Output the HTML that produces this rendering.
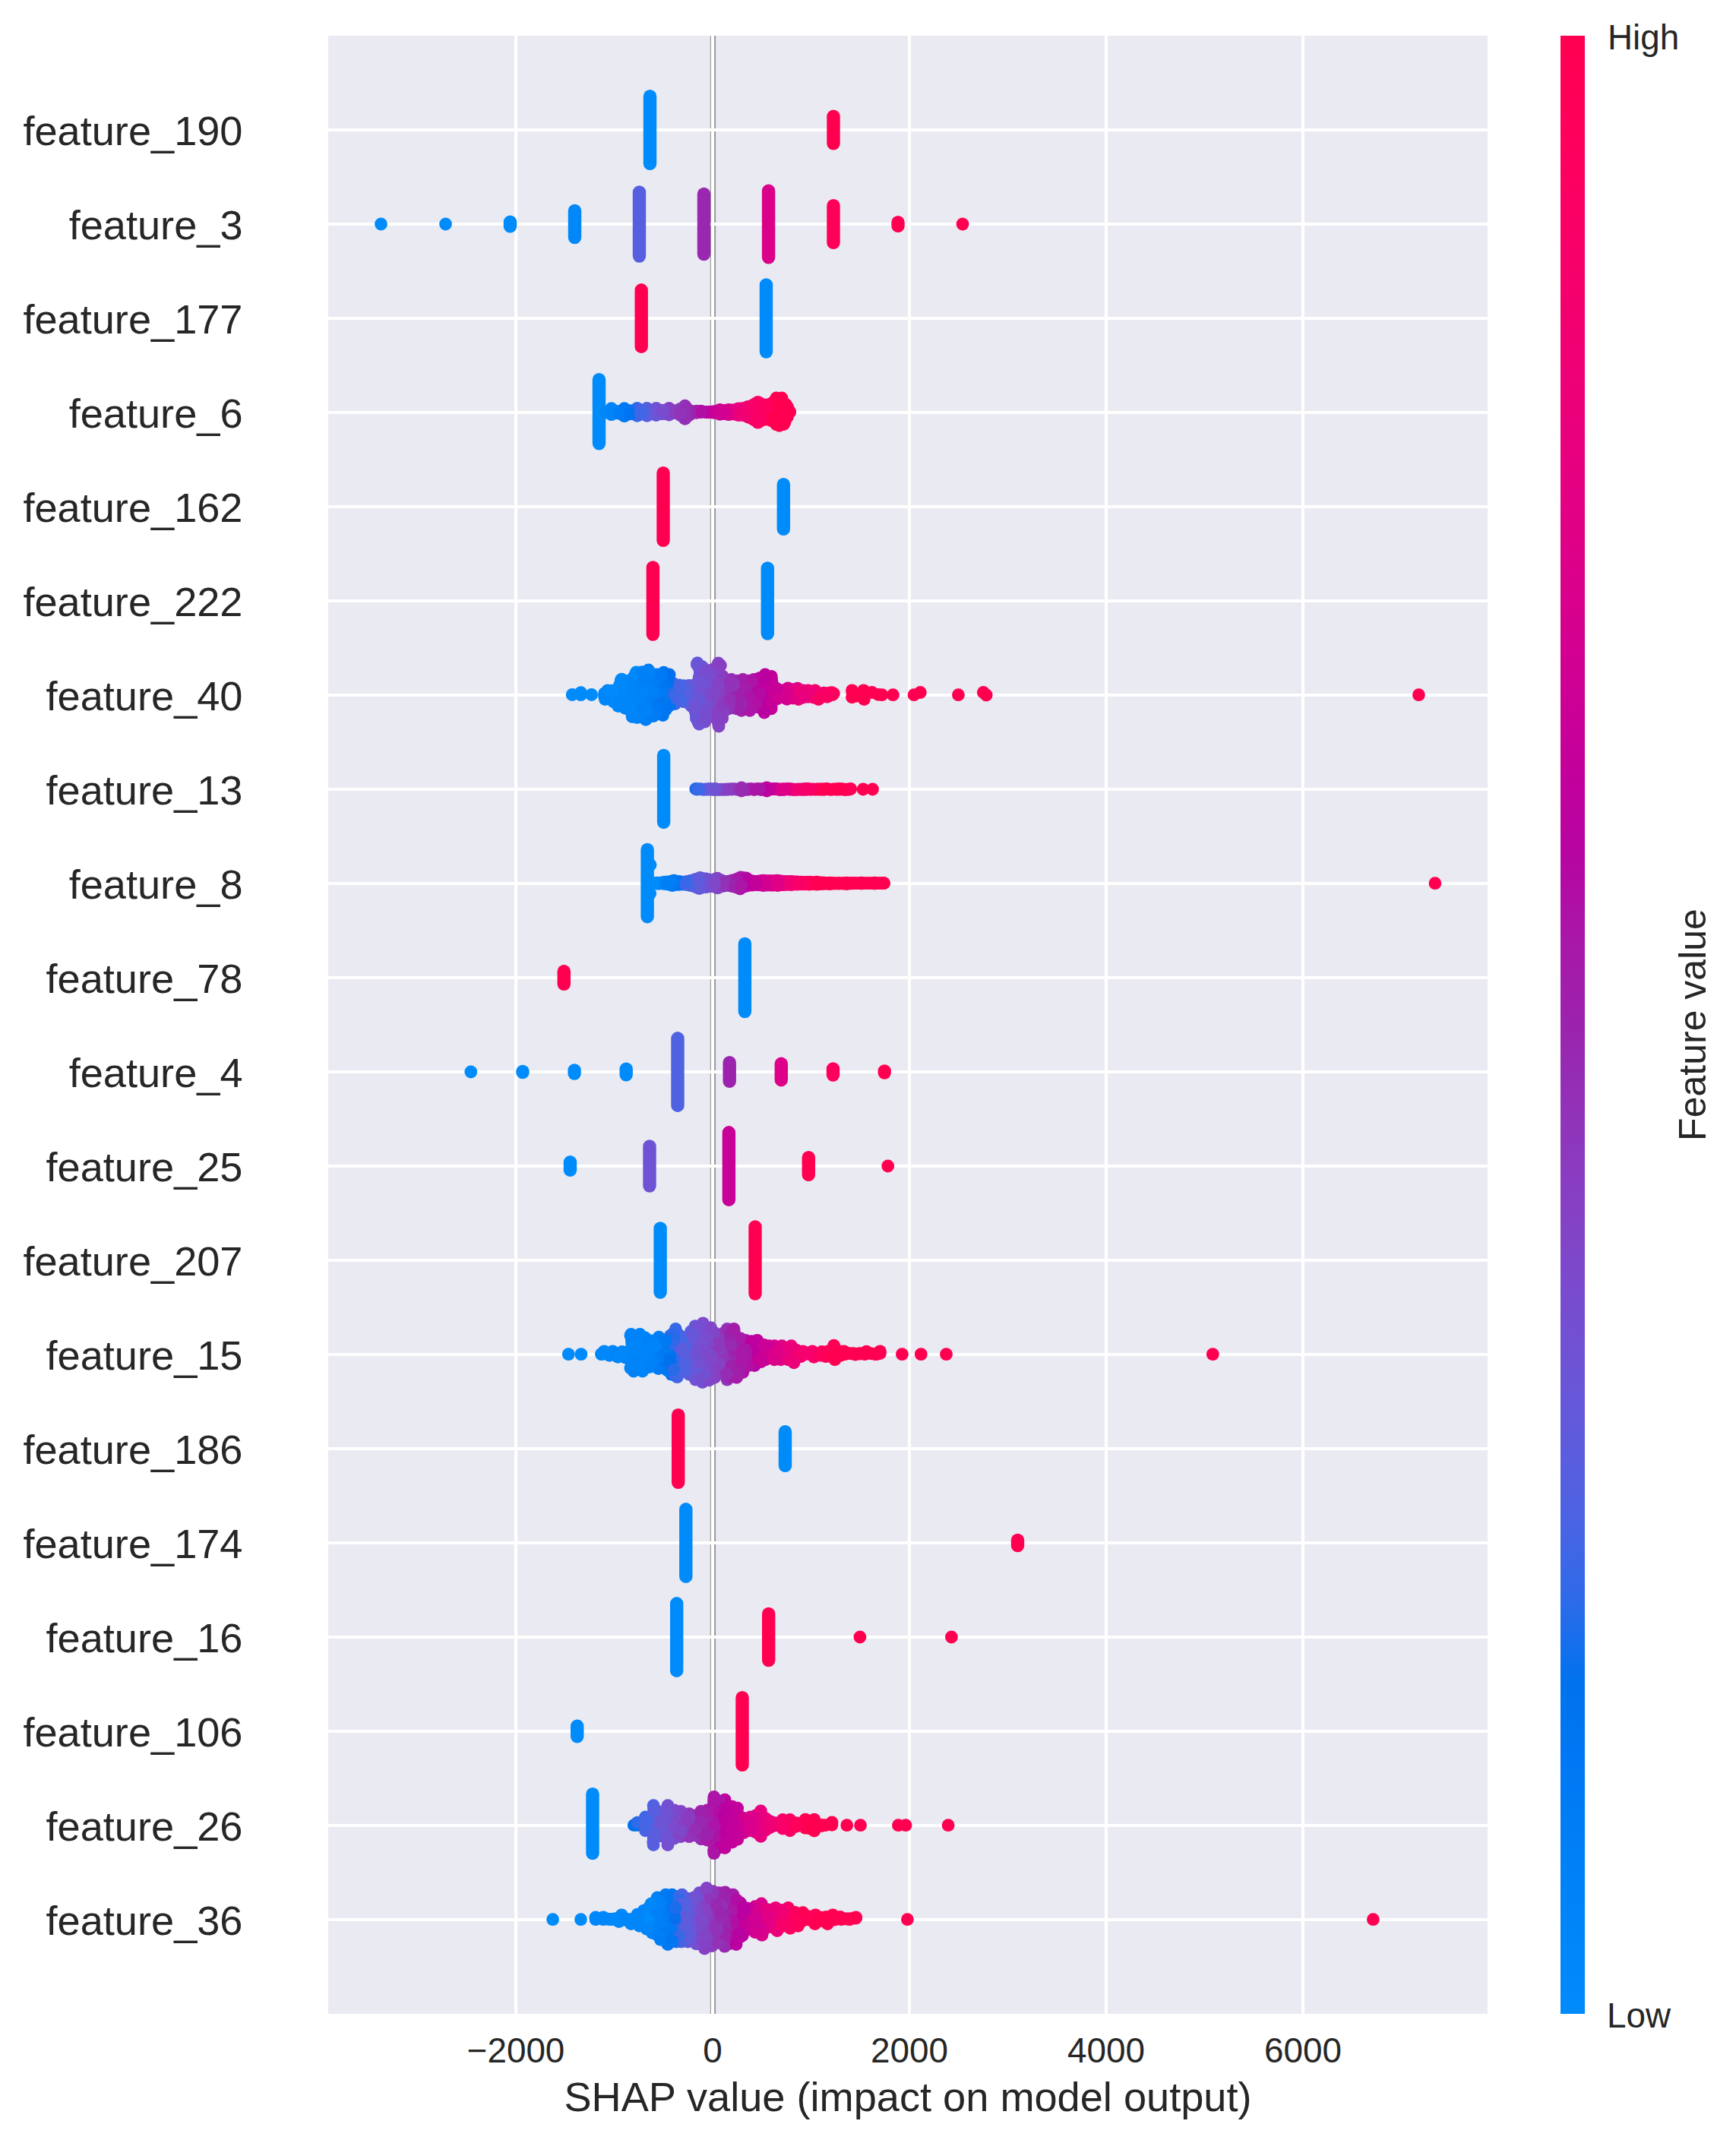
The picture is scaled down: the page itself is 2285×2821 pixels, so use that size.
<!DOCTYPE html><html><head><meta charset="utf-8"><title>SHAP summary</title><style>html,body{margin:0;padding:0;background:#fff}svg{display:block}</style></head><body><svg width="2285" height="2821" viewBox="0 0 2285 2821">
<rect x="0" y="0" width="2285" height="2821" fill="#fff"/>
<rect x="432" y="47" width="1526" height="2604" fill="#eaeaf2"/>
<rect x="934.8" y="47" width="7.3" height="2604" fill="#999"/>
<g stroke="#fff" stroke-width="4.17"><line x1="679" y1="47" x2="679" y2="2651"/><line x1="938" y1="47" x2="938" y2="2651"/><line x1="1197" y1="47" x2="1197" y2="2651"/><line x1="1456" y1="47" x2="1456" y2="2651"/><line x1="1715" y1="47" x2="1715" y2="2651"/><line x1="432" y1="171" x2="1958" y2="171"/><line x1="432" y1="295" x2="1958" y2="295"/><line x1="432" y1="419" x2="1958" y2="419"/><line x1="432" y1="543" x2="1958" y2="543"/><line x1="432" y1="667" x2="1958" y2="667"/><line x1="432" y1="791" x2="1958" y2="791"/><line x1="432" y1="915" x2="1958" y2="915"/><line x1="432" y1="1039" x2="1958" y2="1039"/><line x1="432" y1="1163" x2="1958" y2="1163"/><line x1="432" y1="1287" x2="1958" y2="1287"/><line x1="432" y1="1411" x2="1958" y2="1411"/><line x1="432" y1="1535" x2="1958" y2="1535"/><line x1="432" y1="1659" x2="1958" y2="1659"/><line x1="432" y1="1783" x2="1958" y2="1783"/><line x1="432" y1="1907" x2="1958" y2="1907"/><line x1="432" y1="2031" x2="1958" y2="2031"/><line x1="432" y1="2155" x2="1958" y2="2155"/><line x1="432" y1="2279" x2="1958" y2="2279"/><line x1="432" y1="2403" x2="1958" y2="2403"/><line x1="432" y1="2527" x2="1958" y2="2527"/></g>
<defs><linearGradient id="cb" x1="0" y1="0" x2="0" y2="1"><stop offset="0.0000" stop-color="#ff0051"/><stop offset="0.0417" stop-color="#ff005a"/><stop offset="0.0833" stop-color="#fb0064"/><stop offset="0.1250" stop-color="#f5006c"/><stop offset="0.1667" stop-color="#ef0075"/><stop offset="0.2083" stop-color="#e8007e"/><stop offset="0.2500" stop-color="#e00086"/><stop offset="0.2917" stop-color="#d7008d"/><stop offset="0.3333" stop-color="#cd0095"/><stop offset="0.3750" stop-color="#c2009c"/><stop offset="0.4167" stop-color="#b606a2"/><stop offset="0.4583" stop-color="#a918a8"/><stop offset="0.5000" stop-color="#9b23ad"/><stop offset="0.5417" stop-color="#9232b8"/><stop offset="0.5833" stop-color="#883ec2"/><stop offset="0.6250" stop-color="#7d49cb"/><stop offset="0.6667" stop-color="#6f52d4"/><stop offset="0.7083" stop-color="#5f5bdc"/><stop offset="0.7500" stop-color="#4b63e3"/><stop offset="0.7917" stop-color="#2d6be9"/><stop offset="0.8333" stop-color="#0072ee"/><stop offset="0.8750" stop-color="#0078f3"/><stop offset="0.9167" stop-color="#007ff6"/><stop offset="0.9583" stop-color="#0085f9"/><stop offset="1.0000" stop-color="#008bfb"/></linearGradient></defs>
<rect x="2054" y="47" width="32" height="2604" fill="url(#cb)"/>
<g stroke-width="17.4" stroke-linecap="round"><line x1="855.5" y1="126.7" x2="855.5" y2="215.3" stroke="#008bfb"/><line x1="1097.0" y1="153.1" x2="1097.0" y2="188.9" stroke="#ff0051"/><line x1="671.5" y1="292.1" x2="671.5" y2="297.9" stroke="#008bfb"/><line x1="756.5" y1="277.4" x2="756.5" y2="312.6" stroke="#0088fa"/><line x1="841.5" y1="253.0" x2="841.5" y2="337.0" stroke="#555fe0"/><line x1="926.5" y1="255.4" x2="926.5" y2="334.6" stroke="#9927af"/><line x1="1011.6" y1="251.2" x2="1011.6" y2="338.8" stroke="#db008a"/><line x1="1097.0" y1="270.6" x2="1097.0" y2="319.4" stroke="#ff0058"/><line x1="1182.0" y1="292.7" x2="1182.0" y2="297.3" stroke="#ff0051"/><line x1="844.2" y1="381.8" x2="844.2" y2="456.2" stroke="#ff0051"/><line x1="1008.5" y1="374.9" x2="1008.5" y2="463.1" stroke="#008bfb"/><line x1="788.5" y1="499.6" x2="788.5" y2="583.8" stroke="#008bfb"/><line x1="873.0" y1="622.7" x2="873.0" y2="711.3" stroke="#ff0051"/><line x1="1031.3" y1="637.6" x2="1031.3" y2="696.4" stroke="#008bfb"/><line x1="859.4" y1="746.9" x2="859.4" y2="835.1" stroke="#ff0051"/><line x1="1010.3" y1="748.0" x2="1010.3" y2="834.0" stroke="#008bfb"/><line x1="873.6" y1="994.4" x2="873.6" y2="1082.3" stroke="#008bfb"/><line x1="852.1" y1="1118.5" x2="852.1" y2="1206.7" stroke="#008bfb"/><line x1="742.3" y1="1278.7" x2="742.3" y2="1295.3" stroke="#ff0051"/><line x1="980.4" y1="1242.5" x2="980.4" y2="1331.5" stroke="#008bfb"/><line x1="688.0" y1="1410.5" x2="688.0" y2="1411.5" stroke="#008bfb"/><line x1="756.1" y1="1409.0" x2="756.1" y2="1413.0" stroke="#008bfb"/><line x1="824.2" y1="1407.2" x2="824.2" y2="1414.8" stroke="#008bfb"/><line x1="892.0" y1="1366.8" x2="892.0" y2="1455.2" stroke="#4e62e2"/><line x1="960.2" y1="1398.6" x2="960.2" y2="1423.4" stroke="#9b23ad"/><line x1="1028.3" y1="1400.3" x2="1028.3" y2="1421.7" stroke="#de0088"/><line x1="1096.5" y1="1406.9" x2="1096.5" y2="1415.1" stroke="#fe005c"/><line x1="1164.2" y1="1410.0" x2="1164.2" y2="1412.0" stroke="#ff0051"/><line x1="750.5" y1="1529.8" x2="750.5" y2="1540.2" stroke="#008bfb"/><line x1="855.0" y1="1509.0" x2="855.0" y2="1561.0" stroke="#6e53d5"/><line x1="959.4" y1="1490.8" x2="959.4" y2="1579.2" stroke="#c80098"/><line x1="1064.3" y1="1523.6" x2="1064.3" y2="1546.4" stroke="#ff0051"/><line x1="869.1" y1="1617.0" x2="869.1" y2="1701.0" stroke="#008bfb"/><line x1="994.0" y1="1615.0" x2="994.0" y2="1703.0" stroke="#ff0051"/><line x1="892.7" y1="1862.6" x2="892.7" y2="1951.4" stroke="#ff0051"/><line x1="1033.5" y1="1884.6" x2="1033.5" y2="1929.4" stroke="#008bfb"/><line x1="902.8" y1="1986.8" x2="902.8" y2="2075.2" stroke="#008bfb"/><line x1="1339.5" y1="2027.5" x2="1339.5" y2="2034.5" stroke="#ff0051"/><line x1="890.7" y1="2110.8" x2="890.7" y2="2199.2" stroke="#008bfb"/><line x1="1011.7" y1="2124.5" x2="1011.7" y2="2185.5" stroke="#ff0051"/><line x1="759.7" y1="2272.1" x2="759.7" y2="2285.9" stroke="#008bfb"/><line x1="977.0" y1="2234.6" x2="977.0" y2="2323.4" stroke="#ff0051"/><line x1="780.0" y1="2361.6" x2="780.0" y2="2439.6" stroke="#008bfb"/></g>
<g class="d"><circle cx="922.3" cy="1759.7" r="8.4" fill="#6e53d5"/><circle cx="830.6" cy="1756.4" r="8.4" fill="#0084f9"/><circle cx="1011.7" cy="1778.5" r="8.4" fill="#ce0093"/><circle cx="886.2" cy="904.3" r="8.4" fill="#2d6be9"/><circle cx="862.2" cy="1788.9" r="8.4" fill="#0082f8"/><circle cx="1000.6" cy="908.5" r="8.4" fill="#b802a1"/><circle cx="922.6" cy="2402.6" r="8.4" fill="#9f20ab"/><circle cx="872.5" cy="941.6" r="8.4" fill="#0078f2"/><circle cx="875.2" cy="923.3" r="8.4" fill="#0075f1"/><circle cx="1075.0" cy="1164.2" r="8.4" fill="#ff0051"/><circle cx="920.3" cy="926.0" r="8.4" fill="#7350d2"/><circle cx="838.3" cy="2532.1" r="8.4" fill="#0085f9"/><circle cx="974.2" cy="1170.1" r="8.4" fill="#a71aa9"/><circle cx="990.3" cy="533.6" r="8.4" fill="#f7006a"/><circle cx="873.6" cy="2511.5" r="8.4" fill="#007cf5"/><circle cx="916.2" cy="1167.7" r="8.4" fill="#5b5ddd"/><circle cx="1025.5" cy="528.4" r="8.4" fill="#ff0051"/><circle cx="997.2" cy="1779.9" r="8.4" fill="#bc009f"/><circle cx="1066.4" cy="1161.6" r="8.4" fill="#ff0058"/><circle cx="1080.4" cy="917.1" r="8.4" fill="#f6006b"/><circle cx="868.2" cy="544.7" r="8.4" fill="#6c54d6"/><circle cx="860.2" cy="2404.6" r="8.4" fill="#5c5cdd"/><circle cx="871.5" cy="1790.1" r="8.4" fill="#007ef6"/><circle cx="853.9" cy="2511.4" r="8.4" fill="#0084f9"/><circle cx="840.7" cy="891.9" r="8.4" fill="#0084f9"/><circle cx="936.6" cy="1803.4" r="8.4" fill="#7f47c9"/><circle cx="934.4" cy="2504.0" r="8.4" fill="#8c3abe"/><circle cx="821.1" cy="910.8" r="8.4" fill="#0089fa"/><circle cx="929.7" cy="2552.2" r="8.4" fill="#8442c5"/><circle cx="1131.9" cy="2155.0" r="8.4" fill="#ff0051"/><circle cx="963.7" cy="1039.0" r="8.4" fill="#883fc2"/><circle cx="888.6" cy="2515.7" r="8.4" fill="#0073ef"/><circle cx="1021.4" cy="1159.6" r="8.4" fill="#e00086"/><circle cx="925.3" cy="882.5" r="8.4" fill="#7251d2"/><circle cx="937.7" cy="1038.7" r="8.4" fill="#6657d9"/><circle cx="915.0" cy="2390.0" r="8.4" fill="#9331b7"/><circle cx="922.4" cy="1755.0" r="8.4" fill="#6d53d5"/><circle cx="978.8" cy="2543.5" r="8.4" fill="#c2009b"/><circle cx="966.2" cy="925.5" r="8.4" fill="#9134b9"/><circle cx="901.9" cy="1798.7" r="8.4" fill="#5d5cdd"/><circle cx="890.3" cy="911.6" r="8.4" fill="#3e67e6"/><circle cx="807.8" cy="544.1" r="8.4" fill="#0083f8"/><circle cx="889.8" cy="2501.3" r="8.4" fill="#0070ed"/><circle cx="873.7" cy="2506.8" r="8.4" fill="#007cf5"/><circle cx="979.0" cy="2412.5" r="8.4" fill="#d10092"/><circle cx="1010.9" cy="896.1" r="8.4" fill="#c1009c"/><circle cx="921.2" cy="1797.3" r="8.4" fill="#7152d3"/><circle cx="913.3" cy="1164.0" r="8.4" fill="#5360e0"/><circle cx="979.7" cy="1038.9" r="8.4" fill="#952eb5"/><circle cx="995.6" cy="930.6" r="8.4" fill="#b20da4"/><circle cx="940.2" cy="919.3" r="8.4" fill="#8145c8"/><circle cx="910.3" cy="913.5" r="8.4" fill="#6459da"/><circle cx="940.5" cy="1813.4" r="8.4" fill="#883ec2"/><circle cx="939.1" cy="2521.8" r="8.4" fill="#8f36bb"/><circle cx="1094.7" cy="911.6" r="8.4" fill="#fd005e"/><circle cx="866.2" cy="924.8" r="8.4" fill="#0079f3"/><circle cx="869.2" cy="2550.5" r="8.4" fill="#0081f8"/><circle cx="1093.7" cy="1039.3" r="8.4" fill="#ff0051"/><circle cx="727.6" cy="2526.7" r="8.4" fill="#008bfb"/><circle cx="947.5" cy="2412.9" r="8.4" fill="#b900a0"/><circle cx="849.1" cy="2526.0" r="8.4" fill="#0083f8"/><circle cx="957.1" cy="1749.5" r="8.4" fill="#9134b9"/><circle cx="920.8" cy="950.3" r="8.4" fill="#6d54d5"/><circle cx="1008.0" cy="2394.0" r="8.4" fill="#eb007a"/><circle cx="826.0" cy="921.1" r="8.4" fill="#0086f9"/><circle cx="1021.6" cy="531.5" r="8.4" fill="#ff0052"/><circle cx="870.7" cy="911.6" r="8.4" fill="#0079f3"/><circle cx="909.8" cy="1161.6" r="8.4" fill="#585edf"/><circle cx="910.7" cy="1163.7" r="8.4" fill="#575edf"/><circle cx="947.1" cy="1800.0" r="8.4" fill="#893dc1"/><circle cx="831.8" cy="1800.4" r="8.4" fill="#0084f9"/><circle cx="1003.2" cy="1165.0" r="8.4" fill="#ca0097"/><circle cx="910.2" cy="927.4" r="8.4" fill="#5e5cdc"/><circle cx="966.6" cy="545.2" r="8.4" fill="#e6007f"/><circle cx="985.1" cy="908.3" r="8.4" fill="#a61ba9"/><circle cx="855.1" cy="937.5" r="8.4" fill="#007ff6"/><circle cx="975.6" cy="538.0" r="8.4" fill="#ed0078"/><circle cx="1046.0" cy="917.0" r="8.4" fill="#e20083"/><circle cx="1001.0" cy="931.8" r="8.4" fill="#b408a3"/><circle cx="810.7" cy="924.2" r="8.4" fill="#0088fa"/><circle cx="873.6" cy="2502.1" r="8.4" fill="#0079f3"/><circle cx="1064.3" cy="1163.7" r="8.4" fill="#ff0058"/><circle cx="984.7" cy="2514.1" r="8.4" fill="#c70098"/><circle cx="862.3" cy="1784.2" r="8.4" fill="#0081f7"/><circle cx="1044.1" cy="2522.3" r="8.4" fill="#fa0064"/><circle cx="839.8" cy="942.5" r="8.4" fill="#0081f7"/><circle cx="921.3" cy="1773.8" r="8.4" fill="#7251d2"/><circle cx="939.5" cy="543.3" r="8.4" fill="#c70098"/><circle cx="1008.0" cy="2409.0" r="8.4" fill="#ec0079"/><circle cx="1059.9" cy="911.3" r="8.4" fill="#e8007e"/><circle cx="864.6" cy="2506.6" r="8.4" fill="#0080f7"/><circle cx="1001.0" cy="531.5" r="8.4" fill="#fc0062"/><circle cx="1095.0" cy="2402.3" r="8.4" fill="#ff0051"/><circle cx="929.0" cy="2532.6" r="8.4" fill="#8740c3"/><circle cx="997.6" cy="530.4" r="8.4" fill="#fc0062"/><circle cx="1021.4" cy="1162.3" r="8.4" fill="#de0087"/><circle cx="971.1" cy="2391.4" r="8.4" fill="#cc0095"/><circle cx="975.8" cy="543.6" r="8.4" fill="#eb007a"/><circle cx="927.3" cy="542.3" r="8.4" fill="#b606a2"/><circle cx="972.6" cy="1780.5" r="8.4" fill="#a01fab"/><circle cx="1021.8" cy="534.8" r="8.4" fill="#ff0051"/><circle cx="1119.7" cy="1038.5" r="8.4" fill="#ff0051"/><circle cx="915.2" cy="906.7" r="8.4" fill="#6a56d7"/><circle cx="922.9" cy="1168.5" r="8.4" fill="#6c54d6"/><circle cx="835.2" cy="889.4" r="8.4" fill="#0083f8"/><circle cx="935.7" cy="923.7" r="8.4" fill="#7b4acc"/><circle cx="851.3" cy="2539.4" r="8.4" fill="#0085f9"/><circle cx="946.7" cy="2401.5" r="8.4" fill="#b10ea4"/><circle cx="930.7" cy="886.4" r="8.4" fill="#7a4bce"/><circle cx="960.5" cy="916.1" r="8.4" fill="#962cb3"/><circle cx="1103.7" cy="1038.5" r="8.4" fill="#ff0051"/><circle cx="1096.7" cy="1163.1" r="8.4" fill="#ff0051"/><circle cx="984.7" cy="549.0" r="8.4" fill="#f4006e"/><circle cx="1026.3" cy="1778.6" r="8.4" fill="#df0087"/><circle cx="918.7" cy="950.2" r="8.4" fill="#6e53d5"/><circle cx="1007.9" cy="551.3" r="8.4" fill="#fe005c"/><circle cx="847.0" cy="1793.0" r="8.4" fill="#0085f9"/><circle cx="810.3" cy="919.7" r="8.4" fill="#0086f9"/><circle cx="887.5" cy="2383.0" r="8.4" fill="#7b4acc"/><circle cx="1054.2" cy="2525.0" r="8.4" fill="#ff0055"/><circle cx="1106.9" cy="1781.3" r="8.4" fill="#ff0052"/><circle cx="850.0" cy="947.4" r="8.4" fill="#007ff6"/><circle cx="977.2" cy="1163.2" r="8.4" fill="#af11a5"/><circle cx="886.0" cy="926.0" r="8.4" fill="#3868e7"/><circle cx="1153.6" cy="1782.7" r="8.4" fill="#ff0055"/><circle cx="920.2" cy="906.6" r="8.4" fill="#6956d7"/><circle cx="1030.1" cy="917.8" r="8.4" fill="#c90097"/><circle cx="962.3" cy="1775.3" r="8.4" fill="#9a25ae"/><circle cx="1001.7" cy="1039.5" r="8.4" fill="#b507a2"/><circle cx="951.9" cy="542.4" r="8.4" fill="#d10092"/><circle cx="1033.8" cy="2529.1" r="8.4" fill="#f90067"/><circle cx="830.6" cy="2532.5" r="8.4" fill="#0084f9"/><circle cx="1187.4" cy="1782.7" r="8.4" fill="#ff0051"/><circle cx="913.4" cy="1158.5" r="8.4" fill="#565fdf"/><circle cx="977.3" cy="2547.7" r="8.4" fill="#c1009c"/><circle cx="965.2" cy="930.2" r="8.4" fill="#952eb4"/><circle cx="1024.6" cy="2524.3" r="8.4" fill="#ee0076"/><circle cx="992.1" cy="1795.0" r="8.4" fill="#b20da4"/><circle cx="877.1" cy="1791.2" r="8.4" fill="#0075f1"/><circle cx="887.8" cy="2401.5" r="8.4" fill="#7d49cb"/><circle cx="1098.9" cy="1789.9" r="8.4" fill="#ff0051"/><circle cx="1001.5" cy="2410.0" r="8.4" fill="#e50081"/><circle cx="1054.0" cy="1163.9" r="8.4" fill="#f90066"/><circle cx="844.2" cy="2524.3" r="8.4" fill="#0083f8"/><circle cx="886.9" cy="900.1" r="8.4" fill="#4465e5"/><circle cx="979.0" cy="2408.7" r="8.4" fill="#d30090"/><circle cx="964.7" cy="2543.7" r="8.4" fill="#a819a8"/><circle cx="951.8" cy="1803.8" r="8.4" fill="#942fb5"/><circle cx="996.7" cy="536.6" r="8.4" fill="#fc0062"/><circle cx="985.2" cy="932.8" r="8.4" fill="#ac15a7"/><circle cx="1021.3" cy="1774.1" r="8.4" fill="#d8008d"/><circle cx="878.5" cy="2510.5" r="8.4" fill="#007af4"/><circle cx="953.0" cy="1163.2" r="8.4" fill="#9331b6"/><circle cx="1012.1" cy="545.7" r="8.4" fill="#ff005b"/><circle cx="1009.6" cy="1162.3" r="8.4" fill="#d40090"/><circle cx="950.3" cy="914.2" r="8.4" fill="#8343c6"/><circle cx="932.3" cy="1748.1" r="8.4" fill="#8442c5"/><circle cx="841.2" cy="924.1" r="8.4" fill="#0082f8"/><circle cx="871.5" cy="1162.0" r="8.4" fill="#0084f9"/><circle cx="964.2" cy="1166.4" r="8.4" fill="#9c23ad"/><circle cx="1106.5" cy="1781.8" r="8.4" fill="#ff0051"/><circle cx="914.7" cy="2412.3" r="8.4" fill="#962cb3"/><circle cx="917.1" cy="1162.6" r="8.4" fill="#575fdf"/><circle cx="920.5" cy="2491.7" r="8.4" fill="#7251d2"/><circle cx="907.3" cy="1773.5" r="8.4" fill="#585edf"/><circle cx="1070.5" cy="918.0" r="8.4" fill="#f4006e"/><circle cx="939.5" cy="2373.2" r="8.4" fill="#ab15a7"/><circle cx="1084.7" cy="1162.2" r="8.4" fill="#ff0051"/><circle cx="941.6" cy="1804.9" r="8.4" fill="#8542c5"/><circle cx="933.3" cy="2546.1" r="8.4" fill="#8c3abe"/><circle cx="906.9" cy="902.4" r="8.4" fill="#5c5cdd"/><circle cx="983.7" cy="2533.6" r="8.4" fill="#ce0094"/><circle cx="1133.8" cy="1163.0" r="8.4" fill="#ff0051"/><circle cx="1212.3" cy="1782.7" r="8.4" fill="#ff0051"/><circle cx="1013.5" cy="2520.6" r="8.4" fill="#e40081"/><circle cx="873.3" cy="2553.8" r="8.4" fill="#007cf5"/><circle cx="1059.7" cy="1038.5" r="8.4" fill="#f6006c"/><circle cx="958.9" cy="1165.4" r="8.4" fill="#9430b6"/><circle cx="927.0" cy="1759.4" r="8.4" fill="#784dcf"/><circle cx="858.5" cy="2542.4" r="8.4" fill="#0086fa"/><circle cx="815.8" cy="901.2" r="8.4" fill="#0086f9"/><circle cx="1017.7" cy="1038.6" r="8.4" fill="#cb0096"/><circle cx="941.3" cy="1768.4" r="8.4" fill="#8b3cc0"/><circle cx="826.2" cy="898.2" r="8.4" fill="#0087fa"/><circle cx="1009.7" cy="1039.4" r="8.4" fill="#bf009d"/><circle cx="1049.2" cy="2519.9" r="8.4" fill="#ff0058"/><circle cx="891.3" cy="903.6" r="8.4" fill="#4166e5"/><circle cx="880.8" cy="895.2" r="8.4" fill="#026fed"/><circle cx="954.5" cy="2493.6" r="8.4" fill="#9b23ad"/><circle cx="924.7" cy="2521.4" r="8.4" fill="#7e48cb"/><circle cx="962.1" cy="1794.0" r="8.4" fill="#a11fab"/><circle cx="829.9" cy="922.5" r="8.4" fill="#0087fa"/><circle cx="803.0" cy="2526.4" r="8.4" fill="#0085f9"/><circle cx="900.5" cy="905.5" r="8.4" fill="#4964e3"/><circle cx="833.9" cy="2526.5" r="8.4" fill="#0087fa"/><circle cx="974.0" cy="1155.9" r="8.4" fill="#a819a8"/><circle cx="836.2" cy="1773.5" r="8.4" fill="#0080f7"/><circle cx="830.0" cy="936.2" r="8.4" fill="#0085f9"/><circle cx="859.3" cy="2533.4" r="8.4" fill="#0088fa"/><circle cx="869.5" cy="2416.9" r="8.4" fill="#6b55d6"/><circle cx="1020.5" cy="2399.7" r="8.4" fill="#f10073"/><circle cx="1081.7" cy="1779.5" r="8.4" fill="#fd005e"/><circle cx="1026.1" cy="548.8" r="8.4" fill="#ff0052"/><circle cx="1022.3" cy="1783.0" r="8.4" fill="#da008a"/><circle cx="874.7" cy="542.2" r="8.4" fill="#794cce"/><circle cx="949.7" cy="1039.2" r="8.4" fill="#744fd1"/><circle cx="840.7" cy="937.9" r="8.4" fill="#0081f8"/><circle cx="982.6" cy="1161.2" r="8.4" fill="#b604a2"/><circle cx="1074.7" cy="2523.5" r="8.4" fill="#ff0051"/><circle cx="860.5" cy="2380.6" r="8.4" fill="#5a5dde"/><circle cx="941.1" cy="1164.9" r="8.4" fill="#7f47ca"/><circle cx="831.3" cy="1763.5" r="8.4" fill="#0086f9"/><circle cx="945.6" cy="880.5" r="8.4" fill="#8343c6"/><circle cx="916.3" cy="2558.8" r="8.4" fill="#754fd1"/><circle cx="920.0" cy="1166.3" r="8.4" fill="#605bdc"/><circle cx="1111.8" cy="1780.9" r="8.4" fill="#ff0051"/><circle cx="946.5" cy="2397.7" r="8.4" fill="#b20ca4"/><circle cx="845.0" cy="924.8" r="8.4" fill="#0081f8"/><circle cx="1012.2" cy="1162.3" r="8.4" fill="#d40090"/><circle cx="1032.3" cy="549.4" r="8.4" fill="#ff0051"/><circle cx="916.2" cy="1160.0" r="8.4" fill="#5d5cdd"/><circle cx="1004.7" cy="2514.7" r="8.4" fill="#dd0088"/><circle cx="994.5" cy="541.1" r="8.4" fill="#f80067"/><circle cx="1087.2" cy="1785.7" r="8.4" fill="#fc0060"/><circle cx="989.3" cy="1159.6" r="8.4" fill="#bb009f"/><circle cx="836.3" cy="922.6" r="8.4" fill="#0083f8"/><circle cx="1010.8" cy="533.0" r="8.4" fill="#ff0059"/><circle cx="980.5" cy="932.8" r="8.4" fill="#a01fab"/><circle cx="1114.2" cy="1162.2" r="8.4" fill="#ff0051"/><circle cx="898.9" cy="539.6" r="8.4" fill="#9331b7"/><circle cx="970.9" cy="2387.6" r="8.4" fill="#c80098"/><circle cx="963.8" cy="2425.0" r="8.4" fill="#c3009b"/><circle cx="976.0" cy="906.2" r="8.4" fill="#9926af"/><circle cx="876.2" cy="2494.1" r="8.4" fill="#007bf4"/><circle cx="947.3" cy="1162.8" r="8.4" fill="#8740c3"/><circle cx="983.3" cy="1165.8" r="8.4" fill="#b409a3"/><circle cx="966.3" cy="1753.3" r="8.4" fill="#a01fab"/><circle cx="888.5" cy="2530.0" r="8.4" fill="#0072ee"/><circle cx="819.3" cy="542.8" r="8.4" fill="#007cf5"/><circle cx="1037.4" cy="1789.9" r="8.4" fill="#e10084"/><circle cx="883.3" cy="2545.6" r="8.4" fill="#0079f3"/><circle cx="1005.5" cy="911.0" r="8.4" fill="#bb009f"/><circle cx="966.2" cy="1792.1" r="8.4" fill="#9f20ab"/><circle cx="970.2" cy="1159.8" r="8.4" fill="#a11fab"/><circle cx="886.6" cy="1774.4" r="8.4" fill="#3e67e6"/><circle cx="880.1" cy="909.7" r="8.4" fill="#1d6deb"/><circle cx="1158.4" cy="1778.8" r="8.4" fill="#ff0051"/><circle cx="972.0" cy="1766.2" r="8.4" fill="#a918a8"/><circle cx="1029.1" cy="1771.6" r="8.4" fill="#de0087"/><circle cx="971.6" cy="1799.5" r="8.4" fill="#a818a8"/><circle cx="1026.8" cy="1787.4" r="8.4" fill="#e00085"/><circle cx="997.1" cy="1767.0" r="8.4" fill="#bf009d"/><circle cx="1147.7" cy="911.5" r="8.4" fill="#ff0051"/><circle cx="1015.0" cy="929.6" r="8.4" fill="#c80098"/><circle cx="875.3" cy="908.3" r="8.4" fill="#0076f1"/><circle cx="860.0" cy="935.5" r="8.4" fill="#007bf4"/><circle cx="841.8" cy="1778.3" r="8.4" fill="#0082f8"/><circle cx="849.5" cy="2391.9" r="8.4" fill="#3968e7"/><circle cx="847.4" cy="544.3" r="8.4" fill="#4a63e3"/><circle cx="967.2" cy="1782.4" r="8.4" fill="#a41caa"/><circle cx="1036.9" cy="1164.4" r="8.4" fill="#ed0078"/><circle cx="943.9" cy="2527.0" r="8.4" fill="#9233b9"/><circle cx="947.2" cy="1165.3" r="8.4" fill="#8640c4"/><circle cx="968.2" cy="1160.4" r="8.4" fill="#a31daa"/><circle cx="943.2" cy="1159.6" r="8.4" fill="#8641c4"/><circle cx="955.1" cy="922.6" r="8.4" fill="#8d39bd"/><circle cx="963.3" cy="2557.9" r="8.4" fill="#a61aa9"/><circle cx="971.8" cy="546.5" r="8.4" fill="#e9007d"/><circle cx="970.2" cy="926.3" r="8.4" fill="#9d22ac"/><circle cx="1111.6" cy="1162.7" r="8.4" fill="#ff0051"/><circle cx="916.3" cy="1790.3" r="8.4" fill="#6259da"/><circle cx="952.6" cy="1785.3" r="8.4" fill="#8f37bc"/><circle cx="1011.4" cy="923.8" r="8.4" fill="#c70098"/><circle cx="821.0" cy="929.2" r="8.4" fill="#0086fa"/><circle cx="970.2" cy="1168.4" r="8.4" fill="#a01fab"/><circle cx="1034.4" cy="2520.0" r="8.4" fill="#f6006c"/><circle cx="1120.6" cy="1162.9" r="8.4" fill="#ff0053"/><circle cx="1072.8" cy="908.8" r="8.4" fill="#f7006a"/><circle cx="1003.7" cy="2543.6" r="8.4" fill="#de0087"/><circle cx="999.9" cy="894.5" r="8.4" fill="#b604a2"/><circle cx="1153.6" cy="1162.6" r="8.4" fill="#ff0051"/><circle cx="861.3" cy="1765.3" r="8.4" fill="#0084f9"/><circle cx="853.5" cy="882.0" r="8.4" fill="#007df5"/><circle cx="1093.2" cy="1163.1" r="8.4" fill="#ff0051"/><circle cx="957.5" cy="1799.3" r="8.4" fill="#972bb2"/><circle cx="1182.4" cy="2402.7" r="8.4" fill="#ff0051"/><circle cx="906.6" cy="2395.2" r="8.4" fill="#8e38bd"/><circle cx="957.5" cy="1789.9" r="8.4" fill="#962cb3"/><circle cx="889.9" cy="923.6" r="8.4" fill="#4066e6"/><circle cx="833.5" cy="2530.9" r="8.4" fill="#0086f9"/><circle cx="1031.7" cy="1783.0" r="8.4" fill="#de0087"/><circle cx="1008.4" cy="2401.5" r="8.4" fill="#e8007d"/><circle cx="1001.2" cy="917.8" r="8.4" fill="#b901a0"/><circle cx="934.5" cy="1161.3" r="8.4" fill="#744fd1"/><circle cx="800.4" cy="917.3" r="8.4" fill="#008afb"/><circle cx="815.0" cy="914.4" r="8.4" fill="#0089fa"/><circle cx="836.7" cy="542.5" r="8.4" fill="#326ae8"/><circle cx="1040.8" cy="917.1" r="8.4" fill="#db008a"/><circle cx="983.8" cy="2519.0" r="8.4" fill="#c1009c"/><circle cx="948.7" cy="542.4" r="8.4" fill="#d10092"/><circle cx="850.2" cy="919.9" r="8.4" fill="#0082f8"/><circle cx="1024.0" cy="1159.7" r="8.4" fill="#e00085"/><circle cx="1022.2" cy="557.7" r="8.4" fill="#ff0051"/><circle cx="918.0" cy="873.0" r="8.4" fill="#6558d9"/><circle cx="922.7" cy="1163.6" r="8.4" fill="#6a55d7"/><circle cx="930.8" cy="2398.7" r="8.4" fill="#a918a8"/><circle cx="1046.5" cy="2517.3" r="8.4" fill="#fe005c"/><circle cx="969.6" cy="2538.4" r="8.4" fill="#ae12a5"/><circle cx="861.2" cy="902.7" r="8.4" fill="#007ef6"/><circle cx="903.4" cy="2543.8" r="8.4" fill="#595ede"/><circle cx="904.6" cy="2529.3" r="8.4" fill="#6657d9"/><circle cx="1032.1" cy="1778.6" r="8.4" fill="#e20084"/><circle cx="881.1" cy="888.0" r="8.4" fill="#196deb"/><circle cx="926.3" cy="1783.2" r="8.4" fill="#7251d2"/><circle cx="1040.5" cy="909.3" r="8.4" fill="#df0086"/><circle cx="934.1" cy="2532.1" r="8.4" fill="#8b3bbf"/><circle cx="963.5" cy="2401.6" r="8.4" fill="#c4009a"/><circle cx="887.8" cy="2416.3" r="8.4" fill="#7c4acc"/><circle cx="1099.7" cy="2524.1" r="8.4" fill="#ff0051"/><circle cx="915.1" cy="916.6" r="8.4" fill="#7251d3"/><circle cx="979.9" cy="1155.9" r="8.4" fill="#ad14a6"/><circle cx="943.7" cy="2498.3" r="8.4" fill="#9331b7"/><circle cx="939.5" cy="2408.4" r="8.4" fill="#a819a8"/><circle cx="914.9" cy="1745.7" r="8.4" fill="#6757d8"/><circle cx="1008.3" cy="2537.6" r="8.4" fill="#e20083"/><circle cx="981.8" cy="1766.9" r="8.4" fill="#ae13a6"/><circle cx="969.3" cy="2515.1" r="8.4" fill="#b10da4"/><circle cx="958.4" cy="2499.8" r="8.4" fill="#a31daa"/><circle cx="1119.0" cy="2526.0" r="8.4" fill="#ff0052"/><circle cx="995.4" cy="923.6" r="8.4" fill="#b508a3"/><circle cx="1132.6" cy="1162.6" r="8.4" fill="#ff0053"/><circle cx="870.3" cy="916.2" r="8.4" fill="#0074f0"/><circle cx="983.9" cy="544.9" r="8.4" fill="#f10072"/><circle cx="1039.4" cy="2515.0" r="8.4" fill="#fb0062"/><circle cx="935.6" cy="883.8" r="8.4" fill="#784ccf"/><circle cx="1003.9" cy="552.4" r="8.4" fill="#fd0060"/><circle cx="990.9" cy="1162.6" r="8.4" fill="#bc009f"/><circle cx="865.2" cy="2497.9" r="8.4" fill="#0082f8"/><circle cx="909.4" cy="1752.6" r="8.4" fill="#615adb"/><circle cx="849.1" cy="2531.0" r="8.4" fill="#0086f9"/><circle cx="1025.8" cy="560.3" r="8.4" fill="#ff0051"/><circle cx="1050.1" cy="909.0" r="8.4" fill="#e50080"/><circle cx="956.3" cy="903.5" r="8.4" fill="#8c3abe"/><circle cx="878.8" cy="2538.4" r="8.4" fill="#007bf4"/><circle cx="916.3" cy="941.2" r="8.4" fill="#6558da"/><circle cx="875.6" cy="928.2" r="8.4" fill="#0073ef"/><circle cx="1045.6" cy="1162.5" r="8.4" fill="#f4006e"/><circle cx="1071.1" cy="911.3" r="8.4" fill="#f4006e"/><circle cx="1076.3" cy="914.7" r="8.4" fill="#f5006d"/><circle cx="1059.8" cy="2525.6" r="8.4" fill="#ff0051"/><circle cx="1037.3" cy="1162.4" r="8.4" fill="#ed0078"/><circle cx="1003.6" cy="549.1" r="8.4" fill="#fe005d"/><circle cx="891.9" cy="1780.2" r="8.4" fill="#4964e3"/><circle cx="1060.0" cy="2395.1" r="8.4" fill="#ff0051"/><circle cx="874.9" cy="893.4" r="8.4" fill="#0075f1"/><circle cx="938.4" cy="2502.1" r="8.4" fill="#8c3bbf"/><circle cx="923.3" cy="2501.8" r="8.4" fill="#8046c9"/><circle cx="916.3" cy="901.8" r="8.4" fill="#7251d2"/><circle cx="969.1" cy="2505.8" r="8.4" fill="#b30ba4"/><circle cx="1053.7" cy="1039.4" r="8.4" fill="#f10073"/><circle cx="895.4" cy="541.2" r="8.4" fill="#9134b9"/><circle cx="1003.3" cy="2509.9" r="8.4" fill="#d8008c"/><circle cx="836.6" cy="1802.6" r="8.4" fill="#0086f9"/><circle cx="831.1" cy="1795.8" r="8.4" fill="#0083f8"/><circle cx="942.1" cy="1800.4" r="8.4" fill="#8145c8"/><circle cx="912.1" cy="1766.6" r="8.4" fill="#6359da"/><circle cx="976.0" cy="1041.0" r="8.4" fill="#942fb5"/><circle cx="971.7" cy="1790.0" r="8.4" fill="#a11fab"/><circle cx="953.5" cy="2377.0" r="8.4" fill="#bb009f"/><circle cx="883.5" cy="2530.9" r="8.4" fill="#0077f2"/><circle cx="1151.4" cy="1162.2" r="8.4" fill="#ff0052"/><circle cx="942.2" cy="1777.5" r="8.4" fill="#893ec2"/><circle cx="1039.2" cy="2523.2" r="8.4" fill="#fb0063"/><circle cx="949.7" cy="1166.9" r="8.4" fill="#893dc1"/><circle cx="874.6" cy="2525.6" r="8.4" fill="#007cf5"/><circle cx="956.0" cy="542.5" r="8.4" fill="#d6008e"/><circle cx="939.8" cy="2396.7" r="8.4" fill="#ab16a7"/><circle cx="920.3" cy="542.0" r="8.4" fill="#af11a5"/><circle cx="990.3" cy="926.0" r="8.4" fill="#b30ba3"/><circle cx="957.2" cy="1804.0" r="8.4" fill="#9927b0"/><circle cx="933.7" cy="2550.8" r="8.4" fill="#8d39bd"/><circle cx="1057.7" cy="1039.5" r="8.4" fill="#f5006d"/><circle cx="846.9" cy="542.5" r="8.4" fill="#4d62e2"/><circle cx="886.3" cy="1755.1" r="8.4" fill="#3369e8"/><circle cx="805.2" cy="911.6" r="8.4" fill="#0087fa"/><circle cx="1028.6" cy="545.0" r="8.4" fill="#ff0051"/><circle cx="821.7" cy="541.4" r="8.4" fill="#007bf4"/><circle cx="946.3" cy="885.3" r="8.4" fill="#8344c7"/><circle cx="748.3" cy="1782.7" r="8.4" fill="#008bfb"/><circle cx="986.6" cy="1785.9" r="8.4" fill="#ba00a0"/><circle cx="989.7" cy="2525.9" r="8.4" fill="#cb0096"/><circle cx="930.4" cy="2386.8" r="8.4" fill="#a31daa"/><circle cx="955.7" cy="908.3" r="8.4" fill="#9232b8"/><circle cx="994.0" cy="547.1" r="8.4" fill="#fa0066"/><circle cx="888.6" cy="926.6" r="8.4" fill="#3868e7"/><circle cx="942.6" cy="1763.8" r="8.4" fill="#893dc1"/><circle cx="947.2" cy="2409.1" r="8.4" fill="#b20da4"/><circle cx="971.7" cy="1039.1" r="8.4" fill="#9134b9"/><circle cx="1043.4" cy="907.6" r="8.4" fill="#dd0088"/><circle cx="1029.0" cy="2530.0" r="8.4" fill="#f30070"/><circle cx="919.1" cy="2524.3" r="8.4" fill="#7a4bcd"/><circle cx="975.8" cy="1168.3" r="8.4" fill="#a31daa"/><circle cx="926.7" cy="1754.7" r="8.4" fill="#764ed0"/><circle cx="881.1" cy="1800.0" r="8.4" fill="#0073ef"/><circle cx="895.7" cy="2399.1" r="8.4" fill="#8542c5"/><circle cx="1044.4" cy="2534.7" r="8.4" fill="#fd005e"/><circle cx="997.3" cy="1784.2" r="8.4" fill="#ba00a0"/><circle cx="937.7" cy="1163.9" r="8.4" fill="#7a4bcd"/><circle cx="842.1" cy="1797.7" r="8.4" fill="#0084f9"/><circle cx="946.4" cy="890.1" r="8.4" fill="#8740c3"/><circle cx="1005.8" cy="906.1" r="8.4" fill="#b703a1"/><circle cx="1014.2" cy="2535.1" r="8.4" fill="#e50080"/><circle cx="906.2" cy="1768.8" r="8.4" fill="#5a5dde"/><circle cx="931.1" cy="2394.7" r="8.4" fill="#9e21ac"/><circle cx="987.5" cy="538.7" r="8.4" fill="#f6006c"/><circle cx="1085.4" cy="914.6" r="8.4" fill="#f80068"/><circle cx="900.7" cy="903.0" r="8.4" fill="#5061e1"/><circle cx="862.6" cy="1774.8" r="8.4" fill="#0086f9"/><circle cx="821.4" cy="915.4" r="8.4" fill="#0087fa"/><circle cx="950.1" cy="1161.7" r="8.4" fill="#8d39bd"/><circle cx="995.7" cy="919.0" r="8.4" fill="#b20ca4"/><circle cx="920.3" cy="896.9" r="8.4" fill="#6c54d6"/><circle cx="1163.5" cy="1162.6" r="8.4" fill="#ff0052"/><circle cx="896.0" cy="2417.7" r="8.4" fill="#8641c4"/><circle cx="943.2" cy="1162.4" r="8.4" fill="#8344c7"/><circle cx="924.6" cy="1819.6" r="8.4" fill="#744fd1"/><circle cx="860.5" cy="2396.6" r="8.4" fill="#575edf"/><circle cx="929.4" cy="2527.8" r="8.4" fill="#893ec1"/><circle cx="1124.0" cy="2525.0" r="8.4" fill="#ff0051"/><circle cx="931.7" cy="1039.1" r="8.4" fill="#5a5dde"/><circle cx="829.3" cy="544.1" r="8.4" fill="#0071ee"/><circle cx="847.2" cy="2515.2" r="8.4" fill="#0082f8"/><circle cx="917.3" cy="874.8" r="8.4" fill="#6459da"/><circle cx="878.6" cy="2557.0" r="8.4" fill="#0079f3"/><circle cx="996.4" cy="896.1" r="8.4" fill="#ae13a6"/><circle cx="883.5" cy="2501.5" r="8.4" fill="#0076f2"/><circle cx="860.4" cy="940.2" r="8.4" fill="#0080f7"/><circle cx="961.1" cy="932.4" r="8.4" fill="#9233b8"/><circle cx="1114.7" cy="2402.7" r="8.4" fill="#ff0051"/><circle cx="945.3" cy="875.7" r="8.4" fill="#8145c8"/><circle cx="1028.1" cy="525.0" r="8.4" fill="#ff0053"/><circle cx="926.0" cy="1159.5" r="8.4" fill="#6558d9"/><circle cx="940.1" cy="909.4" r="8.4" fill="#7a4bcd"/><circle cx="954.7" cy="2507.7" r="8.4" fill="#9b24ad"/><circle cx="1079.7" cy="1039.3" r="8.4" fill="#ff0054"/><circle cx="1083.7" cy="1039.3" r="8.4" fill="#ff0051"/><circle cx="931.0" cy="1166.8" r="8.4" fill="#7350d2"/><circle cx="973.5" cy="2530.7" r="8.4" fill="#bb009f"/><circle cx="846.0" cy="544.9" r="8.4" fill="#4665e4"/><circle cx="906.6" cy="2413.9" r="8.4" fill="#9135ba"/><circle cx="856.2" cy="928.1" r="8.4" fill="#007df6"/><circle cx="914.4" cy="2404.9" r="8.4" fill="#952fb5"/><circle cx="865.5" cy="1163.4" r="8.4" fill="#0086f9"/><circle cx="929.1" cy="1159.7" r="8.4" fill="#6f53d4"/><circle cx="983.7" cy="2523.8" r="8.4" fill="#c60099"/><circle cx="998.1" cy="1160.2" r="8.4" fill="#c60099"/><circle cx="954.0" cy="2412.7" r="8.4" fill="#b704a1"/><circle cx="946.5" cy="1160.3" r="8.4" fill="#8641c4"/><circle cx="836.5" cy="1792.9" r="8.4" fill="#0082f8"/><circle cx="964.4" cy="2520.0" r="8.4" fill="#a818a8"/><circle cx="1031.7" cy="1039.5" r="8.4" fill="#dc0089"/><circle cx="1021.9" cy="551.1" r="8.4" fill="#ff0053"/><circle cx="1020.1" cy="920.5" r="8.4" fill="#c80098"/><circle cx="806.4" cy="1778.8" r="8.4" fill="#0085f9"/><circle cx="804.8" cy="545.7" r="8.4" fill="#0083f8"/><circle cx="1023.3" cy="2515.1" r="8.4" fill="#ef0076"/><circle cx="953.9" cy="2424.6" r="8.4" fill="#bb009f"/><circle cx="980.4" cy="540.5" r="8.4" fill="#f00074"/><circle cx="1014.1" cy="535.7" r="8.4" fill="#ff0058"/><circle cx="812.2" cy="543.5" r="8.4" fill="#007ef6"/><circle cx="1005.9" cy="925.6" r="8.4" fill="#bf009d"/><circle cx="845.7" cy="929.6" r="8.4" fill="#0083f8"/><circle cx="922.2" cy="1764.4" r="8.4" fill="#794cce"/><circle cx="1025.0" cy="1162.3" r="8.4" fill="#e20084"/><circle cx="875.3" cy="1161.1" r="8.4" fill="#0083f8"/><circle cx="1001.8" cy="2387.7" r="8.4" fill="#e7007e"/><circle cx="970.6" cy="921.7" r="8.4" fill="#9b24ad"/><circle cx="875.1" cy="888.4" r="8.4" fill="#0076f1"/><circle cx="918.3" cy="2500.3" r="8.4" fill="#7251d3"/><circle cx="1126.6" cy="1162.7" r="8.4" fill="#ff0051"/><circle cx="886.8" cy="1162.3" r="8.4" fill="#0079f3"/><circle cx="948.5" cy="2557.0" r="8.4" fill="#9829b1"/><circle cx="1008.9" cy="2518.7" r="8.4" fill="#e20084"/><circle cx="1027.5" cy="1164.8" r="8.4" fill="#e40081"/><circle cx="972.4" cy="1808.9" r="8.4" fill="#a11fab"/><circle cx="931.0" cy="2382.9" r="8.4" fill="#a71aa9"/><circle cx="920.4" cy="911.4" r="8.4" fill="#6657d9"/><circle cx="852.2" cy="1794.0" r="8.4" fill="#0085f9"/><circle cx="855.2" cy="895.2" r="8.4" fill="#007ff7"/><circle cx="976.3" cy="1785.1" r="8.4" fill="#a917a7"/><circle cx="1029.9" cy="908.6" r="8.4" fill="#d5008f"/><circle cx="1016.1" cy="911.7" r="8.4" fill="#c90097"/><circle cx="961.4" cy="1789.3" r="8.4" fill="#a01fab"/><circle cx="898.6" cy="2544.2" r="8.4" fill="#4365e5"/><circle cx="1049.3" cy="1164.0" r="8.4" fill="#f70069"/><circle cx="970.0" cy="545.4" r="8.4" fill="#e8007d"/><circle cx="958.5" cy="2544.0" r="8.4" fill="#9e21ac"/><circle cx="875.5" cy="913.3" r="8.4" fill="#0077f2"/><circle cx="988.1" cy="2406.2" r="8.4" fill="#d6008e"/><circle cx="815.0" cy="918.8" r="8.4" fill="#0088fa"/><circle cx="1026.0" cy="545.4" r="8.4" fill="#ff0053"/><circle cx="866.2" cy="1790.1" r="8.4" fill="#0080f7"/><circle cx="936.7" cy="1798.7" r="8.4" fill="#7b4acc"/><circle cx="892.0" cy="1755.7" r="8.4" fill="#3d67e6"/><circle cx="1030.0" cy="1164.7" r="8.4" fill="#e8007e"/><circle cx="875.3" cy="1163.6" r="8.4" fill="#0081f7"/><circle cx="860.0" cy="2416.6" r="8.4" fill="#5d5cdd"/><circle cx="911.3" cy="1752.0" r="8.4" fill="#585edf"/><circle cx="831.7" cy="1768.2" r="8.4" fill="#0087fa"/><circle cx="883.6" cy="1162.5" r="8.4" fill="#007df5"/><circle cx="853.1" cy="539.3" r="8.4" fill="#5a5dde"/><circle cx="911.3" cy="1810.5" r="8.4" fill="#6558d9"/><circle cx="1160.9" cy="914.7" r="8.4" fill="#ff0051"/><circle cx="911.5" cy="1761.7" r="8.4" fill="#6657d9"/><circle cx="851.0" cy="539.0" r="8.4" fill="#5261e1"/><circle cx="970.7" cy="2421.4" r="8.4" fill="#c60099"/><circle cx="1008.1" cy="2397.8" r="8.4" fill="#e9007d"/><circle cx="891.0" cy="907.6" r="8.4" fill="#3769e8"/><circle cx="1031.4" cy="1774.1" r="8.4" fill="#e40082"/><circle cx="891.4" cy="1812.7" r="8.4" fill="#4565e4"/><circle cx="896.5" cy="2406.6" r="8.4" fill="#8740c3"/><circle cx="970.5" cy="917.0" r="8.4" fill="#9a24ae"/><circle cx="1000.8" cy="2402.6" r="8.4" fill="#e6007f"/><circle cx="954.1" cy="2416.7" r="8.4" fill="#ba00a0"/><circle cx="981.0" cy="1166.5" r="8.4" fill="#b20da4"/><circle cx="823.0" cy="1787.1" r="8.4" fill="#0087fa"/><circle cx="919.4" cy="2505.1" r="8.4" fill="#764ed0"/><circle cx="910.7" cy="1165.7" r="8.4" fill="#5360e1"/><circle cx="949.8" cy="2498.9" r="8.4" fill="#9b24ae"/><circle cx="1039.7" cy="2527.2" r="8.4" fill="#fb0063"/><circle cx="909.4" cy="2530.3" r="8.4" fill="#6956d7"/><circle cx="1022.1" cy="538.0" r="8.4" fill="#ff0051"/><circle cx="941.0" cy="879.6" r="8.4" fill="#8343c6"/><circle cx="932.2" cy="1752.8" r="8.4" fill="#8343c6"/><circle cx="924.1" cy="2506.7" r="8.4" fill="#7f47ca"/><circle cx="985.9" cy="927.9" r="8.4" fill="#aa17a7"/><circle cx="1016.0" cy="916.2" r="8.4" fill="#c60099"/><circle cx="804.8" cy="537.7" r="8.4" fill="#0085f9"/><circle cx="913.3" cy="2527.9" r="8.4" fill="#6b55d7"/><circle cx="880.9" cy="904.9" r="8.4" fill="#016fed"/><circle cx="879.5" cy="2384.6" r="8.4" fill="#764ed0"/><circle cx="863.2" cy="2526.5" r="8.4" fill="#007ef6"/><circle cx="935.1" cy="938.6" r="8.4" fill="#7e48cb"/><circle cx="952.3" cy="1160.4" r="8.4" fill="#9233b8"/><circle cx="987.4" cy="535.3" r="8.4" fill="#f6006b"/><circle cx="914.3" cy="2532.5" r="8.4" fill="#794cce"/><circle cx="896.6" cy="2395.4" r="8.4" fill="#8344c7"/><circle cx="978.6" cy="2397.2" r="8.4" fill="#d10091"/><circle cx="888.4" cy="2553.8" r="8.4" fill="#0070ed"/><circle cx="1088.7" cy="2525.7" r="8.4" fill="#ff0053"/><circle cx="946.9" cy="1157.8" r="8.4" fill="#8640c4"/><circle cx="907.3" cy="2410.2" r="8.4" fill="#8c3bbf"/><circle cx="1022.1" cy="920.3" r="8.4" fill="#cf0093"/><circle cx="932.4" cy="1776.7" r="8.4" fill="#784dcf"/><circle cx="1091.1" cy="1162.6" r="8.4" fill="#ff0051"/><circle cx="1046.1" cy="1789.6" r="8.4" fill="#ee0076"/><circle cx="901.1" cy="909.4" r="8.4" fill="#575fdf"/><circle cx="902.0" cy="1785.2" r="8.4" fill="#5a5dde"/><circle cx="906.5" cy="541.6" r="8.4" fill="#9927af"/><circle cx="953.7" cy="2428.5" r="8.4" fill="#b802a1"/><circle cx="993.1" cy="553.1" r="8.4" fill="#f90067"/><circle cx="818.9" cy="2523.9" r="8.4" fill="#0086f9"/><circle cx="927.4" cy="1816.4" r="8.4" fill="#7b4acc"/><circle cx="885.9" cy="543.6" r="8.4" fill="#8b3cbf"/><circle cx="886.2" cy="900.0" r="8.4" fill="#3968e7"/><circle cx="1001.4" cy="2417.4" r="8.4" fill="#e6007f"/><circle cx="1020.5" cy="2403.0" r="8.4" fill="#f00074"/><circle cx="872.0" cy="1800.1" r="8.4" fill="#007af4"/><circle cx="961.9" cy="545.0" r="8.4" fill="#dd0088"/><circle cx="819.6" cy="540.1" r="8.4" fill="#007af4"/><circle cx="930.1" cy="1167.5" r="8.4" fill="#6e53d5"/><circle cx="1061.8" cy="1781.0" r="8.4" fill="#f6006b"/><circle cx="814.1" cy="2525.7" r="8.4" fill="#0088fa"/><circle cx="907.6" cy="1164.9" r="8.4" fill="#5460e0"/><circle cx="970.2" cy="2383.9" r="8.4" fill="#c4009a"/><circle cx="1091.8" cy="912.2" r="8.4" fill="#ff005a"/><circle cx="935.0" cy="928.7" r="8.4" fill="#8046c9"/><circle cx="907.3" cy="1160.3" r="8.4" fill="#4e62e2"/><circle cx="868.4" cy="1163.0" r="8.4" fill="#0085f9"/><circle cx="928.8" cy="2488.7" r="8.4" fill="#8542c5"/><circle cx="1123.1" cy="1781.6" r="8.4" fill="#ff0051"/><circle cx="906.2" cy="1782.9" r="8.4" fill="#5b5dde"/><circle cx="1065.7" cy="1039.2" r="8.4" fill="#f90066"/><circle cx="845.3" cy="939.0" r="8.4" fill="#007ff6"/><circle cx="958.7" cy="2553.9" r="8.4" fill="#a31daa"/><circle cx="947.7" cy="1039.3" r="8.4" fill="#754fd1"/><circle cx="999.2" cy="2524.2" r="8.4" fill="#d5008f"/><circle cx="876.4" cy="1766.8" r="8.4" fill="#0076f2"/><circle cx="888.9" cy="1160.0" r="8.4" fill="#0077f2"/><circle cx="987.7" cy="1038.7" r="8.4" fill="#a61ba9"/><circle cx="868.6" cy="2536.5" r="8.4" fill="#007ef6"/><circle cx="924.8" cy="878.8" r="8.4" fill="#7350d2"/><circle cx="1060.3" cy="2527.0" r="8.4" fill="#ff0051"/><circle cx="961.9" cy="1159.8" r="8.4" fill="#9d21ac"/><circle cx="981.4" cy="1764.3" r="8.4" fill="#b00fa4"/><circle cx="993.3" cy="544.1" r="8.4" fill="#f90067"/><circle cx="1036.1" cy="917.8" r="8.4" fill="#d9008c"/><circle cx="939.4" cy="2546.3" r="8.4" fill="#9134b9"/><circle cx="930.5" cy="900.6" r="8.4" fill="#754ed0"/><circle cx="959.4" cy="2549.0" r="8.4" fill="#a71aa8"/><circle cx="997.6" cy="556.2" r="8.4" fill="#fb0063"/><circle cx="799.0" cy="2526.0" r="8.4" fill="#008afb"/><circle cx="1109.7" cy="1038.9" r="8.4" fill="#ff0053"/><circle cx="964.4" cy="2524.7" r="8.4" fill="#a71aa9"/><circle cx="900.0" cy="903.0" r="8.4" fill="#4f62e2"/><circle cx="876.5" cy="934.1" r="8.4" fill="#0076f2"/><circle cx="872.4" cy="1770.2" r="8.4" fill="#007af4"/><circle cx="1084.3" cy="912.2" r="8.4" fill="#fa0065"/><circle cx="829.8" cy="540.9" r="8.4" fill="#0072ef"/><circle cx="927.0" cy="1773.7" r="8.4" fill="#744fd1"/><circle cx="855.9" cy="918.7" r="8.4" fill="#007ef6"/><circle cx="923.2" cy="2417.2" r="8.4" fill="#a11fab"/><circle cx="958.8" cy="2514.5" r="8.4" fill="#a21eaa"/><circle cx="908.7" cy="2515.8" r="8.4" fill="#6359da"/><circle cx="869.8" cy="2405.0" r="8.4" fill="#6856d8"/><circle cx="939.7" cy="1039.5" r="8.4" fill="#6f53d4"/><circle cx="858.3" cy="2544.3" r="8.4" fill="#0083f8"/><circle cx="938.0" cy="942.2" r="8.4" fill="#7d49cb"/><circle cx="869.1" cy="2499.1" r="8.4" fill="#007ff6"/><circle cx="942.3" cy="1759.2" r="8.4" fill="#8641c4"/><circle cx="990.8" cy="1160.3" r="8.4" fill="#bc009f"/><circle cx="955.5" cy="932.1" r="8.4" fill="#8c3abe"/><circle cx="990.8" cy="911.6" r="8.4" fill="#a61aa9"/><circle cx="900.8" cy="913.4" r="8.4" fill="#5d5cdd"/><circle cx="885.2" cy="540.4" r="8.4" fill="#8542c5"/><circle cx="836.4" cy="932.1" r="8.4" fill="#0085f9"/><circle cx="863.9" cy="2546.4" r="8.4" fill="#0081f7"/><circle cx="820.9" cy="920.0" r="8.4" fill="#008afb"/><circle cx="833.5" cy="544.8" r="8.4" fill="#1a6deb"/><circle cx="1069.1" cy="1163.7" r="8.4" fill="#ff0055"/><circle cx="1041.9" cy="1164.1" r="8.4" fill="#f10072"/><circle cx="931.6" cy="2406.5" r="8.4" fill="#9e21ac"/><circle cx="1019.1" cy="2537.3" r="8.4" fill="#ea007b"/><circle cx="887.2" cy="2397.8" r="8.4" fill="#7c4acc"/><circle cx="860.1" cy="542.2" r="8.4" fill="#6b55d6"/><circle cx="978.8" cy="2529.6" r="8.4" fill="#bf009d"/><circle cx="934.4" cy="2541.4" r="8.4" fill="#8c3abe"/><circle cx="961.2" cy="1163.8" r="8.4" fill="#972bb2"/><circle cx="1203.0" cy="914.7" r="8.4" fill="#ff0051"/><circle cx="940.2" cy="944.2" r="8.4" fill="#7a4bcd"/><circle cx="925.3" cy="1167.9" r="8.4" fill="#6956d7"/><circle cx="946.7" cy="2491.7" r="8.4" fill="#9927b0"/><circle cx="861.5" cy="1798.3" r="8.4" fill="#0084f9"/><circle cx="1098.9" cy="1163.1" r="8.4" fill="#ff0052"/><circle cx="1294.3" cy="911.5" r="8.4" fill="#ff0051"/><circle cx="867.2" cy="539.8" r="8.4" fill="#7a4bce"/><circle cx="930.9" cy="2418.4" r="8.4" fill="#a51ca9"/><circle cx="918.6" cy="2553.0" r="8.4" fill="#7350d2"/><circle cx="840.9" cy="896.5" r="8.4" fill="#007ef6"/><circle cx="1012.1" cy="1774.0" r="8.4" fill="#cd0094"/><circle cx="961.7" cy="1038.8" r="8.4" fill="#8442c5"/><circle cx="933.7" cy="2527.4" r="8.4" fill="#8b3bbf"/><circle cx="1048.1" cy="2399.7" r="8.4" fill="#ff0059"/><circle cx="802.2" cy="1784.4" r="8.4" fill="#0085f9"/><circle cx="855.3" cy="890.5" r="8.4" fill="#007ef6"/><circle cx="826.2" cy="1785.7" r="8.4" fill="#0085f9"/><circle cx="937.0" cy="1161.3" r="8.4" fill="#7a4bcd"/><circle cx="619.8" cy="1411.0" r="8.4" fill="#008bfb"/><circle cx="932.6" cy="1814.9" r="8.4" fill="#7d49cb"/><circle cx="1104.0" cy="2524.9" r="8.4" fill="#ff0051"/><circle cx="879.5" cy="2412.6" r="8.4" fill="#7350d2"/><circle cx="928.0" cy="1164.8" r="8.4" fill="#6c54d6"/><circle cx="913.4" cy="2546.4" r="8.4" fill="#6a55d7"/><circle cx="886.6" cy="1779.2" r="8.4" fill="#3269e8"/><circle cx="917.7" cy="1039.2" r="8.4" fill="#326ae8"/><circle cx="899.9" cy="545.8" r="8.4" fill="#8e38bd"/><circle cx="840.2" cy="901.1" r="8.4" fill="#0081f7"/><circle cx="1144.6" cy="1162.6" r="8.4" fill="#ff0051"/><circle cx="1003.7" cy="545.9" r="8.4" fill="#fc0061"/><circle cx="991.2" cy="1772.2" r="8.4" fill="#b900a0"/><circle cx="859.3" cy="2524.5" r="8.4" fill="#0085f9"/><circle cx="1019.4" cy="1771.6" r="8.4" fill="#db008a"/><circle cx="879.0" cy="2519.8" r="8.4" fill="#0079f3"/><circle cx="896.4" cy="1785.2" r="8.4" fill="#565fe0"/><circle cx="1807.4" cy="2526.7" r="8.4" fill="#ff0051"/><circle cx="929.7" cy="2508.2" r="8.4" fill="#8344c7"/><circle cx="1021.7" cy="554.4" r="8.4" fill="#ff0051"/><circle cx="1090.0" cy="1778.8" r="8.4" fill="#ff0057"/><circle cx="845.3" cy="915.4" r="8.4" fill="#0081f8"/><circle cx="884.0" cy="1160.2" r="8.4" fill="#007cf5"/><circle cx="856.3" cy="1767.2" r="8.4" fill="#0082f8"/><circle cx="983.0" cy="539.3" r="8.4" fill="#f3006f"/><circle cx="907.3" cy="1809.2" r="8.4" fill="#5e5cdc"/><circle cx="908.5" cy="1159.7" r="8.4" fill="#4e62e2"/><circle cx="1009.7" cy="2532.9" r="8.4" fill="#e10084"/><circle cx="854.8" cy="1799.6" r="8.4" fill="#0084f9"/><circle cx="1048.6" cy="1161.0" r="8.4" fill="#f5006d"/><circle cx="1015.3" cy="553.8" r="8.4" fill="#ff0057"/><circle cx="865.7" cy="904.9" r="8.4" fill="#007cf5"/><circle cx="1101.1" cy="1781.6" r="8.4" fill="#ff0051"/><circle cx="889.0" cy="542.5" r="8.4" fill="#893ec1"/><circle cx="857.5" cy="1788.8" r="8.4" fill="#0081f7"/><circle cx="861.2" cy="544.7" r="8.4" fill="#6757d8"/><circle cx="953.1" cy="1166.0" r="8.4" fill="#9232b7"/><circle cx="983.7" cy="542.1" r="8.4" fill="#f10072"/><circle cx="972.4" cy="1775.7" r="8.4" fill="#a020ab"/><circle cx="1022.3" cy="525.0" r="8.4" fill="#ff0054"/><circle cx="919.6" cy="2519.5" r="8.4" fill="#7a4bcd"/><circle cx="1006.9" cy="1162.3" r="8.4" fill="#ce0093"/><circle cx="811.3" cy="541.9" r="8.4" fill="#0080f7"/><circle cx="1077.7" cy="1038.8" r="8.4" fill="#ff0056"/><circle cx="899.0" cy="2548.8" r="8.4" fill="#5360e1"/><circle cx="907.6" cy="1162.6" r="8.4" fill="#4e62e2"/><circle cx="838.9" cy="2402.6" r="8.4" fill="#156eec"/><circle cx="789.0" cy="2525.3" r="8.4" fill="#0087fa"/><circle cx="1009.3" cy="1041.0" r="8.4" fill="#c0009d"/><circle cx="863.5" cy="2511.6" r="8.4" fill="#007ff7"/><circle cx="974.6" cy="2504.9" r="8.4" fill="#bf009d"/><circle cx="922.8" cy="2420.9" r="8.4" fill="#9a25ae"/><circle cx="1022.1" cy="544.6" r="8.4" fill="#ff0051"/><circle cx="896.2" cy="2388.0" r="8.4" fill="#8740c3"/><circle cx="1087.4" cy="1783.2" r="8.4" fill="#ff005a"/><circle cx="1054.0" cy="1785.7" r="8.4" fill="#f20072"/><circle cx="880.6" cy="537.4" r="8.4" fill="#8641c4"/><circle cx="974.0" cy="2535.5" r="8.4" fill="#b604a2"/><circle cx="951.9" cy="1794.6" r="8.4" fill="#9331b6"/><circle cx="987.5" cy="1790.5" r="8.4" fill="#b605a2"/><circle cx="1261.4" cy="914.7" r="8.4" fill="#ff0051"/><circle cx="917.4" cy="1747.4" r="8.4" fill="#7052d4"/><circle cx="911.9" cy="1776.4" r="8.4" fill="#6558d9"/><circle cx="994.1" cy="2517.0" r="8.4" fill="#d5008f"/><circle cx="1041.6" cy="1771.6" r="8.4" fill="#ed0078"/><circle cx="970.5" cy="903.1" r="8.4" fill="#9c23ad"/><circle cx="1046.4" cy="913.3" r="8.4" fill="#dc0089"/><circle cx="806.3" cy="1781.4" r="8.4" fill="#0086f9"/><circle cx="879.0" cy="2505.9" r="8.4" fill="#0079f3"/><circle cx="1015.0" cy="532.3" r="8.4" fill="#ff0056"/><circle cx="852.4" cy="1769.6" r="8.4" fill="#0082f8"/><circle cx="903.5" cy="2500.3" r="8.4" fill="#5e5cdc"/><circle cx="897.0" cy="2556.0" r="8.4" fill="#4d62e2"/><circle cx="840.4" cy="905.7" r="8.4" fill="#0083f8"/><circle cx="914.7" cy="2509.3" r="8.4" fill="#764ed0"/><circle cx="1031.8" cy="1787.4" r="8.4" fill="#e00085"/><circle cx="1074.9" cy="917.4" r="8.4" fill="#f4006e"/><circle cx="922.5" cy="1166.0" r="8.4" fill="#6558d9"/><circle cx="1011.5" cy="1787.4" r="8.4" fill="#d00093"/><circle cx="830.9" cy="917.9" r="8.4" fill="#0085f9"/><circle cx="895.1" cy="538.5" r="8.4" fill="#8e38bd"/><circle cx="1126.6" cy="2525.0" r="8.4" fill="#ff0053"/><circle cx="854.7" cy="2520.5" r="8.4" fill="#0086fa"/><circle cx="930.8" cy="542.5" r="8.4" fill="#bc009f"/><circle cx="866.5" cy="1794.7" r="8.4" fill="#0083f8"/><circle cx="846.2" cy="887.0" r="8.4" fill="#0080f7"/><circle cx="1066.6" cy="1782.4" r="8.4" fill="#f6006c"/><circle cx="999.9" cy="1159.9" r="8.4" fill="#c90097"/><circle cx="871.3" cy="934.6" r="8.4" fill="#0078f3"/><circle cx="937.2" cy="1794.0" r="8.4" fill="#8740c3"/><circle cx="984.7" cy="535.3" r="8.4" fill="#f3006f"/><circle cx="845.6" cy="905.9" r="8.4" fill="#007ff7"/><circle cx="1156.0" cy="914.3" r="8.4" fill="#ff0051"/><circle cx="916.3" cy="945.6" r="8.4" fill="#6757d8"/><circle cx="1049.2" cy="2524.4" r="8.4" fill="#ff0059"/><circle cx="898.8" cy="1161.1" r="8.4" fill="#2b6be9"/><circle cx="947.0" cy="2390.1" r="8.4" fill="#b20ca4"/><circle cx="849.9" cy="542.4" r="8.4" fill="#555fe0"/><circle cx="947.1" cy="2382.4" r="8.4" fill="#b20ca4"/><circle cx="866.8" cy="1799.2" r="8.4" fill="#0080f7"/><circle cx="849.5" cy="2406.3" r="8.4" fill="#3868e7"/><circle cx="937.8" cy="542.5" r="8.4" fill="#c5009a"/><circle cx="838.6" cy="2522.5" r="8.4" fill="#0087fa"/><circle cx="910.5" cy="544.1" r="8.4" fill="#9b24ad"/><circle cx="951.3" cy="1780.7" r="8.4" fill="#8d39be"/><circle cx="996.1" cy="1792.9" r="8.4" fill="#be009e"/><circle cx="810.9" cy="908.2" r="8.4" fill="#0088fa"/><circle cx="991.7" cy="1039.4" r="8.4" fill="#ac15a7"/><circle cx="925.7" cy="1039.4" r="8.4" fill="#4e62e2"/><circle cx="935.3" cy="1163.8" r="8.4" fill="#7b4bcd"/><circle cx="886.5" cy="1793.7" r="8.4" fill="#3d67e6"/><circle cx="863.8" cy="2541.5" r="8.4" fill="#0081f8"/><circle cx="1061.1" cy="1163.8" r="8.4" fill="#fd005f"/><circle cx="865.8" cy="939.7" r="8.4" fill="#007af4"/><circle cx="796.8" cy="1781.2" r="8.4" fill="#0088fa"/><circle cx="916.3" cy="1795.1" r="8.4" fill="#6658d9"/><circle cx="1113.7" cy="1039.2" r="8.4" fill="#ff0052"/><circle cx="916.7" cy="1761.7" r="8.4" fill="#6b55d7"/><circle cx="834.3" cy="2402.6" r="8.4" fill="#0071ee"/><circle cx="870.3" cy="930.0" r="8.4" fill="#0076f1"/><circle cx="1012.1" cy="539.4" r="8.4" fill="#ff0058"/><circle cx="1041.1" cy="1778.2" r="8.4" fill="#ec0079"/><circle cx="838.7" cy="537.4" r="8.4" fill="#2e6ae9"/><circle cx="1041.7" cy="1164.6" r="8.4" fill="#f00074"/><circle cx="1023.3" cy="2519.7" r="8.4" fill="#ec0078"/><circle cx="969.1" cy="542.3" r="8.4" fill="#e60080"/><circle cx="814.7" cy="2529.5" r="8.4" fill="#0086f9"/><circle cx="980.4" cy="897.5" r="8.4" fill="#a51ba9"/><circle cx="1030.4" cy="1162.4" r="8.4" fill="#ea007c"/><circle cx="933.8" cy="2560.1" r="8.4" fill="#8b3cc0"/><circle cx="1050.6" cy="2535.3" r="8.4" fill="#ff005a"/><circle cx="1066.2" cy="915.1" r="8.4" fill="#f20071"/><circle cx="969.7" cy="1039.1" r="8.4" fill="#9036bb"/><circle cx="871.8" cy="544.9" r="8.4" fill="#7a4bcd"/><circle cx="934.4" cy="2536.7" r="8.4" fill="#8c3abe"/><circle cx="910.8" cy="904.2" r="8.4" fill="#6558d9"/><circle cx="1081.8" cy="1162.0" r="8.4" fill="#ff0051"/><circle cx="957.1" cy="1761.7" r="8.4" fill="#962db3"/><circle cx="846.3" cy="920.1" r="8.4" fill="#0083f8"/><circle cx="1050.0" cy="918.0" r="8.4" fill="#e10084"/><circle cx="885.8" cy="908.7" r="8.4" fill="#3968e7"/><circle cx="1211.3" cy="911.5" r="8.4" fill="#ff0051"/><circle cx="1162.6" cy="1162.6" r="8.4" fill="#ff0054"/><circle cx="860.1" cy="2428.6" r="8.4" fill="#5460e0"/><circle cx="1028.3" cy="2521.2" r="8.4" fill="#f20071"/><circle cx="830.6" cy="2526.7" r="8.4" fill="#0086fa"/><circle cx="964.3" cy="1161.6" r="8.4" fill="#9c23ad"/><circle cx="1063.7" cy="1038.4" r="8.4" fill="#f90067"/><circle cx="818.2" cy="2520.8" r="8.4" fill="#0089fa"/><circle cx="1077.6" cy="1781.8" r="8.4" fill="#fb0062"/><circle cx="1050.0" cy="913.5" r="8.4" fill="#e40082"/><circle cx="962.5" cy="1807.9" r="8.4" fill="#9f20ab"/><circle cx="825.1" cy="2526.3" r="8.4" fill="#0087fa"/><circle cx="929.3" cy="2542.4" r="8.4" fill="#8542c5"/><circle cx="958.9" cy="545.7" r="8.4" fill="#dc0089"/><circle cx="995.6" cy="905.2" r="8.4" fill="#b604a2"/><circle cx="962.0" cy="1780.0" r="8.4" fill="#9a24ae"/><circle cx="891.7" cy="1770.4" r="8.4" fill="#3c67e7"/><circle cx="966.2" cy="542.4" r="8.4" fill="#e30082"/><circle cx="940.2" cy="2431.9" r="8.4" fill="#ab15a7"/><circle cx="966.4" cy="906.9" r="8.4" fill="#952eb5"/><circle cx="940.6" cy="1167.3" r="8.4" fill="#8245c7"/><circle cx="929.6" cy="2498.5" r="8.4" fill="#8542c5"/><circle cx="913.6" cy="2497.9" r="8.4" fill="#7450d1"/><circle cx="925.0" cy="887.3" r="8.4" fill="#794cce"/><circle cx="922.3" cy="2406.3" r="8.4" fill="#9d22ac"/><circle cx="953.9" cy="2540.8" r="8.4" fill="#962db4"/><circle cx="865.5" cy="1162.2" r="8.4" fill="#0088fa"/><circle cx="946.2" cy="923.8" r="8.4" fill="#8046c9"/><circle cx="915.6" cy="900.7" r="8.4" fill="#6e53d5"/><circle cx="970.3" cy="896.1" r="8.4" fill="#962db3"/><circle cx="1082.4" cy="2524.2" r="8.4" fill="#ff0055"/><circle cx="889.5" cy="2520.4" r="8.4" fill="#136eec"/><circle cx="1041.7" cy="1160.3" r="8.4" fill="#ef0075"/><circle cx="1001.3" cy="1770.4" r="8.4" fill="#c60099"/><circle cx="899.7" cy="2516.1" r="8.4" fill="#5360e1"/><circle cx="1097.0" cy="1778.5" r="8.4" fill="#ff0051"/><circle cx="906.9" cy="926.0" r="8.4" fill="#5b5ddd"/><circle cx="869.2" cy="2508.4" r="8.4" fill="#007ff7"/><circle cx="1011.9" cy="2536.7" r="8.4" fill="#e6007f"/><circle cx="910.4" cy="543.7" r="8.4" fill="#9c23ad"/><circle cx="935.7" cy="903.8" r="8.4" fill="#7d49cc"/><circle cx="994.0" cy="1160.5" r="8.4" fill="#c2009b"/><circle cx="933.3" cy="2518.0" r="8.4" fill="#8b3bbf"/><circle cx="990.7" cy="906.8" r="8.4" fill="#ad13a6"/><circle cx="999.5" cy="2543.3" r="8.4" fill="#d9008b"/><circle cx="1048.5" cy="1777.4" r="8.4" fill="#ee0076"/><circle cx="947.1" cy="2378.6" r="8.4" fill="#b10da4"/><circle cx="877.7" cy="544.8" r="8.4" fill="#7f48ca"/><circle cx="1035.7" cy="1038.9" r="8.4" fill="#e10085"/><circle cx="830.3" cy="904.2" r="8.4" fill="#0084f9"/><circle cx="898.6" cy="2539.5" r="8.4" fill="#5161e1"/><circle cx="976.6" cy="1770.3" r="8.4" fill="#ae13a6"/><circle cx="940.5" cy="924.3" r="8.4" fill="#7f47ca"/><circle cx="1006.2" cy="915.9" r="8.4" fill="#b802a1"/><circle cx="1030.6" cy="1160.1" r="8.4" fill="#e6007f"/><circle cx="994.3" cy="550.1" r="8.4" fill="#f90067"/><circle cx="797.0" cy="543.0" r="8.4" fill="#0088fa"/><circle cx="995.7" cy="909.8" r="8.4" fill="#b00fa5"/><circle cx="978.5" cy="2538.9" r="8.4" fill="#c3009b"/><circle cx="918.9" cy="2509.9" r="8.4" fill="#7d49cb"/><circle cx="837.0" cy="545.7" r="8.4" fill="#3469e8"/><circle cx="845.3" cy="943.8" r="8.4" fill="#0080f7"/><circle cx="1016.4" cy="1778.6" r="8.4" fill="#d20091"/><circle cx="997.7" cy="1162.5" r="8.4" fill="#c4009a"/><circle cx="882.8" cy="1164.8" r="8.4" fill="#007cf5"/><circle cx="915.0" cy="2416.0" r="8.4" fill="#9233b8"/><circle cx="1054.2" cy="2529.9" r="8.4" fill="#ff0057"/><circle cx="945.5" cy="919.0" r="8.4" fill="#8245c8"/><circle cx="965.9" cy="920.9" r="8.4" fill="#9331b7"/><circle cx="925.4" cy="1162.3" r="8.4" fill="#6b55d7"/><circle cx="1007.7" cy="1789.9" r="8.4" fill="#cd0095"/><circle cx="864.9" cy="1162.7" r="8.4" fill="#0088fa"/><circle cx="825.2" cy="542.8" r="8.4" fill="#0076f1"/><circle cx="924.3" cy="877.6" r="8.4" fill="#6c54d6"/><circle cx="924.5" cy="2560.6" r="8.4" fill="#8146c8"/><circle cx="1008.4" cy="2528.2" r="8.4" fill="#e30083"/><circle cx="892.4" cy="1809.7" r="8.4" fill="#4266e5"/><circle cx="984.6" cy="2528.7" r="8.4" fill="#c70099"/><circle cx="930.6" cy="542.5" r="8.4" fill="#c0009c"/><circle cx="986.3" cy="1162.9" r="8.4" fill="#b408a3"/><circle cx="889.1" cy="2506.1" r="8.4" fill="#0071ee"/><circle cx="821.0" cy="924.6" r="8.4" fill="#0088fa"/><circle cx="915.9" cy="1157.5" r="8.4" fill="#5e5cdd"/><circle cx="967.1" cy="1801.8" r="8.4" fill="#9c22ad"/><circle cx="882.2" cy="1775.7" r="8.4" fill="#256cea"/><circle cx="1024.7" cy="2528.9" r="8.4" fill="#f20072"/><circle cx="901.6" cy="551.4" r="8.4" fill="#9430b6"/><circle cx="1054.6" cy="1161.2" r="8.4" fill="#f80068"/><circle cx="807.9" cy="540.3" r="8.4" fill="#0081f8"/><circle cx="1081.0" cy="2528.4" r="8.4" fill="#ff0051"/><circle cx="835.1" cy="898.8" r="8.4" fill="#0085f9"/><circle cx="1015.1" cy="1159.6" r="8.4" fill="#d8008c"/><circle cx="907.2" cy="1792.3" r="8.4" fill="#5f5bdc"/><circle cx="985.3" cy="896.1" r="8.4" fill="#ab16a7"/><circle cx="902.5" cy="1789.7" r="8.4" fill="#5d5cdd"/><circle cx="1033.5" cy="2533.7" r="8.4" fill="#f6006c"/><circle cx="949.4" cy="2494.0" r="8.4" fill="#9927af"/><circle cx="1072.2" cy="2398.8" r="8.4" fill="#ff0053"/><circle cx="851.6" cy="537.4" r="8.4" fill="#575fdf"/><circle cx="874.0" cy="1161.6" r="8.4" fill="#0082f8"/><circle cx="926.3" cy="921.1" r="8.4" fill="#7152d3"/><circle cx="881.6" cy="1766.1" r="8.4" fill="#0070ed"/><circle cx="923.7" cy="1038.8" r="8.4" fill="#4764e4"/><circle cx="912.2" cy="1786.1" r="8.4" fill="#6359da"/><circle cx="990.2" cy="902.0" r="8.4" fill="#a71aa9"/><circle cx="953.6" cy="2521.9" r="8.4" fill="#9c23ad"/><circle cx="968.7" cy="2552.3" r="8.4" fill="#b409a3"/><circle cx="894.2" cy="2534.5" r="8.4" fill="#2d6ae9"/><circle cx="951.2" cy="890.1" r="8.4" fill="#8a3dc1"/><circle cx="921.0" cy="882.3" r="8.4" fill="#6b55d6"/><circle cx="1140.4" cy="1779.1" r="8.4" fill="#ff0055"/><circle cx="907.3" cy="1801.7" r="8.4" fill="#615adb"/><circle cx="1108.7" cy="1162.7" r="8.4" fill="#ff0051"/><circle cx="895.8" cy="2391.7" r="8.4" fill="#8344c7"/><circle cx="926.6" cy="1745.2" r="8.4" fill="#7a4bcd"/><circle cx="959.3" cy="1162.8" r="8.4" fill="#952eb5"/><circle cx="932.6" cy="1771.9" r="8.4" fill="#7a4bcd"/><circle cx="1037.1" cy="1778.6" r="8.4" fill="#e6007f"/><circle cx="924.7" cy="2511.6" r="8.4" fill="#7d49cc"/><circle cx="954.1" cy="2369.1" r="8.4" fill="#be009e"/><circle cx="1033.0" cy="555.9" r="8.4" fill="#ff0051"/><circle cx="926.1" cy="935.6" r="8.4" fill="#774dcf"/><circle cx="896.8" cy="1766.7" r="8.4" fill="#4864e4"/><circle cx="1081.4" cy="1782.0" r="8.4" fill="#ff0057"/><circle cx="1105.7" cy="1039.2" r="8.4" fill="#ff0051"/><circle cx="993.7" cy="1039.3" r="8.4" fill="#ab16a7"/><circle cx="930.6" cy="914.9" r="8.4" fill="#784ccf"/><circle cx="1071.8" cy="2410.0" r="8.4" fill="#ff0052"/><circle cx="1016.2" cy="902.8" r="8.4" fill="#c60099"/><circle cx="914.0" cy="2504.7" r="8.4" fill="#6f52d4"/><circle cx="1596.3" cy="1782.7" r="8.4" fill="#ff0051"/><circle cx="910.5" cy="541.7" r="8.4" fill="#9e21ac"/><circle cx="936.1" cy="893.8" r="8.4" fill="#8344c7"/><circle cx="925.5" cy="916.3" r="8.4" fill="#744fd1"/><circle cx="970.2" cy="2406.4" r="8.4" fill="#c60099"/><circle cx="958.9" cy="2524.4" r="8.4" fill="#a41ca9"/><circle cx="979.5" cy="2525.0" r="8.4" fill="#bb009f"/><circle cx="1025.4" cy="552.3" r="8.4" fill="#ff0051"/><circle cx="939.5" cy="541.7" r="8.4" fill="#c60099"/><circle cx="973.9" cy="2506.7" r="8.4" fill="#ba00a0"/><circle cx="966.6" cy="1806.6" r="8.4" fill="#9e21ac"/><circle cx="1138.3" cy="1782.7" r="8.4" fill="#ff0055"/><circle cx="956.1" cy="1757.0" r="8.4" fill="#9430b6"/><circle cx="923.3" cy="1156.1" r="8.4" fill="#6359da"/><circle cx="911.5" cy="930.6" r="8.4" fill="#6458da"/><circle cx="966.1" cy="539.6" r="8.4" fill="#e00086"/><circle cx="939.9" cy="884.6" r="8.4" fill="#7a4bcd"/><circle cx="955.1" cy="1162.8" r="8.4" fill="#9036ba"/><circle cx="910.6" cy="922.8" r="8.4" fill="#5c5cdd"/><circle cx="1156.8" cy="1780.7" r="8.4" fill="#ff0051"/><circle cx="959.4" cy="544.7" r="8.4" fill="#dc0089"/><circle cx="840.7" cy="887.3" r="8.4" fill="#0085f9"/><circle cx="854.2" cy="2529.7" r="8.4" fill="#0085f9"/><circle cx="1035.2" cy="908.4" r="8.4" fill="#d8008c"/><circle cx="857.2" cy="1771.5" r="8.4" fill="#0084f9"/><circle cx="1024.6" cy="535.2" r="8.4" fill="#ff0051"/><circle cx="972.7" cy="542.3" r="8.4" fill="#e8007e"/><circle cx="999.1" cy="2529.0" r="8.4" fill="#d4008f"/><circle cx="821.8" cy="537.7" r="8.4" fill="#0078f3"/><circle cx="1046.5" cy="1778.6" r="8.4" fill="#ef0075"/><circle cx="880.4" cy="900.0" r="8.4" fill="#0070ed"/><circle cx="988.4" cy="2538.6" r="8.4" fill="#cc0095"/><circle cx="957.1" cy="1816.2" r="8.4" fill="#9134b9"/><circle cx="814.7" cy="541.9" r="8.4" fill="#007cf5"/><circle cx="939.8" cy="2516.9" r="8.4" fill="#8e38bd"/><circle cx="870.4" cy="893.1" r="8.4" fill="#0075f1"/><circle cx="1002.9" cy="2547.4" r="8.4" fill="#d9008b"/><circle cx="991.8" cy="1160.7" r="8.4" fill="#bc009f"/><circle cx="931.7" cy="1786.2" r="8.4" fill="#7b4bcd"/><circle cx="988.8" cy="2530.1" r="8.4" fill="#ca0096"/><circle cx="855.7" cy="1176.3" r="8.4" fill="#008bfb"/><circle cx="1078.2" cy="1161.8" r="8.4" fill="#ff0051"/><circle cx="1028.8" cy="535.0" r="8.4" fill="#ff0052"/><circle cx="946.6" cy="1781.8" r="8.4" fill="#883ec2"/><circle cx="995.0" cy="2390.0" r="8.4" fill="#e30083"/><circle cx="1097.7" cy="1038.8" r="8.4" fill="#ff0052"/><circle cx="1018.1" cy="1165.1" r="8.4" fill="#da008b"/><circle cx="985.1" cy="923.0" r="8.4" fill="#a819a8"/><circle cx="1040.1" cy="2399.1" r="8.4" fill="#f90067"/><circle cx="869.8" cy="2401.1" r="8.4" fill="#6657d9"/><circle cx="945.5" cy="873.0" r="8.4" fill="#8344c6"/><circle cx="834.9" cy="936.8" r="8.4" fill="#0084f9"/><circle cx="945.8" cy="894.9" r="8.4" fill="#873fc3"/><circle cx="870.0" cy="2389.2" r="8.4" fill="#6359da"/><circle cx="1036.3" cy="539.2" r="8.4" fill="#ff0052"/><circle cx="820.9" cy="897.1" r="8.4" fill="#0086f9"/><circle cx="1054.3" cy="2520.1" r="8.4" fill="#ff0053"/><circle cx="898.4" cy="1163.7" r="8.4" fill="#256cea"/><circle cx="982.7" cy="1163.5" r="8.4" fill="#b606a2"/><circle cx="968.2" cy="2557.0" r="8.4" fill="#b00fa5"/><circle cx="1098.4" cy="2524.5" r="8.4" fill="#ff0053"/><circle cx="1151.4" cy="1163.0" r="8.4" fill="#ff0053"/><circle cx="911.5" cy="1800.8" r="8.4" fill="#6b55d6"/><circle cx="1009.3" cy="1037.0" r="8.4" fill="#c0009d"/><circle cx="921.9" cy="1816.1" r="8.4" fill="#744fd1"/><circle cx="907.3" cy="1787.6" r="8.4" fill="#5c5cdd"/><circle cx="1039.5" cy="1162.4" r="8.4" fill="#eb007a"/><circle cx="803.0" cy="543.0" r="8.4" fill="#0088fa"/><circle cx="876.4" cy="1801.0" r="8.4" fill="#0073f0"/><circle cx="1039.3" cy="542.1" r="8.4" fill="#ff0051"/><circle cx="810.7" cy="910.7" r="8.4" fill="#0087fa"/><circle cx="1168.7" cy="1535.0" r="8.4" fill="#ff0051"/><circle cx="941.2" cy="1809.5" r="8.4" fill="#8641c4"/><circle cx="875.1" cy="898.4" r="8.4" fill="#0070ed"/><circle cx="831.5" cy="1758.9" r="8.4" fill="#0085f9"/><circle cx="916.9" cy="543.3" r="8.4" fill="#a61ba9"/><circle cx="1072.3" cy="1783.8" r="8.4" fill="#fc0061"/><circle cx="847.6" cy="1761.8" r="8.4" fill="#0085f9"/><circle cx="784.0" cy="2526.7" r="8.4" fill="#0089fa"/><circle cx="1063.6" cy="917.4" r="8.4" fill="#eb007a"/><circle cx="842.2" cy="1802.6" r="8.4" fill="#0085f9"/><circle cx="878.2" cy="2515.2" r="8.4" fill="#0078f3"/><circle cx="1085.7" cy="1039.1" r="8.4" fill="#ff0053"/><circle cx="1037.7" cy="1038.4" r="8.4" fill="#e20083"/><circle cx="1019.3" cy="2514.5" r="8.4" fill="#ea007b"/><circle cx="893.2" cy="1160.5" r="8.4" fill="#0072ef"/><circle cx="986.9" cy="549.2" r="8.4" fill="#f4006e"/><circle cx="1018.8" cy="548.5" r="8.4" fill="#ff0053"/><circle cx="892.0" cy="1799.8" r="8.4" fill="#4565e5"/><circle cx="993.9" cy="2509.7" r="8.4" fill="#d20091"/><circle cx="946.8" cy="2405.3" r="8.4" fill="#b10ea4"/><circle cx="894.1" cy="2506.1" r="8.4" fill="#3569e8"/><circle cx="990.3" cy="545.3" r="8.4" fill="#f7006a"/><circle cx="881.2" cy="1804.8" r="8.4" fill="#166eeb"/><circle cx="964.4" cy="2496.3" r="8.4" fill="#ad13a6"/><circle cx="1085.5" cy="916.4" r="8.4" fill="#fd005e"/><circle cx="969.5" cy="2543.0" r="8.4" fill="#b704a2"/><circle cx="1043.3" cy="1160.8" r="8.4" fill="#f20071"/><circle cx="997.7" cy="539.7" r="8.4" fill="#fc0061"/><circle cx="1011.3" cy="552.0" r="8.4" fill="#ff005b"/><circle cx="901.3" cy="1762.9" r="8.4" fill="#565fdf"/><circle cx="973.2" cy="1164.0" r="8.4" fill="#a719a8"/><circle cx="1006.2" cy="1782.9" r="8.4" fill="#cd0094"/><circle cx="1072.7" cy="2532.5" r="8.4" fill="#ff0051"/><circle cx="874.4" cy="2544.4" r="8.4" fill="#007df5"/><circle cx="830.6" cy="927.0" r="8.4" fill="#0089fa"/><circle cx="939.5" cy="2497.2" r="8.4" fill="#8e39bd"/><circle cx="1000.4" cy="1164.9" r="8.4" fill="#c90097"/><circle cx="1015.2" cy="932.9" r="8.4" fill="#c90097"/><circle cx="912.6" cy="542.5" r="8.4" fill="#9d21ac"/><circle cx="817.2" cy="1784.2" r="8.4" fill="#0088fa"/><circle cx="832.1" cy="1777.4" r="8.4" fill="#0085f9"/><circle cx="962.8" cy="539.9" r="8.4" fill="#e00085"/><circle cx="831.8" cy="1791.2" r="8.4" fill="#0084f9"/><circle cx="926.5" cy="1802.2" r="8.4" fill="#774dcf"/><circle cx="878.8" cy="2380.6" r="8.4" fill="#774dcf"/><circle cx="948.8" cy="2513.4" r="8.4" fill="#9430b6"/><circle cx="1033.7" cy="1038.6" r="8.4" fill="#e00086"/><circle cx="859.1" cy="2520.0" r="8.4" fill="#0086f9"/><circle cx="860.2" cy="2408.6" r="8.4" fill="#5b5dde"/><circle cx="936.2" cy="1784.7" r="8.4" fill="#8146c8"/><circle cx="1245.5" cy="1782.7" r="8.4" fill="#ff0051"/><circle cx="939.5" cy="2420.1" r="8.4" fill="#ad14a6"/><circle cx="931.6" cy="1800.6" r="8.4" fill="#7a4bcd"/><circle cx="1107.7" cy="1038.6" r="8.4" fill="#ff0051"/><circle cx="855.7" cy="904.6" r="8.4" fill="#007ff7"/><circle cx="978.9" cy="2401.0" r="8.4" fill="#ce0094"/><circle cx="827.6" cy="1781.4" r="8.4" fill="#0084f9"/><circle cx="1040.9" cy="913.2" r="8.4" fill="#de0088"/><circle cx="951.0" cy="919.1" r="8.4" fill="#8e38bd"/><circle cx="856.8" cy="1784.5" r="8.4" fill="#0082f8"/><circle cx="946.1" cy="1768.2" r="8.4" fill="#8c3abe"/><circle cx="906.6" cy="2499.3" r="8.4" fill="#6658d9"/><circle cx="879.0" cy="2559.5" r="8.4" fill="#0079f3"/><circle cx="1071.3" cy="1786.4" r="8.4" fill="#f90066"/><circle cx="986.1" cy="1776.9" r="8.4" fill="#b010a5"/><circle cx="998.0" cy="1164.8" r="8.4" fill="#c70099"/><circle cx="878.5" cy="2501.2" r="8.4" fill="#0079f3"/><circle cx="1132.6" cy="2402.7" r="8.4" fill="#ff0051"/><circle cx="869.2" cy="2527.1" r="8.4" fill="#007ff6"/><circle cx="985.7" cy="1039.2" r="8.4" fill="#a020ab"/><circle cx="1037.0" cy="1783.0" r="8.4" fill="#e40081"/><circle cx="865.1" cy="909.9" r="8.4" fill="#0079f3"/><circle cx="901.6" cy="534.1" r="8.4" fill="#952eb4"/><circle cx="1021.7" cy="1038.5" r="8.4" fill="#cd0094"/><circle cx="856.4" cy="899.9" r="8.4" fill="#0080f7"/><circle cx="982.6" cy="1156.6" r="8.4" fill="#b506a2"/><circle cx="914.8" cy="2514.0" r="8.4" fill="#774dcf"/><circle cx="1007.7" cy="1039.1" r="8.4" fill="#b901a0"/><circle cx="1014.4" cy="545.9" r="8.4" fill="#ff0058"/><circle cx="1003.7" cy="1038.6" r="8.4" fill="#b802a1"/><circle cx="957.0" cy="1771.1" r="8.4" fill="#972ab2"/><circle cx="1121.8" cy="1782.1" r="8.4" fill="#ff0051"/><circle cx="951.7" cy="1039.4" r="8.4" fill="#784dcf"/><circle cx="967.2" cy="1787.3" r="8.4" fill="#9e21ac"/><circle cx="943.3" cy="2503.1" r="8.4" fill="#9331b7"/><circle cx="975.8" cy="546.4" r="8.4" fill="#ef0076"/><circle cx="1001.1" cy="2398.8" r="8.4" fill="#e10084"/><circle cx="945.6" cy="952.7" r="8.4" fill="#893ec1"/><circle cx="963.4" cy="1166.5" r="8.4" fill="#9a25ae"/><circle cx="1081.5" cy="2403.5" r="8.4" fill="#ff0051"/><circle cx="898.4" cy="1161.5" r="8.4" fill="#126eec"/><circle cx="943.6" cy="2550.9" r="8.4" fill="#9331b7"/><circle cx="1011.4" cy="910.0" r="8.4" fill="#c70099"/><circle cx="896.2" cy="1759.5" r="8.4" fill="#4c63e3"/><circle cx="909.4" cy="928.9" r="8.4" fill="#625adb"/><circle cx="849.0" cy="2516.0" r="8.4" fill="#0086f9"/><circle cx="1095.9" cy="914.5" r="8.4" fill="#fc0061"/><circle cx="978.0" cy="1801.0" r="8.4" fill="#ac15a6"/><circle cx="895.3" cy="909.1" r="8.4" fill="#4a63e3"/><circle cx="925.7" cy="940.4" r="8.4" fill="#6a55d7"/><circle cx="1021.8" cy="524.0" r="8.4" fill="#ff0051"/><circle cx="794.0" cy="2525.3" r="8.4" fill="#0089fa"/><circle cx="896.9" cy="1789.9" r="8.4" fill="#4d62e2"/><circle cx="884.8" cy="2526.0" r="8.4" fill="#0078f2"/><circle cx="939.0" cy="2526.7" r="8.4" fill="#8c3bbf"/><circle cx="851.0" cy="890.3" r="8.4" fill="#0082f8"/><circle cx="916.8" cy="1771.3" r="8.4" fill="#6857d8"/><circle cx="975.9" cy="1155.5" r="8.4" fill="#ac15a6"/><circle cx="888.1" cy="541.9" r="8.4" fill="#8b3bbf"/><circle cx="1031.2" cy="2535.3" r="8.4" fill="#f3006f"/><circle cx="922.6" cy="542.5" r="8.4" fill="#ae12a5"/><circle cx="1097.3" cy="912.9" r="8.4" fill="#ff0058"/><circle cx="959.6" cy="2539.1" r="8.4" fill="#a819a8"/><circle cx="975.0" cy="1762.2" r="8.4" fill="#ab15a7"/><circle cx="971.6" cy="1785.2" r="8.4" fill="#a819a8"/><circle cx="1027.7" cy="1789.9" r="8.4" fill="#e00085"/><circle cx="892.1" cy="1760.6" r="8.4" fill="#4366e5"/><circle cx="829.1" cy="541.7" r="8.4" fill="#0070ee"/><circle cx="1060.7" cy="1161.4" r="8.4" fill="#fd005e"/><circle cx="858.1" cy="540.1" r="8.4" fill="#6558d9"/><circle cx="889.3" cy="1749.5" r="8.4" fill="#3569e8"/><circle cx="1024.2" cy="2533.6" r="8.4" fill="#f20071"/><circle cx="901.7" cy="1767.4" r="8.4" fill="#555fe0"/><circle cx="919.2" cy="2529.1" r="8.4" fill="#7d49cb"/><circle cx="1071.3" cy="2402.6" r="8.4" fill="#ff0051"/><circle cx="946.2" cy="909.4" r="8.4" fill="#893ec1"/><circle cx="858.1" cy="544.9" r="8.4" fill="#6c55d6"/><circle cx="969.9" cy="1162.7" r="8.4" fill="#a51ca9"/><circle cx="904.1" cy="2514.8" r="8.4" fill="#5e5cdc"/><circle cx="953.7" cy="2555.0" r="8.4" fill="#972bb2"/><circle cx="857.5" cy="1765.0" r="8.4" fill="#0083f8"/><circle cx="854.4" cy="2516.0" r="8.4" fill="#0085f9"/><circle cx="970.4" cy="907.8" r="8.4" fill="#9a25ae"/><circle cx="908.9" cy="2520.7" r="8.4" fill="#5f5bdc"/><circle cx="843.7" cy="2533.8" r="8.4" fill="#0085f9"/><circle cx="979.4" cy="1166.8" r="8.4" fill="#b20da4"/><circle cx="962.5" cy="1752.0" r="8.4" fill="#9a26af"/><circle cx="1005.4" cy="896.3" r="8.4" fill="#b900a0"/><circle cx="907.1" cy="2387.7" r="8.4" fill="#9035ba"/><circle cx="1059.0" cy="2521.6" r="8.4" fill="#ff0053"/><circle cx="920.0" cy="1163.8" r="8.4" fill="#605adb"/><circle cx="764.5" cy="2526.7" r="8.4" fill="#008bfb"/><circle cx="870.1" cy="902.4" r="8.4" fill="#0075f1"/><circle cx="1040.2" cy="2538.3" r="8.4" fill="#fb0063"/><circle cx="886.3" cy="921.6" r="8.4" fill="#3569e8"/><circle cx="859.4" cy="2515.5" r="8.4" fill="#0086fa"/><circle cx="1025.7" cy="531.8" r="8.4" fill="#ff0051"/><circle cx="929.6" cy="2537.5" r="8.4" fill="#8542c5"/><circle cx="1022.2" cy="1165.1" r="8.4" fill="#e00085"/><circle cx="819.6" cy="2525.7" r="8.4" fill="#0085f9"/><circle cx="1033.0" cy="536.6" r="8.4" fill="#ff0051"/><circle cx="1015.7" cy="1038.7" r="8.4" fill="#c70099"/><circle cx="899.3" cy="2530.1" r="8.4" fill="#5a5dde"/><circle cx="841.8" cy="1773.5" r="8.4" fill="#0081f7"/><circle cx="914.5" cy="2551.1" r="8.4" fill="#7350d2"/><circle cx="922.4" cy="1787.9" r="8.4" fill="#7350d2"/><circle cx="943.8" cy="1156.2" r="8.4" fill="#8b3cc0"/><circle cx="1048.4" cy="2533.2" r="8.4" fill="#fe005d"/><circle cx="986.8" cy="1772.3" r="8.4" fill="#b010a5"/><circle cx="927.6" cy="950.2" r="8.4" fill="#7b4bcd"/><circle cx="955.3" cy="927.4" r="8.4" fill="#8d39bd"/><circle cx="874.3" cy="2516.2" r="8.4" fill="#007df6"/><circle cx="974.2" cy="2511.5" r="8.4" fill="#ba00a0"/><circle cx="1004.0" cy="2529.2" r="8.4" fill="#dc0089"/><circle cx="1020.8" cy="915.5" r="8.4" fill="#cb0096"/><circle cx="957.5" cy="1785.2" r="8.4" fill="#962db4"/><circle cx="879.0" cy="2547.7" r="8.4" fill="#0077f2"/><circle cx="845.0" cy="891.7" r="8.4" fill="#0084f9"/><circle cx="1033.3" cy="1164.5" r="8.4" fill="#ea007b"/><circle cx="993.9" cy="2543.6" r="8.4" fill="#d4008f"/><circle cx="1001.6" cy="2413.7" r="8.4" fill="#e60080"/><circle cx="811.9" cy="1781.6" r="8.4" fill="#0086f9"/><circle cx="1050.9" cy="920.5" r="8.4" fill="#e9007c"/><circle cx="934.0" cy="2508.7" r="8.4" fill="#893dc1"/><circle cx="1075.7" cy="1039.0" r="8.4" fill="#ff0056"/><circle cx="963.4" cy="2389.9" r="8.4" fill="#c60099"/><circle cx="937.1" cy="1166.5" r="8.4" fill="#7a4bcd"/><circle cx="939.9" cy="899.5" r="8.4" fill="#794cce"/><circle cx="981.1" cy="923.9" r="8.4" fill="#9e21ac"/><circle cx="935.1" cy="908.7" r="8.4" fill="#794cce"/><circle cx="1084.8" cy="2526.5" r="8.4" fill="#ff0052"/><circle cx="861.1" cy="921.4" r="8.4" fill="#007ef6"/><circle cx="906.3" cy="544.1" r="8.4" fill="#962cb3"/><circle cx="828.9" cy="933.2" r="8.4" fill="#0086f9"/><circle cx="923.2" cy="2391.6" r="8.4" fill="#9b24ae"/><circle cx="820.7" cy="906.3" r="8.4" fill="#0085f9"/><circle cx="1037.5" cy="2511.5" r="8.4" fill="#fa0065"/><circle cx="921.3" cy="887.2" r="8.4" fill="#6c54d6"/><circle cx="902.1" cy="1794.2" r="8.4" fill="#595ede"/><circle cx="1081.3" cy="1163.5" r="8.4" fill="#ff0053"/><circle cx="1136.7" cy="908.8" r="8.4" fill="#ff0051"/><circle cx="962.6" cy="542.5" r="8.4" fill="#dd0088"/><circle cx="944.9" cy="904.6" r="8.4" fill="#8146c8"/><circle cx="920.2" cy="953.1" r="8.4" fill="#6658d9"/><circle cx="827.6" cy="896.1" r="8.4" fill="#0085f9"/><circle cx="901.3" cy="923.7" r="8.4" fill="#5260e1"/><circle cx="869.3" cy="2553.2" r="8.4" fill="#007ef6"/><circle cx="907.3" cy="2406.4" r="8.4" fill="#8f36bb"/><circle cx="1000.7" cy="927.1" r="8.4" fill="#b801a1"/><circle cx="891.1" cy="1790.0" r="8.4" fill="#4365e5"/><circle cx="887.0" cy="1159.1" r="8.4" fill="#007af4"/><circle cx="791.8" cy="1782.5" r="8.4" fill="#0084f9"/><circle cx="850.3" cy="944.6" r="8.4" fill="#007ff6"/><circle cx="898.8" cy="1164.2" r="8.4" fill="#1a6deb"/><circle cx="1006.0" cy="1773.2" r="8.4" fill="#c5009a"/><circle cx="927.5" cy="1768.9" r="8.4" fill="#794cce"/><circle cx="947.5" cy="1790.9" r="8.4" fill="#883ec2"/><circle cx="1089.7" cy="1038.9" r="8.4" fill="#ff0051"/><circle cx="1033.1" cy="1160.3" r="8.4" fill="#ec0079"/><circle cx="976.3" cy="1160.6" r="8.4" fill="#af11a5"/><circle cx="953.6" cy="1160.3" r="8.4" fill="#9036bb"/><circle cx="992.2" cy="894.4" r="8.4" fill="#b10ea4"/><circle cx="1033.1" cy="539.8" r="8.4" fill="#ff0052"/><circle cx="903.6" cy="546.1" r="8.4" fill="#942fb5"/><circle cx="1064.5" cy="2524.6" r="8.4" fill="#ff0053"/><circle cx="953.3" cy="2559.7" r="8.4" fill="#9a25ae"/><circle cx="994.0" cy="2521.8" r="8.4" fill="#d30090"/><circle cx="883.8" cy="1809.2" r="8.4" fill="#0071ee"/><circle cx="804.5" cy="919.1" r="8.4" fill="#008afb"/><circle cx="1028.7" cy="541.7" r="8.4" fill="#ff0053"/><circle cx="1078.4" cy="2526.9" r="8.4" fill="#ff0055"/><circle cx="921.7" cy="1783.2" r="8.4" fill="#7350d2"/><circle cx="934.6" cy="882.3" r="8.4" fill="#8344c7"/><circle cx="990.4" cy="542.4" r="8.4" fill="#f80068"/><circle cx="1011.1" cy="548.8" r="8.4" fill="#ff0058"/><circle cx="1025.8" cy="525.0" r="8.4" fill="#ff0051"/><circle cx="911.4" cy="1795.9" r="8.4" fill="#6558d9"/><circle cx="893.9" cy="2539.3" r="8.4" fill="#3f67e6"/><circle cx="977.3" cy="1799.8" r="8.4" fill="#aa17a7"/><circle cx="861.6" cy="1779.5" r="8.4" fill="#0084f9"/><circle cx="917.2" cy="1752.2" r="8.4" fill="#7250d2"/><circle cx="974.3" cy="2540.3" r="8.4" fill="#bd009e"/><circle cx="908.9" cy="2540.0" r="8.4" fill="#5f5bdc"/><circle cx="917.1" cy="1757.0" r="8.4" fill="#6b55d6"/><circle cx="842.3" cy="1756.4" r="8.4" fill="#0084f9"/><circle cx="879.2" cy="2392.6" r="8.4" fill="#7350d2"/><circle cx="939.5" cy="2400.6" r="8.4" fill="#ae12a6"/><circle cx="901.3" cy="917.3" r="8.4" fill="#5d5cdd"/><circle cx="1046.7" cy="1786.0" r="8.4" fill="#ee0076"/><circle cx="931.1" cy="2402.6" r="8.4" fill="#a31daa"/><circle cx="985.7" cy="913.2" r="8.4" fill="#a61ba9"/><circle cx="838.9" cy="2520.1" r="8.4" fill="#0086fa"/><circle cx="847.1" cy="1770.7" r="8.4" fill="#0083f8"/><circle cx="1094.4" cy="2527.3" r="8.4" fill="#ff0051"/><circle cx="1025.8" cy="555.7" r="8.4" fill="#ff0051"/><circle cx="927.4" cy="2565.0" r="8.4" fill="#8442c5"/><circle cx="778.6" cy="914.5" r="8.4" fill="#008bfb"/><circle cx="1069.2" cy="1778.8" r="8.4" fill="#f90066"/><circle cx="801.9" cy="1781.8" r="8.4" fill="#0088fa"/><circle cx="949.2" cy="2503.7" r="8.4" fill="#972ab2"/><circle cx="947.1" cy="2424.4" r="8.4" fill="#b20ca4"/><circle cx="965.3" cy="911.5" r="8.4" fill="#9331b7"/><circle cx="871.8" cy="540.1" r="8.4" fill="#744fd1"/><circle cx="1060.0" cy="2402.6" r="8.4" fill="#ff0056"/><circle cx="963.6" cy="2413.3" r="8.4" fill="#c5009a"/><circle cx="956.8" cy="1813.4" r="8.4" fill="#942fb5"/><circle cx="951.7" cy="1808.4" r="8.4" fill="#8e38bd"/><circle cx="922.1" cy="1811.4" r="8.4" fill="#7350d2"/><circle cx="887.9" cy="2394.1" r="8.4" fill="#7e48cb"/><circle cx="954.5" cy="2491.0" r="8.4" fill="#9e21ac"/><circle cx="915.2" cy="2401.1" r="8.4" fill="#9430b6"/><circle cx="857.6" cy="544.2" r="8.4" fill="#5f5bdc"/><circle cx="1091.7" cy="1039.1" r="8.4" fill="#ff0051"/><circle cx="941.4" cy="904.5" r="8.4" fill="#8145c8"/><circle cx="916.9" cy="1804.6" r="8.4" fill="#6c54d6"/><circle cx="945.7" cy="1039.4" r="8.4" fill="#774dcf"/><circle cx="1122.0" cy="913.0" r="8.4" fill="#ff0051"/><circle cx="836.0" cy="894.1" r="8.4" fill="#0085f9"/><circle cx="975.1" cy="897.3" r="8.4" fill="#a020ab"/><circle cx="929.0" cy="1157.2" r="8.4" fill="#6f52d4"/><circle cx="833.0" cy="540.7" r="8.4" fill="#056fec"/><circle cx="1015.5" cy="552.7" r="8.4" fill="#ff0056"/><circle cx="954.3" cy="2400.8" r="8.4" fill="#be009e"/><circle cx="967.6" cy="1811.5" r="8.4" fill="#a31daa"/><circle cx="935.8" cy="918.7" r="8.4" fill="#7d49cb"/><circle cx="1126.8" cy="1782.3" r="8.4" fill="#ff0053"/><circle cx="879.0" cy="2376.6" r="8.4" fill="#7250d2"/><circle cx="964.8" cy="2510.5" r="8.4" fill="#b10ea4"/><circle cx="860.4" cy="930.8" r="8.4" fill="#007ef6"/><circle cx="974.9" cy="910.6" r="8.4" fill="#9a25ae"/><circle cx="764.9" cy="1782.7" r="8.4" fill="#008bfb"/><circle cx="955.7" cy="544.6" r="8.4" fill="#d8008c"/><circle cx="1000.0" cy="899.2" r="8.4" fill="#bb009f"/><circle cx="985.6" cy="2539.4" r="8.4" fill="#c2009c"/><circle cx="895.5" cy="913.5" r="8.4" fill="#4b63e3"/><circle cx="926.4" cy="906.6" r="8.4" fill="#7b4acd"/><circle cx="922.9" cy="2395.3" r="8.4" fill="#9b24ad"/><circle cx="947.8" cy="540.3" r="8.4" fill="#d20091"/><circle cx="941.8" cy="542.8" r="8.4" fill="#c70099"/><circle cx="967.2" cy="1772.7" r="8.4" fill="#a31daa"/><circle cx="881.1" cy="1770.9" r="8.4" fill="#166eeb"/><circle cx="1010.5" cy="900.7" r="8.4" fill="#bf009d"/><circle cx="1079.2" cy="2525.4" r="8.4" fill="#ff0051"/><circle cx="877.6" cy="1161.2" r="8.4" fill="#007ef6"/><circle cx="994.7" cy="2512.2" r="8.4" fill="#ca0096"/><circle cx="913.7" cy="2555.7" r="8.4" fill="#6d54d5"/><circle cx="950.1" cy="909.4" r="8.4" fill="#893dc1"/><circle cx="957.3" cy="1775.8" r="8.4" fill="#9330b6"/><circle cx="916.6" cy="1785.6" r="8.4" fill="#6b55d6"/><circle cx="934.6" cy="1166.3" r="8.4" fill="#764ed0"/><circle cx="1026.2" cy="1774.1" r="8.4" fill="#dd0088"/><circle cx="920.7" cy="945.4" r="8.4" fill="#6c54d6"/><circle cx="985.3" cy="1160.5" r="8.4" fill="#b704a2"/><circle cx="1110.7" cy="1778.8" r="8.4" fill="#ff0051"/><circle cx="1039.5" cy="2402.7" r="8.4" fill="#fd0060"/><circle cx="938.5" cy="2531.6" r="8.4" fill="#8d39bd"/><circle cx="1027.7" cy="1039.6" r="8.4" fill="#d5008f"/><circle cx="1102.6" cy="1163.1" r="8.4" fill="#ff0051"/><circle cx="916.1" cy="1766.5" r="8.4" fill="#6658d9"/><circle cx="904.3" cy="2539.0" r="8.4" fill="#595edf"/><circle cx="935.8" cy="898.8" r="8.4" fill="#7f47ca"/><circle cx="993.2" cy="1797.5" r="8.4" fill="#b802a1"/><circle cx="942.4" cy="1795.8" r="8.4" fill="#893ec2"/><circle cx="978.5" cy="2404.9" r="8.4" fill="#ce0094"/><circle cx="919.0" cy="2557.8" r="8.4" fill="#744fd1"/><circle cx="1035.8" cy="545.6" r="8.4" fill="#ff0051"/><circle cx="904.5" cy="1760.9" r="8.4" fill="#5a5dde"/><circle cx="829.9" cy="1801.0" r="8.4" fill="#0085f9"/><circle cx="1039.7" cy="2406.2" r="8.4" fill="#fe005d"/><circle cx="991.6" cy="1164.5" r="8.4" fill="#c0009c"/><circle cx="937.1" cy="2561.5" r="8.4" fill="#8c3abe"/><circle cx="764.5" cy="911.6" r="8.4" fill="#008bfb"/><circle cx="904.2" cy="2510.0" r="8.4" fill="#5460e0"/><circle cx="992.0" cy="1785.9" r="8.4" fill="#bf009d"/><circle cx="846.9" cy="1775.2" r="8.4" fill="#0080f7"/><circle cx="972.0" cy="1761.5" r="8.4" fill="#a918a8"/><circle cx="970.5" cy="2410.1" r="8.4" fill="#c90097"/><circle cx="970.8" cy="1157.0" r="8.4" fill="#a719a8"/><circle cx="904.4" cy="1162.6" r="8.4" fill="#4066e6"/><circle cx="806.2" cy="918.4" r="8.4" fill="#008afb"/><circle cx="863.7" cy="537.4" r="8.4" fill="#6757d8"/><circle cx="862.6" cy="1162.9" r="8.4" fill="#0089fa"/><circle cx="1091.5" cy="1784.9" r="8.4" fill="#ff0056"/><circle cx="1011.9" cy="2513.8" r="8.4" fill="#e30082"/><circle cx="1034.3" cy="1162.4" r="8.4" fill="#e7007e"/><circle cx="970.0" cy="931.0" r="8.4" fill="#972ab2"/><circle cx="801.3" cy="911.3" r="8.4" fill="#0088fa"/><circle cx="840.7" cy="928.7" r="8.4" fill="#0086fa"/><circle cx="817.4" cy="895.2" r="8.4" fill="#0086f9"/><circle cx="909.3" cy="2511.0" r="8.4" fill="#6a56d7"/><circle cx="1248.1" cy="2402.7" r="8.4" fill="#ff0051"/><circle cx="968.7" cy="2519.8" r="8.4" fill="#b409a3"/><circle cx="968.8" cy="2524.4" r="8.4" fill="#b30ba3"/><circle cx="801.4" cy="1781.3" r="8.4" fill="#008bfb"/><circle cx="847.2" cy="540.7" r="8.4" fill="#4f62e2"/><circle cx="860.3" cy="539.7" r="8.4" fill="#615adb"/><circle cx="863.9" cy="2531.5" r="8.4" fill="#0082f8"/><circle cx="921.3" cy="1155.4" r="8.4" fill="#6757d8"/><circle cx="901.9" cy="1771.8" r="8.4" fill="#555fe0"/><circle cx="970.2" cy="2417.6" r="8.4" fill="#c90097"/><circle cx="1004.0" cy="536.0" r="8.4" fill="#ff005b"/><circle cx="956.6" cy="1780.5" r="8.4" fill="#962db4"/><circle cx="1117.2" cy="1162.7" r="8.4" fill="#ff0051"/><circle cx="906.1" cy="1759.4" r="8.4" fill="#5a5dde"/><circle cx="818.4" cy="545.4" r="8.4" fill="#0079f3"/><circle cx="1036.9" cy="1160.5" r="8.4" fill="#ec0079"/><circle cx="909.2" cy="2501.4" r="8.4" fill="#6359da"/><circle cx="837.4" cy="884.9" r="8.4" fill="#0089fa"/><circle cx="919.4" cy="2543.4" r="8.4" fill="#794cce"/><circle cx="1001.3" cy="544.3" r="8.4" fill="#fd005f"/><circle cx="954.3" cy="2404.8" r="8.4" fill="#be009e"/><circle cx="838.7" cy="547.4" r="8.4" fill="#3769e8"/><circle cx="965.2" cy="916.2" r="8.4" fill="#9134b9"/><circle cx="929.9" cy="924.4" r="8.4" fill="#7151d3"/><circle cx="1011.3" cy="905.4" r="8.4" fill="#bf009d"/><circle cx="830.4" cy="895.1" r="8.4" fill="#008bfb"/><circle cx="1112.1" cy="1782.7" r="8.4" fill="#ff0051"/><circle cx="872.2" cy="1775.1" r="8.4" fill="#0078f3"/><circle cx="962.8" cy="894.4" r="8.4" fill="#952eb4"/><circle cx="840.6" cy="546.0" r="8.4" fill="#3d67e6"/><circle cx="807.4" cy="923.7" r="8.4" fill="#008afb"/><circle cx="877.5" cy="1786.3" r="8.4" fill="#0074f0"/><circle cx="881.1" cy="924.2" r="8.4" fill="#0071ee"/><circle cx="943.7" cy="1039.3" r="8.4" fill="#6f53d4"/><circle cx="954.9" cy="913.1" r="8.4" fill="#8c3bbf"/><circle cx="930.6" cy="542.5" r="8.4" fill="#b802a1"/><circle cx="882.2" cy="541.8" r="8.4" fill="#8542c5"/><circle cx="986.2" cy="1795.0" r="8.4" fill="#ae12a6"/><circle cx="970.7" cy="2380.1" r="8.4" fill="#c4009b"/><circle cx="837.0" cy="1768.6" r="8.4" fill="#0086f9"/><circle cx="1019.7" cy="1038.6" r="8.4" fill="#ce0094"/><circle cx="896.5" cy="2402.9" r="8.4" fill="#8b3cc0"/><circle cx="841.7" cy="1758.9" r="8.4" fill="#0085f9"/><circle cx="1039.7" cy="1039.4" r="8.4" fill="#e20083"/><circle cx="933.6" cy="1816.9" r="8.4" fill="#7e48ca"/><circle cx="868.6" cy="2517.8" r="8.4" fill="#007ff7"/><circle cx="879.0" cy="2420.6" r="8.4" fill="#6f53d4"/><circle cx="959.2" cy="2494.9" r="8.4" fill="#9d21ac"/><circle cx="872.0" cy="1795.1" r="8.4" fill="#007af4"/><circle cx="959.4" cy="2519.4" r="8.4" fill="#a51ba9"/><circle cx="1005.8" cy="935.4" r="8.4" fill="#bd009e"/><circle cx="963.9" cy="2393.8" r="8.4" fill="#c4009b"/><circle cx="863.7" cy="546.5" r="8.4" fill="#6a55d7"/><circle cx="953.5" cy="2512.5" r="8.4" fill="#9829b1"/><circle cx="1024.9" cy="542.0" r="8.4" fill="#ff0051"/><circle cx="943.4" cy="2522.2" r="8.4" fill="#9232b8"/><circle cx="800.0" cy="543.0" r="8.4" fill="#0088fa"/><circle cx="921.7" cy="1038.9" r="8.4" fill="#4764e4"/><circle cx="1029.2" cy="555.0" r="8.4" fill="#ff0051"/><circle cx="1001.4" cy="534.7" r="8.4" fill="#fc0062"/><circle cx="1002.0" cy="2391.4" r="8.4" fill="#e40081"/><circle cx="959.6" cy="2529.3" r="8.4" fill="#a31daa"/><circle cx="864.2" cy="2536.5" r="8.4" fill="#0082f8"/><circle cx="880.6" cy="914.5" r="8.4" fill="#0070ed"/><circle cx="897.7" cy="2494.1" r="8.4" fill="#4f62e2"/><circle cx="838.9" cy="2399.2" r="8.4" fill="#2d6be9"/><circle cx="906.1" cy="1797.0" r="8.4" fill="#5c5ddd"/><circle cx="914.0" cy="2541.8" r="8.4" fill="#6d54d5"/><circle cx="960.1" cy="906.7" r="8.4" fill="#8e38bc"/><circle cx="945.3" cy="947.9" r="8.4" fill="#873fc3"/><circle cx="1039.8" cy="2409.8" r="8.4" fill="#fa0065"/><circle cx="981.2" cy="1796.7" r="8.4" fill="#ad13a6"/><circle cx="916.4" cy="1809.4" r="8.4" fill="#6e53d5"/><circle cx="987.6" cy="542.2" r="8.4" fill="#f7006a"/><circle cx="889.3" cy="2496.6" r="8.4" fill="#096fec"/><circle cx="1068.6" cy="2528.4" r="8.4" fill="#ff0051"/><circle cx="1057.3" cy="1781.9" r="8.4" fill="#f6006b"/><circle cx="1015.8" cy="907.3" r="8.4" fill="#c90097"/><circle cx="939.5" cy="2412.3" r="8.4" fill="#ac15a7"/><circle cx="958.9" cy="539.3" r="8.4" fill="#d7008d"/><circle cx="1117.0" cy="2525.9" r="8.4" fill="#ff0052"/><circle cx="931.1" cy="905.4" r="8.4" fill="#794cce"/><circle cx="1082.3" cy="1782.2" r="8.4" fill="#ff005b"/><circle cx="925.7" cy="926.0" r="8.4" fill="#7350d2"/><circle cx="1036.3" cy="1787.4" r="8.4" fill="#e8007d"/><circle cx="1001.8" cy="2406.3" r="8.4" fill="#e6007f"/><circle cx="1077.4" cy="920.5" r="8.4" fill="#f6006b"/><circle cx="977.8" cy="1806.5" r="8.4" fill="#a918a8"/><circle cx="954.5" cy="2503.0" r="8.4" fill="#9b24ad"/><circle cx="1042.6" cy="1782.0" r="8.4" fill="#ec0079"/><circle cx="1001.0" cy="2395.1" r="8.4" fill="#e50081"/><circle cx="1080.5" cy="913.6" r="8.4" fill="#f80069"/><circle cx="831.1" cy="1782.0" r="8.4" fill="#0087fa"/><circle cx="925.3" cy="1741.8" r="8.4" fill="#7d49cb"/><circle cx="840.5" cy="538.8" r="8.4" fill="#4864e4"/><circle cx="1010.0" cy="928.4" r="8.4" fill="#c0009c"/><circle cx="961.2" cy="1761.3" r="8.4" fill="#9d21ac"/><circle cx="915.6" cy="911.6" r="8.4" fill="#6459da"/><circle cx="1018.6" cy="1159.6" r="8.4" fill="#d9008c"/><circle cx="970.1" cy="539.2" r="8.4" fill="#e50081"/><circle cx="1148.5" cy="1039.0" r="8.4" fill="#ff0051"/><circle cx="946.7" cy="2420.6" r="8.4" fill="#b409a3"/><circle cx="981.4" cy="919.5" r="8.4" fill="#a61aa9"/><circle cx="891.4" cy="1785.1" r="8.4" fill="#326ae8"/><circle cx="826.3" cy="911.9" r="8.4" fill="#0084f9"/><circle cx="1025.6" cy="913.3" r="8.4" fill="#cd0094"/><circle cx="966.3" cy="1796.9" r="8.4" fill="#a11fab"/><circle cx="975.1" cy="1154.8" r="8.4" fill="#ab16a7"/><circle cx="895.4" cy="1161.0" r="8.4" fill="#0071ee"/><circle cx="875.9" cy="903.3" r="8.4" fill="#0074f0"/><circle cx="955.7" cy="1038.8" r="8.4" fill="#7f48ca"/><circle cx="916.2" cy="1814.1" r="8.4" fill="#7151d3"/><circle cx="992.3" cy="1767.7" r="8.4" fill="#bc009f"/><circle cx="969.1" cy="932.9" r="8.4" fill="#962cb3"/><circle cx="844.2" cy="2529.0" r="8.4" fill="#0088fa"/><circle cx="883.3" cy="2535.8" r="8.4" fill="#0078f3"/><circle cx="919.7" cy="2538.6" r="8.4" fill="#764ed0"/><circle cx="1004.5" cy="1165.6" r="8.4" fill="#ca0097"/><circle cx="939.9" cy="934.2" r="8.4" fill="#8046c9"/><circle cx="846.7" cy="1766.3" r="8.4" fill="#0086f9"/><circle cx="981.7" cy="1039.4" r="8.4" fill="#9829b1"/><circle cx="850.9" cy="910.1" r="8.4" fill="#007ff6"/><circle cx="942.0" cy="1782.1" r="8.4" fill="#8343c6"/><circle cx="951.5" cy="1755.3" r="8.4" fill="#8f37bc"/><circle cx="885.0" cy="1165.6" r="8.4" fill="#007af4"/><circle cx="964.6" cy="2505.8" r="8.4" fill="#ae12a5"/><circle cx="996.3" cy="1771.3" r="8.4" fill="#b900a0"/><circle cx="809.9" cy="2525.6" r="8.4" fill="#008afa"/><circle cx="813.7" cy="544.1" r="8.4" fill="#0080f7"/><circle cx="950.3" cy="923.9" r="8.4" fill="#883fc2"/><circle cx="960.4" cy="930.0" r="8.4" fill="#9232b8"/><circle cx="1013.2" cy="1165.1" r="8.4" fill="#d6008e"/><circle cx="1107.3" cy="2526.7" r="8.4" fill="#ff0051"/><circle cx="881.4" cy="1761.2" r="8.4" fill="#0073ef"/><circle cx="940.5" cy="889.6" r="8.4" fill="#7e48ca"/><circle cx="955.0" cy="898.8" r="8.4" fill="#9036ba"/><circle cx="988.3" cy="2517.4" r="8.4" fill="#cd0095"/><circle cx="971.3" cy="2398.9" r="8.4" fill="#c90097"/><circle cx="868.6" cy="2545.8" r="8.4" fill="#007df6"/><circle cx="1039.8" cy="2395.5" r="8.4" fill="#fc0060"/><circle cx="939.4" cy="2435.8" r="8.4" fill="#aa16a7"/><circle cx="939.0" cy="2551.2" r="8.4" fill="#8e37bc"/><circle cx="1030.2" cy="2395.5" r="8.4" fill="#f80068"/><circle cx="980.8" cy="910.7" r="8.4" fill="#a61ba9"/><circle cx="1001.8" cy="1780.2" r="8.4" fill="#c2009c"/><circle cx="821.8" cy="547.7" r="8.4" fill="#0079f3"/><circle cx="1015.7" cy="920.7" r="8.4" fill="#c70099"/><circle cx="891.7" cy="1765.5" r="8.4" fill="#3c67e6"/><circle cx="1016.1" cy="1783.0" r="8.4" fill="#d5008f"/><circle cx="970.5" cy="2413.9" r="8.4" fill="#c70098"/><circle cx="914.9" cy="2397.4" r="8.4" fill="#952eb4"/><circle cx="861.4" cy="916.8" r="8.4" fill="#007bf4"/><circle cx="860.5" cy="2400.6" r="8.4" fill="#615adb"/><circle cx="989.0" cy="2521.6" r="8.4" fill="#cb0096"/><circle cx="921.5" cy="1802.0" r="8.4" fill="#7251d2"/><circle cx="941.2" cy="2545.0" r="8.4" fill="#9233b9"/><circle cx="1065.2" cy="1164.2" r="8.4" fill="#ff005b"/><circle cx="1141.6" cy="1162.6" r="8.4" fill="#ff0051"/><circle cx="906.1" cy="923.0" r="8.4" fill="#585edf"/><circle cx="911.2" cy="1805.7" r="8.4" fill="#615adb"/><circle cx="925.5" cy="1165.1" r="8.4" fill="#6857d8"/><circle cx="1006.1" cy="920.7" r="8.4" fill="#bf009d"/><circle cx="961.2" cy="1165.8" r="8.4" fill="#9b24ad"/><circle cx="1151.8" cy="1782.3" r="8.4" fill="#ff0051"/><circle cx="906.9" cy="1778.2" r="8.4" fill="#6956d7"/><circle cx="1018.2" cy="535.4" r="8.4" fill="#ff0055"/><circle cx="963.6" cy="2548.4" r="8.4" fill="#b10da4"/><circle cx="824.0" cy="2526.9" r="8.4" fill="#0087fa"/><circle cx="815.0" cy="923.2" r="8.4" fill="#008bfb"/><circle cx="997.7" cy="1038.6" r="8.4" fill="#ac15a6"/><circle cx="1043.7" cy="1039.4" r="8.4" fill="#e8007d"/><circle cx="1133.8" cy="1162.2" r="8.4" fill="#ff0051"/><circle cx="976.4" cy="1765.3" r="8.4" fill="#ac15a6"/><circle cx="1030.2" cy="2407.0" r="8.4" fill="#f80069"/><circle cx="818.8" cy="1779.5" r="8.4" fill="#0083f8"/><circle cx="920.1" cy="901.7" r="8.4" fill="#6a55d7"/><circle cx="1097.4" cy="1782.6" r="8.4" fill="#ff0051"/><circle cx="1150.8" cy="1782.3" r="8.4" fill="#ff0053"/><circle cx="977.5" cy="1775.2" r="8.4" fill="#ad13a6"/><circle cx="850.5" cy="900.2" r="8.4" fill="#0085f9"/><circle cx="878.2" cy="541.9" r="8.4" fill="#7e48ca"/><circle cx="919.1" cy="2514.7" r="8.4" fill="#754ed0"/><circle cx="1015.3" cy="1162.3" r="8.4" fill="#da008b"/><circle cx="931.1" cy="1160.9" r="8.4" fill="#6f53d4"/><circle cx="936.0" cy="1770.7" r="8.4" fill="#8145c8"/><circle cx="996.9" cy="555.1" r="8.4" fill="#fb0064"/><circle cx="818.3" cy="894.1" r="8.4" fill="#008afb"/><circle cx="1039.4" cy="2531.3" r="8.4" fill="#f90067"/><circle cx="1039.4" cy="1164.2" r="8.4" fill="#ef0075"/><circle cx="929.7" cy="1039.0" r="8.4" fill="#575fdf"/><circle cx="1006.5" cy="1787.8" r="8.4" fill="#cb0096"/><circle cx="1109.0" cy="2525.4" r="8.4" fill="#ff0051"/><circle cx="935.7" cy="1039.4" r="8.4" fill="#6657d9"/><circle cx="954.1" cy="896.7" r="8.4" fill="#8f37bc"/><circle cx="988.3" cy="2534.4" r="8.4" fill="#c90097"/><circle cx="920.9" cy="935.7" r="8.4" fill="#774dcf"/><circle cx="927.2" cy="1792.7" r="8.4" fill="#794cce"/><circle cx="917.3" cy="932.9" r="8.4" fill="#6f53d4"/><circle cx="979.1" cy="2520.3" r="8.4" fill="#c80098"/><circle cx="945.2" cy="928.7" r="8.4" fill="#883fc3"/><circle cx="1041.9" cy="1162.4" r="8.4" fill="#f10073"/><circle cx="1118.1" cy="1163.0" r="8.4" fill="#ff0051"/><circle cx="1018.6" cy="2523.6" r="8.4" fill="#e50081"/><circle cx="1028.4" cy="558.4" r="8.4" fill="#ff0051"/><circle cx="1016.1" cy="898.3" r="8.4" fill="#c80098"/><circle cx="932.0" cy="1805.3" r="8.4" fill="#7e48ca"/><circle cx="975.5" cy="919.4" r="8.4" fill="#a11fab"/><circle cx="1008.1" cy="542.5" r="8.4" fill="#ff005b"/><circle cx="879.0" cy="2543.0" r="8.4" fill="#0076f1"/><circle cx="1073.4" cy="2520.8" r="8.4" fill="#ff0056"/><circle cx="879.0" cy="2400.6" r="8.4" fill="#754fd1"/><circle cx="832.2" cy="1786.6" r="8.4" fill="#0084f9"/><circle cx="1001.0" cy="537.9" r="8.4" fill="#fd0060"/><circle cx="954.5" cy="2384.9" r="8.4" fill="#b703a1"/><circle cx="896.0" cy="2384.3" r="8.4" fill="#8443c6"/><circle cx="1000.5" cy="547.5" r="8.4" fill="#fc0062"/><circle cx="1121.2" cy="1162.7" r="8.4" fill="#ff0052"/><circle cx="920.3" cy="953.1" r="8.4" fill="#6e53d5"/><circle cx="860.5" cy="893.3" r="8.4" fill="#0080f7"/><circle cx="1118.3" cy="2526.7" r="8.4" fill="#ff0051"/><circle cx="1003.3" cy="1159.7" r="8.4" fill="#cc0095"/><circle cx="813.7" cy="541.7" r="8.4" fill="#007ef6"/><circle cx="979.3" cy="537.3" r="8.4" fill="#ed0077"/><circle cx="836.2" cy="1758.9" r="8.4" fill="#0081f7"/><circle cx="881.7" cy="544.7" r="8.4" fill="#8542c5"/><circle cx="946.2" cy="1167.8" r="8.4" fill="#883fc2"/><circle cx="862.2" cy="1793.6" r="8.4" fill="#0082f8"/><circle cx="987.4" cy="2402.6" r="8.4" fill="#dc0089"/><circle cx="1000.0" cy="903.8" r="8.4" fill="#ba00a0"/><circle cx="894.4" cy="2510.8" r="8.4" fill="#4365e5"/><circle cx="1095.7" cy="1039.1" r="8.4" fill="#ff0051"/><circle cx="901.5" cy="1161.2" r="8.4" fill="#326ae8"/><circle cx="878.5" cy="2396.6" r="8.4" fill="#7052d4"/><circle cx="813.7" cy="929.5" r="8.4" fill="#0088fa"/><circle cx="936.9" cy="1761.4" r="8.4" fill="#8046c9"/><circle cx="987.7" cy="2399.0" r="8.4" fill="#d6008e"/><circle cx="1192.1" cy="2402.7" r="8.4" fill="#ff0051"/><circle cx="937.2" cy="1752.0" r="8.4" fill="#8541c4"/><circle cx="964.4" cy="2501.1" r="8.4" fill="#ac14a6"/><circle cx="871.6" cy="1780.1" r="8.4" fill="#007af4"/><circle cx="846.4" cy="1797.5" r="8.4" fill="#0088fa"/><circle cx="842.0" cy="1763.8" r="8.4" fill="#0083f8"/><circle cx="1088.9" cy="917.4" r="8.4" fill="#fd005f"/><circle cx="976.6" cy="1804.8" r="8.4" fill="#b010a5"/><circle cx="1024.7" cy="559.1" r="8.4" fill="#ff0054"/><circle cx="1005.2" cy="930.5" r="8.4" fill="#bc009f"/><circle cx="994.3" cy="538.0" r="8.4" fill="#fa0065"/><circle cx="971.0" cy="2395.1" r="8.4" fill="#c80098"/><circle cx="924.9" cy="911.5" r="8.4" fill="#6b55d7"/><circle cx="881.9" cy="1780.6" r="8.4" fill="#0d6eec"/><circle cx="993.8" cy="535.0" r="8.4" fill="#fa0065"/><circle cx="836.8" cy="1763.8" r="8.4" fill="#0085f9"/><circle cx="964.9" cy="2494.1" r="8.4" fill="#a61ba9"/><circle cx="892.4" cy="1804.8" r="8.4" fill="#4b63e3"/><circle cx="1150.6" cy="1162.6" r="8.4" fill="#ff0056"/><circle cx="852.6" cy="1798.9" r="8.4" fill="#0084f9"/><circle cx="869.1" cy="2522.5" r="8.4" fill="#007ef6"/><circle cx="964.1" cy="2382.1" r="8.4" fill="#c60099"/><circle cx="916.9" cy="541.2" r="8.4" fill="#a51ca9"/><circle cx="846.4" cy="1801.9" r="8.4" fill="#0080f7"/><circle cx="974.9" cy="932.6" r="8.4" fill="#9f20ab"/><circle cx="880.6" cy="546.1" r="8.4" fill="#8145c8"/><circle cx="979.0" cy="2393.4" r="8.4" fill="#d20091"/><circle cx="1065.1" cy="2522.8" r="8.4" fill="#ff0052"/><circle cx="996.9" cy="1775.6" r="8.4" fill="#bd009e"/><circle cx="886.2" cy="1798.5" r="8.4" fill="#3669e8"/><circle cx="982.1" cy="1781.8" r="8.4" fill="#ac15a6"/><circle cx="1061.1" cy="915.2" r="8.4" fill="#ec0079"/><circle cx="957.6" cy="1752.2" r="8.4" fill="#962cb3"/><circle cx="1060.0" cy="2406.3" r="8.4" fill="#ff0051"/><circle cx="1015.9" cy="1165.1" r="8.4" fill="#d8008d"/><circle cx="886.5" cy="1164.9" r="8.4" fill="#007af4"/><circle cx="964.6" cy="1164.0" r="8.4" fill="#9e21ac"/><circle cx="931.0" cy="2422.3" r="8.4" fill="#a61ba9"/><circle cx="1114.5" cy="1163.1" r="8.4" fill="#ff0051"/><circle cx="1010.0" cy="914.6" r="8.4" fill="#c2009b"/><circle cx="982.7" cy="536.5" r="8.4" fill="#f20071"/><circle cx="1015.6" cy="893.8" r="8.4" fill="#c4009a"/><circle cx="968.3" cy="2533.7" r="8.4" fill="#b409a3"/><circle cx="1006.3" cy="1159.6" r="8.4" fill="#ce0094"/><circle cx="1071.7" cy="1039.1" r="8.4" fill="#fe005c"/><circle cx="902.3" cy="536.2" r="8.4" fill="#9332b7"/><circle cx="994.6" cy="2397.3" r="8.4" fill="#de0087"/><circle cx="942.9" cy="1168.1" r="8.4" fill="#8443c6"/><circle cx="951.7" cy="544.5" r="8.4" fill="#d10092"/><circle cx="950.0" cy="1159.1" r="8.4" fill="#8e39bd"/><circle cx="951.5" cy="1766.8" r="8.4" fill="#9135ba"/><circle cx="850.3" cy="939.6" r="8.4" fill="#0082f8"/><circle cx="936.8" cy="1812.7" r="8.4" fill="#8145c8"/><circle cx="1003.2" cy="2524.4" r="8.4" fill="#dd0088"/><circle cx="1114.2" cy="1162.7" r="8.4" fill="#ff0055"/><circle cx="930.2" cy="910.1" r="8.4" fill="#7052d4"/><circle cx="909.8" cy="1159.5" r="8.4" fill="#4964e4"/><circle cx="938.3" cy="2511.9" r="8.4" fill="#952eb5"/><circle cx="956.8" cy="1794.6" r="8.4" fill="#962cb3"/><circle cx="1029.9" cy="2403.2" r="8.4" fill="#f6006c"/><circle cx="1163.5" cy="1162.6" r="8.4" fill="#ff0051"/><circle cx="944.8" cy="1168.9" r="8.4" fill="#8244c7"/><circle cx="999.7" cy="2509.9" r="8.4" fill="#db008a"/><circle cx="896.5" cy="1794.5" r="8.4" fill="#5360e0"/><circle cx="1126.6" cy="2523.9" r="8.4" fill="#ff0051"/><circle cx="946.9" cy="2393.9" r="8.4" fill="#bb009f"/><circle cx="927.5" cy="1811.7" r="8.4" fill="#7a4bce"/><circle cx="915.4" cy="2393.7" r="8.4" fill="#9430b6"/><circle cx="845.8" cy="1805.1" r="8.4" fill="#0085f9"/><circle cx="859.0" cy="2537.9" r="8.4" fill="#0083f8"/><circle cx="974.2" cy="2516.3" r="8.4" fill="#b901a1"/><circle cx="835.3" cy="903.6" r="8.4" fill="#0083f8"/><circle cx="923.8" cy="2545.9" r="8.4" fill="#7d49cb"/><circle cx="889.3" cy="1164.6" r="8.4" fill="#0079f3"/><circle cx="1073.7" cy="1039.1" r="8.4" fill="#fe005c"/><circle cx="1146.8" cy="1781.9" r="8.4" fill="#ff0051"/><circle cx="808.8" cy="542.2" r="8.4" fill="#0081f7"/><circle cx="947.6" cy="1804.5" r="8.4" fill="#8c3bbf"/><circle cx="880.5" cy="919.4" r="8.4" fill="#0071ee"/><circle cx="885.5" cy="917.3" r="8.4" fill="#316ae9"/><circle cx="894.5" cy="2544.0" r="8.4" fill="#3968e7"/><circle cx="963.8" cy="2553.1" r="8.4" fill="#a71aa9"/><circle cx="1099.2" cy="1162.7" r="8.4" fill="#ff0051"/><circle cx="866.0" cy="914.9" r="8.4" fill="#0078f3"/><circle cx="920.5" cy="940.6" r="8.4" fill="#7450d1"/><circle cx="966.9" cy="1758.2" r="8.4" fill="#a719a8"/><circle cx="979.6" cy="1164.1" r="8.4" fill="#b10fa4"/><circle cx="976.8" cy="540.8" r="8.4" fill="#ed0078"/><circle cx="989.5" cy="2513.1" r="8.4" fill="#c4009a"/><circle cx="829.9" cy="1758.1" r="8.4" fill="#0083f8"/><circle cx="916.1" cy="1776.0" r="8.4" fill="#6f53d4"/><circle cx="1007.3" cy="552.2" r="8.4" fill="#ff005a"/><circle cx="996.6" cy="1764.3" r="8.4" fill="#c0009d"/><circle cx="960.3" cy="925.4" r="8.4" fill="#9134b9"/><circle cx="855.0" cy="942.2" r="8.4" fill="#0080f7"/><circle cx="917.3" cy="542.2" r="8.4" fill="#a71aa8"/><circle cx="889.7" cy="2534.8" r="8.4" fill="#046fec"/><circle cx="861.3" cy="888.7" r="8.4" fill="#007cf5"/><circle cx="927.7" cy="1039.2" r="8.4" fill="#5161e1"/><circle cx="866.3" cy="899.9" r="8.4" fill="#0078f2"/><circle cx="971.6" cy="1794.7" r="8.4" fill="#a918a8"/><circle cx="1018.7" cy="2528.2" r="8.4" fill="#e7007f"/><circle cx="922.8" cy="2384.3" r="8.4" fill="#9e21ac"/><circle cx="960.2" cy="911.4" r="8.4" fill="#9134b9"/><circle cx="911.3" cy="1791.0" r="8.4" fill="#575fdf"/><circle cx="895.2" cy="1164.0" r="8.4" fill="#106eec"/><circle cx="1036.8" cy="1774.1" r="8.4" fill="#e7007f"/><circle cx="940.3" cy="1157.7" r="8.4" fill="#8146c9"/><circle cx="849.5" cy="2409.9" r="8.4" fill="#4764e4"/><circle cx="928.3" cy="1167.3" r="8.4" fill="#7052d3"/><circle cx="1121.5" cy="917.8" r="8.4" fill="#ff0051"/><circle cx="936.2" cy="933.6" r="8.4" fill="#7e48cb"/><circle cx="916.4" cy="1165.2" r="8.4" fill="#5f5bdc"/><circle cx="920.4" cy="1156.5" r="8.4" fill="#605bdb"/><circle cx="874.5" cy="2497.4" r="8.4" fill="#007bf4"/><circle cx="859.7" cy="2424.6" r="8.4" fill="#5a5dde"/><circle cx="841.7" cy="2535.3" r="8.4" fill="#0086fa"/><circle cx="1081.7" cy="1038.6" r="8.4" fill="#ff0052"/><circle cx="940.3" cy="929.3" r="8.4" fill="#7f47ca"/><circle cx="1004.8" cy="542.6" r="8.4" fill="#fd005f"/><circle cx="875.8" cy="918.3" r="8.4" fill="#0074f0"/><circle cx="804.0" cy="2526.6" r="8.4" fill="#0087fa"/><circle cx="988.9" cy="1164.8" r="8.4" fill="#bd009e"/><circle cx="939.3" cy="2536.5" r="8.4" fill="#8e39bd"/><circle cx="1071.4" cy="915.5" r="8.4" fill="#f4006f"/><circle cx="859.6" cy="1163.0" r="8.4" fill="#008bfb"/><circle cx="1032.4" cy="552.7" r="8.4" fill="#ff0051"/><circle cx="968.5" cy="2510.5" r="8.4" fill="#ad14a6"/><circle cx="907.1" cy="2417.7" r="8.4" fill="#9134b9"/><circle cx="814.1" cy="2526.8" r="8.4" fill="#0087fa"/><circle cx="1123.6" cy="1162.8" r="8.4" fill="#ff0053"/><circle cx="896.2" cy="1780.6" r="8.4" fill="#4764e4"/><circle cx="1052.3" cy="1780.5" r="8.4" fill="#f20071"/><circle cx="983.4" cy="547.7" r="8.4" fill="#f20071"/><circle cx="905.2" cy="909.5" r="8.4" fill="#5b5dde"/><circle cx="993.7" cy="2541.1" r="8.4" fill="#d20091"/><circle cx="859.6" cy="1163.4" r="8.4" fill="#008bfb"/><circle cx="891.9" cy="1775.3" r="8.4" fill="#4565e4"/><circle cx="941.4" cy="894.5" r="8.4" fill="#8244c7"/><circle cx="1011.7" cy="1039.3" r="8.4" fill="#c2009b"/><circle cx="947.5" cy="2416.8" r="8.4" fill="#b30ba3"/><circle cx="867.4" cy="1776.5" r="8.4" fill="#007ef6"/><circle cx="842.5" cy="1788.0" r="8.4" fill="#0081f7"/><circle cx="986.3" cy="1165.3" r="8.4" fill="#be009e"/><circle cx="1115.7" cy="1039.2" r="8.4" fill="#ff0052"/><circle cx="886.5" cy="1808.1" r="8.4" fill="#3e67e6"/><circle cx="943.2" cy="1165.2" r="8.4" fill="#8046c9"/><circle cx="1001.4" cy="2384.0" r="8.4" fill="#e9007d"/><circle cx="1009.9" cy="919.2" r="8.4" fill="#bf009d"/><circle cx="964.2" cy="2417.2" r="8.4" fill="#c2009c"/><circle cx="1092.6" cy="1162.2" r="8.4" fill="#ff0052"/><circle cx="875.8" cy="933.2" r="8.4" fill="#0073ef"/><circle cx="1016.3" cy="1774.1" r="8.4" fill="#d4008f"/><circle cx="814.9" cy="910.0" r="8.4" fill="#008bfb"/><circle cx="993.8" cy="1164.6" r="8.4" fill="#c2009b"/><circle cx="852.4" cy="1774.4" r="8.4" fill="#0085f9"/><circle cx="851.6" cy="547.4" r="8.4" fill="#565fdf"/><circle cx="1021.7" cy="528.2" r="8.4" fill="#ff0051"/><circle cx="904.1" cy="2553.5" r="8.4" fill="#6359da"/><circle cx="1038.6" cy="2519.1" r="8.4" fill="#f80069"/><circle cx="971.8" cy="538.0" r="8.4" fill="#e9007c"/><circle cx="1125.9" cy="1783.0" r="8.4" fill="#ff0053"/><circle cx="1001.1" cy="1162.4" r="8.4" fill="#ce0094"/><circle cx="1018.8" cy="542.0" r="8.4" fill="#ff0053"/><circle cx="1049.8" cy="906.2" r="8.4" fill="#e20084"/><circle cx="1111.6" cy="1163.1" r="8.4" fill="#ff0054"/><circle cx="882.4" cy="1758.1" r="8.4" fill="#2a6bea"/><circle cx="892.3" cy="1794.9" r="8.4" fill="#4864e4"/><circle cx="849.9" cy="924.8" r="8.4" fill="#0081f8"/><circle cx="919.2" cy="2548.2" r="8.4" fill="#7b4bcd"/><circle cx="915.2" cy="921.5" r="8.4" fill="#5c5cdd"/><circle cx="1019.2" cy="2532.7" r="8.4" fill="#e8007d"/><circle cx="931.2" cy="933.9" r="8.4" fill="#794cce"/><circle cx="1074.8" cy="1163.7" r="8.4" fill="#ff0051"/><circle cx="1034.7" cy="532.8" r="8.4" fill="#ff0051"/><circle cx="956.3" cy="1766.4" r="8.4" fill="#962cb3"/><circle cx="871.2" cy="939.3" r="8.4" fill="#0076f1"/><circle cx="940.7" cy="1160.1" r="8.4" fill="#7e48cb"/><circle cx="1045.7" cy="1039.6" r="8.4" fill="#e9007c"/><circle cx="800.4" cy="914.3" r="8.4" fill="#0087fa"/><circle cx="1056.8" cy="1778.8" r="8.4" fill="#f30070"/><circle cx="955.0" cy="1165.1" r="8.4" fill="#9233b9"/><circle cx="841.7" cy="1792.9" r="8.4" fill="#0084f9"/><circle cx="866.5" cy="1801.6" r="8.4" fill="#007cf5"/><circle cx="907.7" cy="2402.7" r="8.4" fill="#8b3cc0"/><circle cx="954.0" cy="2550.3" r="8.4" fill="#9b23ad"/><circle cx="873.6" cy="2520.9" r="8.4" fill="#007bf4"/><circle cx="928.9" cy="1162.2" r="8.4" fill="#6c54d6"/><circle cx="923.8" cy="2550.8" r="8.4" fill="#8145c8"/><circle cx="1138.6" cy="1162.6" r="8.4" fill="#ff0051"/><circle cx="912.0" cy="1771.5" r="8.4" fill="#6757d8"/><circle cx="1064.3" cy="2526.1" r="8.4" fill="#ff0051"/><circle cx="893.3" cy="1162.4" r="8.4" fill="#0074f0"/><circle cx="851.4" cy="1789.1" r="8.4" fill="#0085f9"/><circle cx="878.7" cy="2416.6" r="8.4" fill="#6f52d4"/><circle cx="962.3" cy="1812.6" r="8.4" fill="#9e21ac"/><circle cx="831.4" cy="908.8" r="8.4" fill="#0084f9"/><circle cx="959.5" cy="542.5" r="8.4" fill="#d8008c"/><circle cx="764.5" cy="914.7" r="8.4" fill="#008bfb"/><circle cx="889.4" cy="2549.1" r="8.4" fill="#0071ee"/><circle cx="1017.9" cy="1162.3" r="8.4" fill="#db008a"/><circle cx="950.4" cy="904.6" r="8.4" fill="#893ec1"/><circle cx="822.3" cy="2527.3" r="8.4" fill="#0087fa"/><circle cx="1065.9" cy="2403.7" r="8.4" fill="#ff0051"/><circle cx="939.9" cy="2428.0" r="8.4" fill="#a71aa9"/><circle cx="868.9" cy="2393.1" r="8.4" fill="#6857d8"/><circle cx="1011.8" cy="1782.9" r="8.4" fill="#d00092"/><circle cx="958.3" cy="2534.2" r="8.4" fill="#a11fab"/><circle cx="993.5" cy="532.0" r="8.4" fill="#f80068"/><circle cx="1004.0" cy="1162.4" r="8.4" fill="#cd0094"/><circle cx="1034.0" cy="2515.4" r="8.4" fill="#f70069"/><circle cx="950.2" cy="894.9" r="8.4" fill="#883fc2"/><circle cx="920.2" cy="892.0" r="8.4" fill="#6d53d5"/><circle cx="954.6" cy="2396.8" r="8.4" fill="#bb009f"/><circle cx="860.1" cy="2376.6" r="8.4" fill="#5161e1"/><circle cx="1002.3" cy="1785.1" r="8.4" fill="#c4009a"/><circle cx="1018.5" cy="532.1" r="8.4" fill="#ff0057"/><circle cx="888.9" cy="2544.3" r="8.4" fill="#0074f0"/><circle cx="975.7" cy="1039.0" r="8.4" fill="#962cb3"/><circle cx="982.5" cy="1158.9" r="8.4" fill="#b703a1"/><circle cx="1051.7" cy="1038.9" r="8.4" fill="#f00074"/><circle cx="823.1" cy="544.0" r="8.4" fill="#0078f2"/><circle cx="998.4" cy="2514.7" r="8.4" fill="#d7008d"/><circle cx="853.8" cy="2534.2" r="8.4" fill="#0085f9"/><circle cx="859.3" cy="2529.0" r="8.4" fill="#0085f9"/><circle cx="876.6" cy="1776.5" r="8.4" fill="#0072ef"/><circle cx="931.3" cy="2410.5" r="8.4" fill="#9f20ab"/><circle cx="991.0" cy="930.8" r="8.4" fill="#ab15a7"/><circle cx="946.5" cy="2428.2" r="8.4" fill="#b900a0"/><circle cx="925.9" cy="930.8" r="8.4" fill="#6f53d4"/><circle cx="856.0" cy="923.4" r="8.4" fill="#007ef6"/><circle cx="867.5" cy="1781.0" r="8.4" fill="#007ff7"/><circle cx="893.2" cy="1164.3" r="8.4" fill="#0073ef"/><circle cx="886.1" cy="1788.8" r="8.4" fill="#296bea"/><circle cx="884.0" cy="2506.4" r="8.4" fill="#0077f2"/><circle cx="1072.1" cy="2406.3" r="8.4" fill="#ff0053"/><circle cx="859.9" cy="926.1" r="8.4" fill="#007ff7"/><circle cx="1194.4" cy="2526.7" r="8.4" fill="#ff0051"/><circle cx="930.1" cy="895.9" r="8.4" fill="#744fd1"/><circle cx="841.7" cy="1768.6" r="8.4" fill="#0085f9"/><circle cx="836.4" cy="941.6" r="8.4" fill="#0083f8"/><circle cx="1043.7" cy="2526.5" r="8.4" fill="#fc0060"/><circle cx="926.6" cy="946.8" r="8.4" fill="#7151d3"/><circle cx="1048.6" cy="2402.1" r="8.4" fill="#fd005e"/><circle cx="871.2" cy="920.8" r="8.4" fill="#007bf5"/><circle cx="1252.4" cy="2155.0" r="8.4" fill="#ff0051"/><circle cx="1159.6" cy="1162.6" r="8.4" fill="#ff0051"/><circle cx="1057.3" cy="918.0" r="8.4" fill="#e8007d"/><circle cx="1023.2" cy="2538.2" r="8.4" fill="#ec0079"/><circle cx="873.4" cy="2549.1" r="8.4" fill="#007bf5"/><circle cx="1121.5" cy="908.8" r="8.4" fill="#ff0051"/><circle cx="986.9" cy="545.7" r="8.4" fill="#f4006e"/><circle cx="923.0" cy="1161.1" r="8.4" fill="#6657d9"/><circle cx="1055.7" cy="913.5" r="8.4" fill="#ea007b"/><circle cx="985.5" cy="903.4" r="8.4" fill="#a819a8"/><circle cx="1065.2" cy="1161.1" r="8.4" fill="#ff005a"/><circle cx="1056.8" cy="2517.7" r="8.4" fill="#ff0054"/><circle cx="929.1" cy="1156.8" r="8.4" fill="#6857d8"/><circle cx="994.7" cy="2393.7" r="8.4" fill="#df0086"/><circle cx="869.5" cy="2385.2" r="8.4" fill="#6657d9"/><circle cx="1092.5" cy="1779.4" r="8.4" fill="#ff0057"/><circle cx="897.6" cy="1799.1" r="8.4" fill="#4a63e3"/><circle cx="841.1" cy="910.3" r="8.4" fill="#0083f8"/><circle cx="835.3" cy="917.8" r="8.4" fill="#0086f9"/><circle cx="1001.7" cy="1775.3" r="8.4" fill="#c3009b"/><circle cx="860.1" cy="2388.6" r="8.4" fill="#5360e0"/><circle cx="869.8" cy="2409.0" r="8.4" fill="#6f53d4"/><circle cx="933.7" cy="1038.5" r="8.4" fill="#6459da"/><circle cx="1059.5" cy="2398.8" r="8.4" fill="#ff0054"/><circle cx="954.9" cy="917.8" r="8.4" fill="#8f37bc"/><circle cx="923.3" cy="2388.0" r="8.4" fill="#9b24ad"/><circle cx="841.6" cy="1783.2" r="8.4" fill="#0085f9"/><circle cx="883.6" cy="2550.5" r="8.4" fill="#0077f2"/><circle cx="947.4" cy="1806.5" r="8.4" fill="#8a3dc1"/><circle cx="884.2" cy="2496.6" r="8.4" fill="#0075f1"/><circle cx="1010.6" cy="542.5" r="8.4" fill="#ff005a"/><circle cx="1020.0" cy="910.5" r="8.4" fill="#ca0097"/><circle cx="1028.5" cy="548.4" r="8.4" fill="#ff0052"/><circle cx="923.5" cy="2496.9" r="8.4" fill="#7e48ca"/><circle cx="871.3" cy="907.0" r="8.4" fill="#007af4"/><circle cx="961.8" cy="1784.6" r="8.4" fill="#9829b1"/><circle cx="886.5" cy="1784.0" r="8.4" fill="#3a68e7"/><circle cx="856.0" cy="1138.5" r="8.4" fill="#008bfb"/><circle cx="804.2" cy="544.7" r="8.4" fill="#0085f9"/><circle cx="946.4" cy="1763.7" r="8.4" fill="#8b3bbf"/><circle cx="932.8" cy="939.9" r="8.4" fill="#7a4bcd"/><circle cx="985.6" cy="1797.5" r="8.4" fill="#ae12a5"/><circle cx="966.4" cy="1763.0" r="8.4" fill="#9d22ac"/><circle cx="1004.0" cy="2534.0" r="8.4" fill="#dc0089"/><circle cx="990.8" cy="1165.0" r="8.4" fill="#c2009b"/><circle cx="1114.0" cy="2526.0" r="8.4" fill="#ff0053"/><circle cx="981.4" cy="915.1" r="8.4" fill="#9f20ab"/><circle cx="972.0" cy="1771.0" r="8.4" fill="#a51ba9"/><circle cx="900.0" cy="921.2" r="8.4" fill="#595ede"/><circle cx="933.8" cy="2489.9" r="8.4" fill="#8b3cc0"/><circle cx="957.7" cy="1039.3" r="8.4" fill="#8542c5"/><circle cx="878.5" cy="2552.3" r="8.4" fill="#007df5"/><circle cx="975.8" cy="901.8" r="8.4" fill="#9c23ad"/><circle cx="866.2" cy="890.0" r="8.4" fill="#007bf4"/><circle cx="867.2" cy="1760.2" r="8.4" fill="#007ff6"/><circle cx="1031.5" cy="558.6" r="8.4" fill="#ff0051"/><circle cx="983.7" cy="1039.0" r="8.4" fill="#a11fab"/><circle cx="997.1" cy="548.9" r="8.4" fill="#fb0064"/><circle cx="937.2" cy="1808.0" r="8.4" fill="#8443c6"/><circle cx="905.3" cy="2556.0" r="8.4" fill="#5f5bdc"/><circle cx="949.4" cy="2527.9" r="8.4" fill="#9b24ad"/><circle cx="846.1" cy="1784.1" r="8.4" fill="#0081f7"/><circle cx="980.2" cy="1158.6" r="8.4" fill="#b10ea4"/><circle cx="913.7" cy="1161.2" r="8.4" fill="#5d5cdd"/><circle cx="1018.8" cy="528.8" r="8.4" fill="#ff0054"/><circle cx="1035.9" cy="920.3" r="8.4" fill="#d20091"/><circle cx="1090.6" cy="914.3" r="8.4" fill="#fd005f"/><circle cx="900.0" cy="536.5" r="8.4" fill="#9035ba"/><circle cx="894.4" cy="2525.0" r="8.4" fill="#3c67e6"/><circle cx="1010.0" cy="1165.1" r="8.4" fill="#d20091"/><circle cx="875.3" cy="544.3" r="8.4" fill="#7f47ca"/><circle cx="920.1" cy="1161.4" r="8.4" fill="#6459da"/><circle cx="906.3" cy="918.5" r="8.4" fill="#5e5cdc"/><circle cx="974.3" cy="1158.6" r="8.4" fill="#a41caa"/><circle cx="962.0" cy="1803.3" r="8.4" fill="#9829b1"/><circle cx="791.8" cy="1782.3" r="8.4" fill="#0086f9"/><circle cx="914.5" cy="2537.1" r="8.4" fill="#7151d3"/><circle cx="923.5" cy="2541.0" r="8.4" fill="#8343c6"/><circle cx="898.6" cy="2511.4" r="8.4" fill="#5061e1"/><circle cx="1047.4" cy="1782.3" r="8.4" fill="#f00073"/><circle cx="893.2" cy="2515.6" r="8.4" fill="#276cea"/><circle cx="943.8" cy="2536.5" r="8.4" fill="#9332b7"/><circle cx="909.9" cy="908.8" r="8.4" fill="#6b55d6"/><circle cx="986.3" cy="898.5" r="8.4" fill="#af11a5"/><circle cx="1001.5" cy="550.7" r="8.4" fill="#fd005f"/><circle cx="1104.8" cy="1163.1" r="8.4" fill="#ff0053"/><circle cx="805.7" cy="915.0" r="8.4" fill="#0088fa"/><circle cx="1099.0" cy="2527.0" r="8.4" fill="#ff0054"/><circle cx="949.0" cy="2547.3" r="8.4" fill="#962cb3"/><circle cx="1007.2" cy="545.4" r="8.4" fill="#ff005b"/><circle cx="856.7" cy="1797.4" r="8.4" fill="#0080f7"/><circle cx="1024.9" cy="538.6" r="8.4" fill="#ff0052"/><circle cx="784.0" cy="2525.3" r="8.4" fill="#0087fa"/><circle cx="1101.6" cy="1778.0" r="8.4" fill="#ff0051"/><circle cx="961.3" cy="1161.8" r="8.4" fill="#9b24ae"/><circle cx="1001.5" cy="553.9" r="8.4" fill="#ff005a"/><circle cx="1092.6" cy="1163.6" r="8.4" fill="#ff0052"/><circle cx="959.2" cy="2509.6" r="8.4" fill="#a31daa"/><circle cx="1037.1" cy="905.9" r="8.4" fill="#d7008d"/><circle cx="850.3" cy="545.8" r="8.4" fill="#5360e0"/><circle cx="1025.7" cy="1039.5" r="8.4" fill="#d6008e"/><circle cx="981.7" cy="1771.9" r="8.4" fill="#b010a5"/><circle cx="1047.7" cy="1039.2" r="8.4" fill="#ec0079"/><circle cx="1007.3" cy="532.8" r="8.4" fill="#fe005c"/><circle cx="910.6" cy="918.1" r="8.4" fill="#6e53d5"/><circle cx="976.0" cy="935.3" r="8.4" fill="#9f20ab"/><circle cx="994.5" cy="2404.7" r="8.4" fill="#df0086"/><circle cx="952.0" cy="1771.4" r="8.4" fill="#8d39bd"/><circle cx="881.1" cy="1164.2" r="8.4" fill="#007ef6"/><circle cx="852.2" cy="1779.3" r="8.4" fill="#0082f8"/><circle cx="960.3" cy="902.1" r="8.4" fill="#9233b9"/><circle cx="940.0" cy="2377.1" r="8.4" fill="#ae13a6"/><circle cx="856.2" cy="909.3" r="8.4" fill="#0080f7"/><circle cx="951.0" cy="899.7" r="8.4" fill="#8a3cc0"/><circle cx="803.0" cy="2526.7" r="8.4" fill="#0089fa"/><circle cx="949.0" cy="2552.1" r="8.4" fill="#962cb3"/><circle cx="970.5" cy="898.5" r="8.4" fill="#9828b0"/><circle cx="990.4" cy="921.2" r="8.4" fill="#a819a8"/><circle cx="1101.7" cy="1039.4" r="8.4" fill="#ff0051"/><circle cx="938.4" cy="2489.7" r="8.4" fill="#8e38bc"/><circle cx="951.1" cy="1776.0" r="8.4" fill="#9036ba"/><circle cx="1036.3" cy="549.0" r="8.4" fill="#ff0051"/><circle cx="886.6" cy="1764.7" r="8.4" fill="#216ceb"/><circle cx="844.0" cy="2519.6" r="8.4" fill="#0084f9"/><circle cx="1072.6" cy="1163.7" r="8.4" fill="#ff0054"/><circle cx="940.2" cy="2388.9" r="8.4" fill="#aa17a7"/><circle cx="941.1" cy="1772.9" r="8.4" fill="#8542c5"/><circle cx="868.7" cy="2513.1" r="8.4" fill="#007cf5"/><circle cx="925.9" cy="945.3" r="8.4" fill="#7250d2"/><circle cx="845.6" cy="901.2" r="8.4" fill="#0082f8"/><circle cx="890.3" cy="1162.3" r="8.4" fill="#0075f1"/><circle cx="974.0" cy="2525.9" r="8.4" fill="#b901a0"/><circle cx="891.9" cy="544.2" r="8.4" fill="#893dc1"/><circle cx="948.8" cy="1164.3" r="8.4" fill="#8a3dc0"/><circle cx="1001.5" cy="1792.7" r="8.4" fill="#c3009b"/><circle cx="909.5" cy="2549.6" r="8.4" fill="#625adb"/><circle cx="990.4" cy="548.2" r="8.4" fill="#f6006b"/><circle cx="905.7" cy="905.0" r="8.4" fill="#5c5ddd"/><circle cx="848.9" cy="2399.1" r="8.4" fill="#4764e4"/><circle cx="1135.6" cy="1162.6" r="8.4" fill="#ff0052"/><circle cx="845.3" cy="896.5" r="8.4" fill="#0082f8"/><circle cx="839.1" cy="543.6" r="8.4" fill="#3a68e7"/><circle cx="964.2" cy="1159.2" r="8.4" fill="#9c22ac"/><circle cx="865.8" cy="895.0" r="8.4" fill="#0079f3"/><circle cx="915.7" cy="1038.5" r="8.4" fill="#226cea"/><circle cx="909.0" cy="2554.5" r="8.4" fill="#6956d7"/><circle cx="1077.5" cy="1782.7" r="8.4" fill="#fe005d"/><circle cx="932.3" cy="1791.0" r="8.4" fill="#7c49cc"/><circle cx="1014.3" cy="549.3" r="8.4" fill="#ff0057"/><circle cx="879.5" cy="2496.6" r="8.4" fill="#0079f3"/><circle cx="941.4" cy="939.2" r="8.4" fill="#8145c8"/><circle cx="1043.5" cy="2530.6" r="8.4" fill="#fc0061"/><circle cx="968.7" cy="2529.1" r="8.4" fill="#ae12a5"/><circle cx="924.9" cy="1156.6" r="8.4" fill="#6757d8"/><circle cx="1070.0" cy="1161.6" r="8.4" fill="#ff0055"/><circle cx="922.4" cy="1778.5" r="8.4" fill="#7350d2"/><circle cx="850.0" cy="895.3" r="8.4" fill="#007ff6"/><circle cx="945.2" cy="943.1" r="8.4" fill="#8542c5"/><circle cx="908.7" cy="2544.8" r="8.4" fill="#6857d8"/><circle cx="978.4" cy="2534.3" r="8.4" fill="#c4009b"/><circle cx="982.0" cy="1155.8" r="8.4" fill="#b10ea4"/><circle cx="1023.7" cy="1038.6" r="8.4" fill="#d30090"/><circle cx="1023.0" cy="2541.5" r="8.4" fill="#ec0079"/><circle cx="918.9" cy="1168.7" r="8.4" fill="#5c5cdd"/><circle cx="881.0" cy="929.0" r="8.4" fill="#0075f1"/><circle cx="1028.0" cy="1162.4" r="8.4" fill="#e6007f"/><circle cx="887.5" cy="2412.6" r="8.4" fill="#7b4bcd"/><circle cx="926.9" cy="1749.9" r="8.4" fill="#7b4acc"/><circle cx="1004.2" cy="2519.6" r="8.4" fill="#dc0089"/><circle cx="944.8" cy="543.7" r="8.4" fill="#cb0096"/><circle cx="1097.6" cy="1771.2" r="8.4" fill="#ff0051"/><circle cx="853.2" cy="545.5" r="8.4" fill="#5360e0"/><circle cx="929.7" cy="2503.4" r="8.4" fill="#8046c9"/><circle cx="906.0" cy="539.2" r="8.4" fill="#972ab2"/><circle cx="945.6" cy="541.1" r="8.4" fill="#cd0095"/><circle cx="914.5" cy="2518.6" r="8.4" fill="#7052d4"/><circle cx="996.9" cy="542.7" r="8.4" fill="#fb0062"/><circle cx="995.1" cy="2401.0" r="8.4" fill="#e00085"/><circle cx="1084.5" cy="1163.4" r="8.4" fill="#ff0053"/><circle cx="905.3" cy="914.0" r="8.4" fill="#5a5dde"/><circle cx="949.6" cy="2532.8" r="8.4" fill="#9430b6"/><circle cx="1004.5" cy="1159.1" r="8.4" fill="#ce0094"/><circle cx="936.6" cy="1775.4" r="8.4" fill="#8046c9"/><circle cx="959.0" cy="1160.2" r="8.4" fill="#9331b6"/><circle cx="1158.4" cy="1781.6" r="8.4" fill="#ff0052"/><circle cx="980.3" cy="901.9" r="8.4" fill="#9e21ac"/><circle cx="836.7" cy="1788.0" r="8.4" fill="#0087fa"/><circle cx="860.6" cy="2384.6" r="8.4" fill="#595ede"/><circle cx="1089.3" cy="2532.5" r="8.4" fill="#ff0051"/><circle cx="1041.7" cy="1038.7" r="8.4" fill="#e40081"/><circle cx="939.6" cy="2392.8" r="8.4" fill="#ae13a6"/><circle cx="951.8" cy="893.8" r="8.4" fill="#8a3dc0"/><circle cx="933.5" cy="2522.7" r="8.4" fill="#8d3abe"/><circle cx="886.9" cy="2386.7" r="8.4" fill="#7d49cb"/><circle cx="888.9" cy="2539.5" r="8.4" fill="#186eeb"/><circle cx="860.5" cy="907.4" r="8.4" fill="#007cf5"/><circle cx="902.1" cy="1164.1" r="8.4" fill="#3868e7"/><circle cx="911.7" cy="1781.3" r="8.4" fill="#6757d8"/><circle cx="1009.1" cy="1159.6" r="8.4" fill="#d30090"/><circle cx="934.3" cy="542.5" r="8.4" fill="#c2009b"/><circle cx="977.8" cy="894.4" r="8.4" fill="#a11eab"/><circle cx="886.3" cy="913.0" r="8.4" fill="#2a6bea"/><circle cx="934.7" cy="2499.3" r="8.4" fill="#8e38bd"/><circle cx="1175.4" cy="914.7" r="8.4" fill="#ff0051"/><circle cx="1027.4" cy="1159.9" r="8.4" fill="#e30082"/><circle cx="1012.5" cy="1771.6" r="8.4" fill="#cc0095"/><circle cx="1014.3" cy="539.1" r="8.4" fill="#ff005a"/><circle cx="944.0" cy="2493.5" r="8.4" fill="#9829b1"/><circle cx="825.9" cy="902.8" r="8.4" fill="#0085f9"/><circle cx="868.2" cy="1162.4" r="8.4" fill="#0084f9"/><circle cx="1071.5" cy="1781.5" r="8.4" fill="#fb0064"/><circle cx="1108.8" cy="1163.1" r="8.4" fill="#ff0052"/><circle cx="892.3" cy="542.4" r="8.4" fill="#893dc1"/><circle cx="856.9" cy="1780.1" r="8.4" fill="#0080f7"/><circle cx="981.2" cy="1791.7" r="8.4" fill="#ae12a5"/><circle cx="836.8" cy="539.3" r="8.4" fill="#2d6ae9"/><circle cx="1096.5" cy="1774.4" r="8.4" fill="#ff0058"/><circle cx="1025.0" cy="1165.0" r="8.4" fill="#e00085"/><circle cx="877.0" cy="1771.7" r="8.4" fill="#0073ef"/><circle cx="922.6" cy="541.2" r="8.4" fill="#ae13a6"/><circle cx="1043.4" cy="919.1" r="8.4" fill="#dc0089"/><circle cx="959.0" cy="540.3" r="8.4" fill="#db008a"/><circle cx="1124.3" cy="1162.7" r="8.4" fill="#ff0051"/><circle cx="906.4" cy="1764.1" r="8.4" fill="#5c5cdd"/><circle cx="1075.5" cy="912.1" r="8.4" fill="#f5006c"/><circle cx="1000.3" cy="922.5" r="8.4" fill="#b605a2"/><circle cx="996.2" cy="900.6" r="8.4" fill="#b506a2"/><circle cx="945.8" cy="914.2" r="8.4" fill="#8740c3"/><circle cx="916.8" cy="542.3" r="8.4" fill="#a51ca9"/><circle cx="866.6" cy="1767.4" r="8.4" fill="#0080f7"/><circle cx="974.4" cy="2549.9" r="8.4" fill="#b801a1"/><circle cx="938.0" cy="1158.7" r="8.4" fill="#7a4bcd"/><circle cx="890.6" cy="919.6" r="8.4" fill="#3968e7"/><circle cx="988.0" cy="2391.8" r="8.4" fill="#da008b"/><circle cx="924.3" cy="2536.1" r="8.4" fill="#8244c7"/><circle cx="935.3" cy="913.7" r="8.4" fill="#7f48ca"/><circle cx="946.1" cy="956.0" r="8.4" fill="#8343c6"/><circle cx="941.1" cy="1786.6" r="8.4" fill="#7f47ca"/><circle cx="933.8" cy="1158.8" r="8.4" fill="#7450d1"/><circle cx="832.2" cy="943.5" r="8.4" fill="#0082f8"/><circle cx="900.0" cy="923.7" r="8.4" fill="#585edf"/><circle cx="1022.0" cy="541.3" r="8.4" fill="#ff0051"/><circle cx="928.2" cy="2522.9" r="8.4" fill="#893ec1"/><circle cx="909.4" cy="2525.5" r="8.4" fill="#6956d7"/><circle cx="887.5" cy="2420.0" r="8.4" fill="#784dcf"/><circle cx="955.6" cy="1165.6" r="8.4" fill="#9331b7"/><circle cx="1012.8" cy="1159.6" r="8.4" fill="#d7008d"/><circle cx="1013.5" cy="2405.6" r="8.4" fill="#ed0077"/><circle cx="954.6" cy="2420.6" r="8.4" fill="#bd009e"/><circle cx="936.3" cy="1756.7" r="8.4" fill="#8344c7"/><circle cx="951.8" cy="1762.1" r="8.4" fill="#9430b6"/><circle cx="874.1" cy="2539.7" r="8.4" fill="#0080f7"/><circle cx="929.8" cy="2493.6" r="8.4" fill="#8343c6"/><circle cx="940.2" cy="2424.1" r="8.4" fill="#ac15a6"/><circle cx="950.4" cy="933.6" r="8.4" fill="#8a3dc1"/><circle cx="915.6" cy="1816.2" r="8.4" fill="#6f52d4"/><circle cx="941.2" cy="1791.2" r="8.4" fill="#8a3dc0"/><circle cx="1050.9" cy="1161.1" r="8.4" fill="#f80068"/><circle cx="980.5" cy="928.3" r="8.4" fill="#9d21ac"/><circle cx="928.8" cy="2518.0" r="8.4" fill="#8343c6"/><circle cx="1147.6" cy="1162.6" r="8.4" fill="#ff0051"/><circle cx="991.2" cy="1776.8" r="8.4" fill="#b506a2"/><circle cx="1028.5" cy="551.7" r="8.4" fill="#ff0053"/><circle cx="883.7" cy="2521.1" r="8.4" fill="#007df5"/><circle cx="794.0" cy="2526.7" r="8.4" fill="#0086f9"/><circle cx="859.4" cy="2506.6" r="8.4" fill="#0087fa"/><circle cx="858.1" cy="540.8" r="8.4" fill="#6757d9"/><circle cx="952.1" cy="1757.5" r="8.4" fill="#952eb4"/><circle cx="1029.6" cy="538.3" r="8.4" fill="#ff0051"/><circle cx="899.4" cy="2525.4" r="8.4" fill="#5261e1"/><circle cx="863.5" cy="2501.6" r="8.4" fill="#0082f8"/><circle cx="904.1" cy="1164.5" r="8.4" fill="#4465e5"/><circle cx="928.3" cy="2513.1" r="8.4" fill="#8740c3"/><circle cx="825.6" cy="540.3" r="8.4" fill="#0076f1"/><circle cx="898.3" cy="2534.8" r="8.4" fill="#5161e1"/><circle cx="995.0" cy="2412.0" r="8.4" fill="#e30082"/><circle cx="855.8" cy="932.8" r="8.4" fill="#007ef6"/><circle cx="1105.4" cy="1162.7" r="8.4" fill="#ff0052"/><circle cx="939.6" cy="2369.3" r="8.4" fill="#af11a5"/><circle cx="1141.8" cy="1781.1" r="8.4" fill="#ff0051"/><circle cx="944.4" cy="1156.7" r="8.4" fill="#8343c6"/><circle cx="982.9" cy="2511.8" r="8.4" fill="#c5009a"/><circle cx="963.8" cy="2378.2" r="8.4" fill="#c2009b"/><circle cx="586.5" cy="295.0" r="8.4" fill="#008bfb"/><circle cx="887.3" cy="1159.7" r="8.4" fill="#0078f3"/><circle cx="947.6" cy="539.3" r="8.4" fill="#ce0094"/><circle cx="936.6" cy="1766.0" r="8.4" fill="#8245c7"/><circle cx="882.0" cy="1785.4" r="8.4" fill="#006fed"/><circle cx="995.1" cy="928.2" r="8.4" fill="#b010a5"/><circle cx="1066.8" cy="1781.3" r="8.4" fill="#f7006a"/><circle cx="825.5" cy="925.7" r="8.4" fill="#0088fa"/><circle cx="866.0" cy="919.8" r="8.4" fill="#007bf4"/><circle cx="963.4" cy="2405.5" r="8.4" fill="#c50099"/><circle cx="1080.3" cy="1784.4" r="8.4" fill="#fe005e"/><circle cx="924.1" cy="2491.9" r="8.4" fill="#8046c9"/><circle cx="959.5" cy="2504.7" r="8.4" fill="#a21eaa"/><circle cx="936.0" cy="1158.7" r="8.4" fill="#754fd1"/><circle cx="939.8" cy="2416.2" r="8.4" fill="#ae12a5"/><circle cx="1010.7" cy="933.0" r="8.4" fill="#c2009b"/><circle cx="954.2" cy="2498.3" r="8.4" fill="#9c23ad"/><circle cx="501.5" cy="295.0" r="8.4" fill="#008bfb"/><circle cx="963.4" cy="1159.1" r="8.4" fill="#9928b0"/><circle cx="953.9" cy="2408.7" r="8.4" fill="#bb009f"/><circle cx="932.5" cy="1767.1" r="8.4" fill="#764ed0"/><circle cx="939.7" cy="2381.0" r="8.4" fill="#ad14a6"/><circle cx="932.6" cy="1762.4" r="8.4" fill="#8145c8"/><circle cx="994.5" cy="2408.3" r="8.4" fill="#de0087"/><circle cx="948.3" cy="2537.6" r="8.4" fill="#972bb2"/><circle cx="974.1" cy="2521.1" r="8.4" fill="#b900a0"/><circle cx="935.3" cy="888.8" r="8.4" fill="#7d49cb"/><circle cx="999.7" cy="892.6" r="8.4" fill="#b802a1"/><circle cx="963.3" cy="2515.3" r="8.4" fill="#a819a8"/><circle cx="938.3" cy="2541.4" r="8.4" fill="#8f37bc"/><circle cx="888.1" cy="2408.9" r="8.4" fill="#8046c9"/><circle cx="1022.4" cy="1787.4" r="8.4" fill="#dc0089"/><circle cx="1065.5" cy="2400.3" r="8.4" fill="#ff0052"/><circle cx="1068.3" cy="2524.4" r="8.4" fill="#ff005a"/><circle cx="923.0" cy="2409.9" r="8.4" fill="#9f20ab"/><circle cx="845.4" cy="884.6" r="8.4" fill="#0083f8"/><circle cx="1034.5" cy="2524.5" r="8.4" fill="#f6006c"/><circle cx="866.6" cy="1762.8" r="8.4" fill="#0080f7"/><circle cx="1041.6" cy="1789.6" r="8.4" fill="#ea007b"/><circle cx="1028.7" cy="2516.7" r="8.4" fill="#f3006f"/><circle cx="967.6" cy="1158.1" r="8.4" fill="#a21eaa"/><circle cx="954.3" cy="2392.9" r="8.4" fill="#be009e"/><circle cx="893.6" cy="2553.5" r="8.4" fill="#316ae9"/><circle cx="1029.7" cy="1038.6" r="8.4" fill="#dc0089"/><circle cx="973.8" cy="1169.4" r="8.4" fill="#ac15a6"/><circle cx="1017.6" cy="1787.4" r="8.4" fill="#d8008c"/><circle cx="865.6" cy="1162.9" r="8.4" fill="#0088fa"/><circle cx="931.1" cy="2390.8" r="8.4" fill="#9f20ab"/><circle cx="936.0" cy="1166.5" r="8.4" fill="#7b4bcd"/><circle cx="864.7" cy="545.4" r="8.4" fill="#6757d8"/><circle cx="884.1" cy="2516.2" r="8.4" fill="#0076f1"/><circle cx="809.0" cy="2526.9" r="8.4" fill="#0089fa"/><circle cx="890.1" cy="2556.0" r="8.4" fill="#2a6be9"/><circle cx="1025.2" cy="908.8" r="8.4" fill="#cd0095"/><circle cx="964.2" cy="2538.9" r="8.4" fill="#ad13a6"/><circle cx="947.0" cy="2432.0" r="8.4" fill="#b703a1"/><circle cx="954.1" cy="2373.1" r="8.4" fill="#be009e"/><circle cx="902.0" cy="1780.8" r="8.4" fill="#5b5dde"/><circle cx="925.3" cy="892.2" r="8.4" fill="#7251d2"/><circle cx="857.6" cy="1775.8" r="8.4" fill="#0083f8"/><circle cx="1042.4" cy="1785.8" r="8.4" fill="#ec0078"/><circle cx="878.8" cy="2424.6" r="8.4" fill="#6e53d5"/><circle cx="897.5" cy="1771.3" r="8.4" fill="#5460e0"/><circle cx="1006.1" cy="901.2" r="8.4" fill="#c0009c"/><circle cx="893.4" cy="2520.3" r="8.4" fill="#3868e7"/><circle cx="1014.1" cy="2525.4" r="8.4" fill="#e40081"/><circle cx="870.6" cy="897.7" r="8.4" fill="#0075f1"/><circle cx="924.2" cy="2516.5" r="8.4" fill="#7e48cb"/><circle cx="990.5" cy="897.2" r="8.4" fill="#ad14a6"/><circle cx="893.6" cy="2529.8" r="8.4" fill="#4066e6"/><circle cx="1003.7" cy="539.3" r="8.4" fill="#fe005d"/><circle cx="869.5" cy="2412.9" r="8.4" fill="#6a55d7"/><circle cx="854.2" cy="2538.8" r="8.4" fill="#0085f9"/><circle cx="921.3" cy="1769.1" r="8.4" fill="#7450d2"/><circle cx="1065.9" cy="1163.7" r="8.4" fill="#ff0059"/><circle cx="1136.8" cy="1781.4" r="8.4" fill="#ff0051"/><circle cx="1114.2" cy="1163.6" r="8.4" fill="#ff0051"/><circle cx="1086.8" cy="1781.6" r="8.4" fill="#ff0058"/><circle cx="952.3" cy="1799.2" r="8.4" fill="#8c3abe"/><circle cx="860.1" cy="2392.6" r="8.4" fill="#555fe0"/><circle cx="914.6" cy="2523.2" r="8.4" fill="#7151d3"/><circle cx="1021.6" cy="547.9" r="8.4" fill="#ff0052"/><circle cx="909.8" cy="2535.1" r="8.4" fill="#605bdc"/><circle cx="918.3" cy="2533.8" r="8.4" fill="#754fd1"/><circle cx="831.7" cy="1772.8" r="8.4" fill="#0086f9"/><circle cx="1069.7" cy="1038.8" r="8.4" fill="#fd005e"/><circle cx="919.7" cy="1038.7" r="8.4" fill="#3a68e7"/><circle cx="835.7" cy="927.3" r="8.4" fill="#0085f9"/><circle cx="897.2" cy="1762.1" r="8.4" fill="#4665e4"/><circle cx="825.1" cy="930.2" r="8.4" fill="#0087fa"/><circle cx="877.2" cy="1796.1" r="8.4" fill="#0074f0"/><circle cx="860.1" cy="2412.6" r="8.4" fill="#595ede"/><circle cx="840.0" cy="541.2" r="8.4" fill="#3868e7"/><circle cx="878.3" cy="1803.7" r="8.4" fill="#0078f3"/><circle cx="843.9" cy="542.5" r="8.4" fill="#4166e5"/><circle cx="925.7" cy="901.8" r="8.4" fill="#764ed0"/><circle cx="871.1" cy="544.0" r="8.4" fill="#7151d3"/><circle cx="989.7" cy="1038.6" r="8.4" fill="#a61ba9"/><circle cx="953.5" cy="2517.2" r="8.4" fill="#9b24ae"/><circle cx="931.1" cy="891.1" r="8.4" fill="#774dcf"/><circle cx="1101.7" cy="1785.3" r="8.4" fill="#ff0054"/><circle cx="903.2" cy="542.8" r="8.4" fill="#9134b9"/><circle cx="1131.4" cy="1781.6" r="8.4" fill="#ff0051"/><circle cx="939.3" cy="2385.0" r="8.4" fill="#a918a8"/><circle cx="879.0" cy="2428.6" r="8.4" fill="#754fd1"/><circle cx="1014.8" cy="542.5" r="8.4" fill="#ff0056"/><circle cx="937.1" cy="1780.0" r="8.4" fill="#8c3bbf"/><circle cx="918.6" cy="2495.5" r="8.4" fill="#754fd1"/><circle cx="959.7" cy="2558.8" r="8.4" fill="#a71aa8"/><circle cx="1007.1" cy="548.4" r="8.4" fill="#fd005e"/><circle cx="968.2" cy="1162.7" r="8.4" fill="#a51ca9"/><circle cx="822.8" cy="546.5" r="8.4" fill="#0077f2"/><circle cx="1001.2" cy="541.1" r="8.4" fill="#fc0061"/><circle cx="899.2" cy="542.7" r="8.4" fill="#9332b7"/><circle cx="1088.2" cy="1163.3" r="8.4" fill="#ff0051"/><circle cx="811.3" cy="915.2" r="8.4" fill="#0086f9"/><circle cx="1013.7" cy="1038.9" r="8.4" fill="#c5009a"/><circle cx="932.4" cy="1810.1" r="8.4" fill="#8146c8"/><circle cx="992.3" cy="1790.4" r="8.4" fill="#b30ba3"/><circle cx="1044.3" cy="2518.2" r="8.4" fill="#fc0060"/><circle cx="961.1" cy="1766.0" r="8.4" fill="#972ab2"/><circle cx="884.5" cy="2494.1" r="8.4" fill="#0076f1"/><circle cx="938.3" cy="2492.3" r="8.4" fill="#9035ba"/><circle cx="869.0" cy="2503.8" r="8.4" fill="#0081f8"/><circle cx="826.0" cy="545.3" r="8.4" fill="#0075f1"/><circle cx="908.7" cy="2506.2" r="8.4" fill="#6757d8"/><circle cx="1085.9" cy="915.8" r="8.4" fill="#fa0065"/><circle cx="887.8" cy="2390.4" r="8.4" fill="#7d49cc"/><circle cx="925.3" cy="897.0" r="8.4" fill="#6f53d4"/><circle cx="872.4" cy="1765.2" r="8.4" fill="#007bf4"/><circle cx="915.0" cy="936.2" r="8.4" fill="#6657d9"/><circle cx="930.6" cy="919.6" r="8.4" fill="#7c49cc"/><circle cx="1106.6" cy="1784.4" r="8.4" fill="#ff0051"/><circle cx="970.6" cy="912.4" r="8.4" fill="#9927b0"/><circle cx="980.9" cy="906.3" r="8.4" fill="#a41daa"/><circle cx="899.8" cy="2520.8" r="8.4" fill="#5161e1"/><circle cx="878.5" cy="539.1" r="8.4" fill="#7f47ca"/><circle cx="920.9" cy="916.3" r="8.4" fill="#7251d3"/><circle cx="1105.2" cy="1778.8" r="8.4" fill="#ff0051"/><circle cx="1019.0" cy="551.8" r="8.4" fill="#ff0055"/><circle cx="1013.9" cy="2401.6" r="8.4" fill="#ef0076"/><circle cx="879.5" cy="2408.6" r="8.4" fill="#6d54d5"/><circle cx="998.4" cy="2533.7" r="8.4" fill="#d7008d"/><circle cx="1087.9" cy="2523.5" r="8.4" fill="#ff0051"/><circle cx="963.9" cy="2534.2" r="8.4" fill="#ab16a7"/><circle cx="946.2" cy="1786.4" r="8.4" fill="#893dc1"/><circle cx="921.8" cy="1750.3" r="8.4" fill="#7250d2"/><circle cx="955.1" cy="1160.5" r="8.4" fill="#9430b6"/><circle cx="830.1" cy="899.6" r="8.4" fill="#0085f9"/><circle cx="952.2" cy="540.3" r="8.4" fill="#d5008e"/><circle cx="954.2" cy="2531.4" r="8.4" fill="#9b24ae"/><circle cx="923.5" cy="2555.7" r="8.4" fill="#7d49cb"/><circle cx="868.9" cy="2541.2" r="8.4" fill="#0080f7"/><circle cx="1007.2" cy="1165.1" r="8.4" fill="#d10092"/><circle cx="1087.3" cy="1162.4" r="8.4" fill="#ff0052"/><circle cx="826.2" cy="907.3" r="8.4" fill="#0089fa"/><circle cx="947.6" cy="545.4" r="8.4" fill="#ce0094"/><circle cx="954.1" cy="935.3" r="8.4" fill="#9134b9"/><circle cx="1056.7" cy="908.8" r="8.4" fill="#e9007c"/><circle cx="966.9" cy="1767.9" r="8.4" fill="#9f20ab"/><circle cx="1028.9" cy="2525.6" r="8.4" fill="#f30070"/><circle cx="986.7" cy="1781.4" r="8.4" fill="#ac14a6"/><circle cx="1015.3" cy="531.2" r="8.4" fill="#ff0055"/><circle cx="849.4" cy="2521.0" r="8.4" fill="#0086fa"/><circle cx="946.3" cy="1777.3" r="8.4" fill="#8740c3"/><circle cx="878.9" cy="2404.6" r="8.4" fill="#6b55d7"/><circle cx="896.1" cy="2414.0" r="8.4" fill="#883fc2"/><circle cx="976.7" cy="1158.1" r="8.4" fill="#b00fa5"/><circle cx="1006.9" cy="1778.1" r="8.4" fill="#d00092"/><circle cx="1013.6" cy="2530.3" r="8.4" fill="#e40082"/><circle cx="854.0" cy="542.4" r="8.4" fill="#5d5cdd"/><circle cx="909.8" cy="542.2" r="8.4" fill="#9b24ad"/><circle cx="986.1" cy="1767.8" r="8.4" fill="#ad14a6"/><circle cx="952.3" cy="1789.9" r="8.4" fill="#9035ba"/><circle cx="899.2" cy="548.9" r="8.4" fill="#9036ba"/><circle cx="879.8" cy="2524.4" r="8.4" fill="#007bf4"/><circle cx="795.3" cy="1778.8" r="8.4" fill="#008afb"/><circle cx="753.2" cy="914.5" r="8.4" fill="#008bfb"/><circle cx="899.0" cy="2497.4" r="8.4" fill="#5d5cdd"/><circle cx="1007.6" cy="2405.2" r="8.4" fill="#ea007b"/><circle cx="906.1" cy="1806.5" r="8.4" fill="#605bdb"/><circle cx="1027.5" cy="1783.0" r="8.4" fill="#e40081"/><circle cx="896.3" cy="917.9" r="8.4" fill="#4f62e2"/><circle cx="804.6" cy="541.7" r="8.4" fill="#0082f8"/><circle cx="1111.7" cy="1039.5" r="8.4" fill="#ff0051"/><circle cx="889.5" cy="541.2" r="8.4" fill="#8c3bbf"/><circle cx="1011.4" cy="891.5" r="8.4" fill="#c4009b"/><circle cx="829.0" cy="2529.0" r="8.4" fill="#0088fa"/><circle cx="865.8" cy="929.8" r="8.4" fill="#0076f2"/><circle cx="953.7" cy="1039.4" r="8.4" fill="#8443c6"/><circle cx="969.7" cy="2501.2" r="8.4" fill="#b10da4"/><circle cx="840.3" cy="933.3" r="8.4" fill="#0087fa"/><circle cx="882.1" cy="538.9" r="8.4" fill="#893dc1"/><circle cx="1033.0" cy="543.0" r="8.4" fill="#ff0051"/><circle cx="1002.2" cy="2506.0" r="8.4" fill="#da008b"/><circle cx="1137.0" cy="914.7" r="8.4" fill="#ff0051"/><circle cx="1032.2" cy="546.2" r="8.4" fill="#ff0051"/><circle cx="878.5" cy="2388.6" r="8.4" fill="#6f52d4"/><circle cx="899.0" cy="1803.7" r="8.4" fill="#4d62e2"/><circle cx="955.8" cy="540.3" r="8.4" fill="#d7008d"/><circle cx="840.1" cy="919.5" r="8.4" fill="#0084f9"/><circle cx="1052.3" cy="1785.2" r="8.4" fill="#f5006e"/><circle cx="829.9" cy="931.6" r="8.4" fill="#0087fa"/><circle cx="892.7" cy="540.6" r="8.4" fill="#8d39bd"/><circle cx="1004.1" cy="2538.8" r="8.4" fill="#dc0089"/><circle cx="964.0" cy="2529.5" r="8.4" fill="#b00fa5"/><circle cx="969.0" cy="2547.7" r="8.4" fill="#b408a3"/><circle cx="971.2" cy="2402.6" r="8.4" fill="#cb0096"/><circle cx="1020.6" cy="905.5" r="8.4" fill="#c90097"/><circle cx="926.4" cy="1764.2" r="8.4" fill="#774ed0"/><circle cx="929.7" cy="2561.9" r="8.4" fill="#893ec1"/><circle cx="939.8" cy="2439.7" r="8.4" fill="#ab15a7"/><circle cx="964.3" cy="2397.7" r="8.4" fill="#c2009c"/><circle cx="835.3" cy="908.3" r="8.4" fill="#0082f8"/><circle cx="939.8" cy="2365.4" r="8.4" fill="#ac15a7"/><circle cx="1094.8" cy="2524.0" r="8.4" fill="#ff0051"/><circle cx="1156.6" cy="1162.6" r="8.4" fill="#ff0052"/><circle cx="967.7" cy="1038.8" r="8.4" fill="#8a3cc0"/><circle cx="967.6" cy="1167.4" r="8.4" fill="#9f20ac"/><circle cx="922.8" cy="1158.6" r="8.4" fill="#6c54d6"/><circle cx="979.5" cy="2515.7" r="8.4" fill="#bd009e"/><circle cx="902.5" cy="1776.3" r="8.4" fill="#4f62e2"/><circle cx="866.2" cy="1785.6" r="8.4" fill="#007ff7"/><circle cx="1048.8" cy="2528.8" r="8.4" fill="#ff005b"/><circle cx="907.6" cy="2398.9" r="8.4" fill="#8b3bbf"/><circle cx="845.7" cy="934.3" r="8.4" fill="#0080f7"/><circle cx="858.9" cy="2511.1" r="8.4" fill="#0087fa"/><circle cx="949.3" cy="2542.5" r="8.4" fill="#9b24ad"/><circle cx="871.8" cy="1785.1" r="8.4" fill="#007cf5"/><circle cx="1030.6" cy="2399.3" r="8.4" fill="#f90066"/><circle cx="895.7" cy="546.5" r="8.4" fill="#8d39bd"/><circle cx="836.9" cy="1783.2" r="8.4" fill="#0081f7"/><circle cx="875.1" cy="540.1" r="8.4" fill="#8046c9"/><circle cx="822.2" cy="538.9" r="8.4" fill="#0078f2"/><circle cx="846.7" cy="1788.6" r="8.4" fill="#0083f8"/><circle cx="1049.7" cy="1039.3" r="8.4" fill="#f00074"/><circle cx="973.3" cy="1161.3" r="8.4" fill="#a61aa9"/><circle cx="890.0" cy="915.6" r="8.4" fill="#3e67e6"/><circle cx="806.3" cy="1782.7" r="8.4" fill="#0087fa"/><circle cx="964.9" cy="897.5" r="8.4" fill="#962cb3"/><circle cx="849.5" cy="2395.5" r="8.4" fill="#4465e5"/><circle cx="920.3" cy="930.9" r="8.4" fill="#6a55d7"/><circle cx="857.1" cy="1793.1" r="8.4" fill="#0083f8"/><circle cx="930.8" cy="929.1" r="8.4" fill="#744fd1"/><circle cx="928.9" cy="942.2" r="8.4" fill="#784dcf"/><circle cx="1095.0" cy="2399.0" r="8.4" fill="#ff0051"/><circle cx="913.8" cy="2500.0" r="8.4" fill="#7251d2"/><circle cx="1036.6" cy="536.0" r="8.4" fill="#ff0053"/><circle cx="1267.0" cy="295.0" r="8.4" fill="#ff0051"/><circle cx="1023.1" cy="1165.6" r="8.4" fill="#e00085"/><circle cx="836.5" cy="1778.3" r="8.4" fill="#0084f8"/><circle cx="904.4" cy="2534.2" r="8.4" fill="#5c5ddd"/><circle cx="1011.9" cy="536.2" r="8.4" fill="#ff0057"/><circle cx="1888.9" cy="1162.7" r="8.4" fill="#ff0051"/><circle cx="1039.3" cy="2535.4" r="8.4" fill="#fc0060"/><circle cx="791.8" cy="1782.7" r="8.4" fill="#0087fa"/><circle cx="969.5" cy="1813.4" r="8.4" fill="#a41caa"/><circle cx="901.6" cy="1803.1" r="8.4" fill="#4f62e2"/><circle cx="904.1" cy="2505.1" r="8.4" fill="#5d5cdd"/><circle cx="886.5" cy="1759.9" r="8.4" fill="#286bea"/><circle cx="1009.3" cy="2514.0" r="8.4" fill="#e50081"/><circle cx="938.5" cy="2507.0" r="8.4" fill="#9135ba"/><circle cx="849.6" cy="2402.7" r="8.4" fill="#4565e4"/><circle cx="1028.3" cy="531.7" r="8.4" fill="#ff0051"/><circle cx="950.7" cy="945.6" r="8.4" fill="#883fc3"/><circle cx="987.0" cy="935.3" r="8.4" fill="#ac15a7"/><circle cx="1005.7" cy="1038.6" r="8.4" fill="#b901a0"/><circle cx="838.7" cy="2527.3" r="8.4" fill="#0086f9"/><circle cx="1030.0" cy="913.2" r="8.4" fill="#d10092"/><circle cx="914.0" cy="1166.7" r="8.4" fill="#595ede"/><circle cx="1096.2" cy="2520.8" r="8.4" fill="#ff0053"/><circle cx="896.2" cy="1803.8" r="8.4" fill="#4f62e2"/><circle cx="907.1" cy="546.5" r="8.4" fill="#9b24ad"/><circle cx="1131.8" cy="1782.2" r="8.4" fill="#ff0051"/><circle cx="886.8" cy="1769.6" r="8.4" fill="#306ae9"/><circle cx="864.6" cy="2521.5" r="8.4" fill="#0081f7"/><circle cx="929.9" cy="938.7" r="8.4" fill="#784cce"/><circle cx="953.3" cy="2526.6" r="8.4" fill="#9d22ac"/><circle cx="995.7" cy="1038.6" r="8.4" fill="#aa16a7"/><circle cx="1006.0" cy="938.1" r="8.4" fill="#b900a0"/><circle cx="1066.0" cy="2407.0" r="8.4" fill="#ff0051"/><circle cx="812.2" cy="1783.7" r="8.4" fill="#0083f8"/><circle cx="1117.7" cy="1039.2" r="8.4" fill="#ff0054"/><circle cx="827.8" cy="1788.5" r="8.4" fill="#0083f8"/><circle cx="990.2" cy="551.2" r="8.4" fill="#f90066"/><circle cx="849.4" cy="2535.9" r="8.4" fill="#0086f9"/><circle cx="932.1" cy="1163.8" r="8.4" fill="#754fd1"/><circle cx="954.7" cy="2536.1" r="8.4" fill="#9a25ae"/><circle cx="954.1" cy="2432.5" r="8.4" fill="#c2009c"/><circle cx="978.9" cy="1161.4" r="8.4" fill="#ab15a7"/><circle cx="967.3" cy="1777.6" r="8.4" fill="#9e21ac"/><circle cx="873.6" cy="885.1" r="8.4" fill="#0076f2"/><circle cx="827.8" cy="1778.8" r="8.4" fill="#0085f9"/><circle cx="1058.1" cy="1163.8" r="8.4" fill="#fd005f"/><circle cx="1056.2" cy="1781.3" r="8.4" fill="#f5006d"/><circle cx="999.7" cy="1038.6" r="8.4" fill="#ab15a7"/><circle cx="998.4" cy="2519.4" r="8.4" fill="#d7008d"/><circle cx="899.4" cy="2502.0" r="8.4" fill="#565fdf"/><circle cx="875.1" cy="1163.1" r="8.4" fill="#0080f7"/><circle cx="931.3" cy="1781.5" r="8.4" fill="#744fd1"/><circle cx="1136.1" cy="1039.0" r="8.4" fill="#ff0051"/><circle cx="963.3" cy="2386.0" r="8.4" fill="#c2009b"/><circle cx="951.3" cy="938.4" r="8.4" fill="#8542c5"/><circle cx="940.3" cy="2404.5" r="8.4" fill="#ac15a7"/><circle cx="946.0" cy="1762.2" r="8.4" fill="#8d39bd"/><circle cx="933.4" cy="2513.3" r="8.4" fill="#8641c4"/><circle cx="980.6" cy="547.1" r="8.4" fill="#f00074"/><circle cx="992.6" cy="1781.3" r="8.4" fill="#ba00a0"/><circle cx="920.2" cy="921.1" r="8.4" fill="#6956d7"/><circle cx="962.6" cy="1798.6" r="8.4" fill="#9e21ac"/><circle cx="851.4" cy="929.8" r="8.4" fill="#0080f7"/><circle cx="1032.2" cy="533.4" r="8.4" fill="#ff0051"/><circle cx="1084.4" cy="2527.4" r="8.4" fill="#ff0051"/><circle cx="973.8" cy="1762.2" r="8.4" fill="#a61ba9"/><circle cx="1015.1" cy="925.2" r="8.4" fill="#c4009a"/><circle cx="1020.9" cy="2511.5" r="8.4" fill="#ed0078"/><circle cx="972.2" cy="538.8" r="8.4" fill="#e9007d"/><circle cx="795.6" cy="912.8" r="8.4" fill="#0087fa"/><circle cx="1099.7" cy="1038.8" r="8.4" fill="#ff0051"/><circle cx="838.5" cy="944.5" r="8.4" fill="#0085f9"/><circle cx="867.1" cy="1771.9" r="8.4" fill="#007ff6"/><circle cx="880.1" cy="890.3" r="8.4" fill="#0071ee"/><circle cx="795.6" cy="914.8" r="8.4" fill="#0086fa"/><circle cx="922.9" cy="2413.6" r="8.4" fill="#9926af"/><circle cx="1008.6" cy="533.7" r="8.4" fill="#fd005e"/><circle cx="926.5" cy="1797.4" r="8.4" fill="#764ed0"/><circle cx="949.8" cy="2508.6" r="8.4" fill="#9430b6"/><circle cx="916.1" cy="1780.8" r="8.4" fill="#6f52d4"/><circle cx="1102.7" cy="1162.7" r="8.4" fill="#ff0053"/><circle cx="1066.0" cy="911.3" r="8.4" fill="#ed0077"/><circle cx="883.3" cy="2540.7" r="8.4" fill="#0078f3"/><circle cx="899.1" cy="2553.5" r="8.4" fill="#4864e4"/><circle cx="944.3" cy="2531.8" r="8.4" fill="#9232b8"/><circle cx="971.0" cy="1165.5" r="8.4" fill="#a31daa"/><circle cx="990.4" cy="539.5" r="8.4" fill="#f5006c"/><circle cx="927.2" cy="1806.9" r="8.4" fill="#7151d3"/><circle cx="870.8" cy="925.4" r="8.4" fill="#0076f1"/><circle cx="991.4" cy="916.4" r="8.4" fill="#ab16a7"/><circle cx="947.6" cy="2374.8" r="8.4" fill="#b40aa3"/><circle cx="1063.6" cy="908.8" r="8.4" fill="#ed0078"/><circle cx="1075.1" cy="1161.6" r="8.4" fill="#ff0053"/><circle cx="1116.8" cy="1781.5" r="8.4" fill="#ff0053"/><circle cx="882.6" cy="1795.1" r="8.4" fill="#0072ef"/><circle cx="972.1" cy="1804.2" r="8.4" fill="#9f20ab"/><circle cx="840.1" cy="914.9" r="8.4" fill="#0085f9"/><circle cx="796.5" cy="920.5" r="8.4" fill="#0087fa"/><circle cx="976.5" cy="1794.9" r="8.4" fill="#a71aa8"/><circle cx="884.3" cy="2511.3" r="8.4" fill="#0077f2"/><circle cx="849.2" cy="1760.9" r="8.4" fill="#0085f9"/><circle cx="881.3" cy="1160.7" r="8.4" fill="#007ff7"/><circle cx="943.9" cy="2546.1" r="8.4" fill="#9332b7"/><circle cx="917.9" cy="873.0" r="8.4" fill="#6857d8"/><circle cx="833.4" cy="542.7" r="8.4" fill="#156eec"/><circle cx="915.9" cy="926.4" r="8.4" fill="#6b55d6"/><circle cx="1127.0" cy="916.4" r="8.4" fill="#ff0051"/><circle cx="1040.2" cy="1160.6" r="8.4" fill="#ee0076"/><circle cx="865.2" cy="934.7" r="8.4" fill="#007af4"/><circle cx="879.2" cy="2529.1" r="8.4" fill="#007cf5"/><circle cx="1018.9" cy="555.1" r="8.4" fill="#ff0054"/><circle cx="959.7" cy="1038.9" r="8.4" fill="#883ec2"/><circle cx="852.5" cy="1764.7" r="8.4" fill="#0081f7"/><circle cx="861.9" cy="1770.1" r="8.4" fill="#0084f9"/><circle cx="1045.3" cy="1160.9" r="8.4" fill="#f3006f"/><circle cx="897.6" cy="1776.0" r="8.4" fill="#5a5dde"/><circle cx="894.3" cy="2496.6" r="8.4" fill="#4764e4"/><circle cx="873.9" cy="2530.3" r="8.4" fill="#007df6"/><circle cx="997.4" cy="1788.5" r="8.4" fill="#c0009d"/><circle cx="947.0" cy="2371.0" r="8.4" fill="#ad13a6"/><circle cx="934.3" cy="2494.6" r="8.4" fill="#8f37bc"/><circle cx="906.6" cy="2391.4" r="8.4" fill="#8a3cc0"/><circle cx="855.0" cy="914.0" r="8.4" fill="#007ff6"/><circle cx="996.0" cy="914.4" r="8.4" fill="#b507a2"/><circle cx="904.3" cy="2548.7" r="8.4" fill="#5c5cdd"/><circle cx="821.8" cy="1784.5" r="8.4" fill="#0085f9"/><circle cx="945.9" cy="899.8" r="8.4" fill="#8542c5"/><circle cx="953.8" cy="2562.2" r="8.4" fill="#972ab2"/><circle cx="871.7" cy="1163.0" r="8.4" fill="#0086f9"/><circle cx="1036.0" cy="542.4" r="8.4" fill="#ff0052"/><circle cx="794.0" cy="2523.9" r="8.4" fill="#0086f9"/><circle cx="920.3" cy="1169.5" r="8.4" fill="#615adb"/><circle cx="982.3" cy="1786.8" r="8.4" fill="#ac14a6"/><circle cx="926.6" cy="1787.9" r="8.4" fill="#7b4acd"/><circle cx="989.0" cy="1765.7" r="8.4" fill="#bb009f"/><circle cx="854.8" cy="2525.1" r="8.4" fill="#008bfb"/><circle cx="876.7" cy="1781.4" r="8.4" fill="#0079f3"/><circle cx="954.6" cy="2381.0" r="8.4" fill="#ba00a0"/><circle cx="1029.6" cy="2534.5" r="8.4" fill="#f7006a"/><circle cx="893.7" cy="2501.3" r="8.4" fill="#316ae8"/><circle cx="956.4" cy="1808.7" r="8.4" fill="#962cb3"/><circle cx="927.5" cy="1778.4" r="8.4" fill="#7b4acd"/><circle cx="822.9" cy="932.4" r="8.4" fill="#0086f9"/><circle cx="974.3" cy="1166.7" r="8.4" fill="#a71aa8"/><circle cx="877.4" cy="1163.6" r="8.4" fill="#0082f8"/><circle cx="1007.8" cy="539.6" r="8.4" fill="#ff005b"/><circle cx="861.1" cy="898.0" r="8.4" fill="#007df5"/><circle cx="887.0" cy="2405.2" r="8.4" fill="#7a4bcd"/><circle cx="961.6" cy="1756.7" r="8.4" fill="#9c22ac"/><circle cx="944.1" cy="2512.7" r="8.4" fill="#9232b7"/><circle cx="922.4" cy="1745.6" r="8.4" fill="#754fd1"/><circle cx="972.8" cy="545.7" r="8.4" fill="#e9007c"/><circle cx="1094.4" cy="1162.7" r="8.4" fill="#ff0051"/><circle cx="983.8" cy="2538.5" r="8.4" fill="#c60099"/><circle cx="945.1" cy="938.3" r="8.4" fill="#873fc3"/><circle cx="859.6" cy="1162.6" r="8.4" fill="#008bfb"/><circle cx="911.6" cy="1756.8" r="8.4" fill="#6757d8"/><circle cx="846.0" cy="540.1" r="8.4" fill="#4964e3"/><circle cx="1071.8" cy="2395.1" r="8.4" fill="#ff0054"/><circle cx="948.4" cy="875.9" r="8.4" fill="#883fc3"/><circle cx="922.6" cy="2398.9" r="8.4" fill="#9828b0"/><circle cx="947.6" cy="2386.2" r="8.4" fill="#b20ca4"/><circle cx="1105.9" cy="2523.5" r="8.4" fill="#ff0053"/><circle cx="1057.3" cy="1161.3" r="8.4" fill="#fd005f"/><circle cx="985.3" cy="1158.1" r="8.4" fill="#b802a1"/><circle cx="842.9" cy="540.1" r="8.4" fill="#4a63e3"/><circle cx="987.8" cy="1162.2" r="8.4" fill="#b901a1"/><circle cx="1024.9" cy="917.8" r="8.4" fill="#d00093"/><circle cx="913.0" cy="542.8" r="8.4" fill="#9c23ad"/><circle cx="1015.2" cy="890.3" r="8.4" fill="#c4009a"/><circle cx="944.7" cy="2517.4" r="8.4" fill="#9035ba"/><circle cx="804.2" cy="538.7" r="8.4" fill="#0085f9"/><circle cx="923.8" cy="542.0" r="8.4" fill="#b10ea4"/><circle cx="1087.7" cy="1038.5" r="8.4" fill="#ff0053"/><circle cx="1048.1" cy="2404.4" r="8.4" fill="#ff005a"/><circle cx="949.9" cy="943.2" r="8.4" fill="#8740c3"/><circle cx="932.3" cy="1158.0" r="8.4" fill="#7250d2"/><circle cx="914.9" cy="2408.6" r="8.4" fill="#952eb5"/><circle cx="820.2" cy="901.7" r="8.4" fill="#0087fa"/><circle cx="993.4" cy="2536.3" r="8.4" fill="#d30090"/><circle cx="921.4" cy="1806.7" r="8.4" fill="#7350d2"/><circle cx="980.1" cy="543.8" r="8.4" fill="#f10072"/><circle cx="1086.3" cy="2402.7" r="8.4" fill="#ff0051"/><circle cx="965.7" cy="1038.6" r="8.4" fill="#8b3cc0"/><circle cx="894.0" cy="2548.8" r="8.4" fill="#3968e7"/><circle cx="1019.1" cy="538.7" r="8.4" fill="#ff0054"/><circle cx="816.6" cy="1781.9" r="8.4" fill="#0085f9"/><circle cx="1073.1" cy="1161.6" r="8.4" fill="#ff0053"/><circle cx="850.6" cy="885.4" r="8.4" fill="#0080f7"/><circle cx="859.8" cy="942.7" r="8.4" fill="#007cf5"/><circle cx="976.0" cy="1037.0" r="8.4" fill="#942fb5"/><circle cx="1298.2" cy="915.0" r="8.4" fill="#ff0051"/><circle cx="1064.3" cy="1161.5" r="8.4" fill="#ff005b"/><circle cx="981.5" cy="1776.8" r="8.4" fill="#ac14a6"/><circle cx="995.2" cy="1162.5" r="8.4" fill="#c4009a"/><circle cx="825.7" cy="916.5" r="8.4" fill="#0087fa"/><circle cx="939.8" cy="1753.9" r="8.4" fill="#8442c5"/><circle cx="934.5" cy="2555.5" r="8.4" fill="#883fc3"/><circle cx="945.4" cy="933.5" r="8.4" fill="#8641c4"/><circle cx="1003.8" cy="532.8" r="8.4" fill="#fd005e"/><circle cx="1078.8" cy="1163.6" r="8.4" fill="#ff0052"/><circle cx="931.1" cy="1795.8" r="8.4" fill="#7a4bcd"/><circle cx="973.7" cy="2545.1" r="8.4" fill="#b703a1"/><circle cx="879.7" cy="2533.7" r="8.4" fill="#007af4"/><circle cx="1021.8" cy="558.6" r="8.4" fill="#ff0051"/><circle cx="850.8" cy="934.7" r="8.4" fill="#0082f8"/><circle cx="943.3" cy="2507.9" r="8.4" fill="#9829b1"/><circle cx="1060.2" cy="1782.7" r="8.4" fill="#f5006d"/><circle cx="1096.2" cy="1162.7" r="8.4" fill="#ff0051"/><circle cx="997.6" cy="529.3" r="8.4" fill="#fb0063"/><circle cx="1129.6" cy="1162.7" r="8.4" fill="#ff0051"/><circle cx="962.5" cy="1770.7" r="8.4" fill="#9829b1"/><circle cx="965.9" cy="902.2" r="8.4" fill="#9233b8"/><circle cx="966.0" cy="1749.5" r="8.4" fill="#a41ca9"/><circle cx="865.1" cy="538.6" r="8.4" fill="#7151d3"/><circle cx="996.9" cy="545.8" r="8.4" fill="#fa0065"/><circle cx="815.2" cy="543.8" r="8.4" fill="#007df6"/><circle cx="999.3" cy="2538.5" r="8.4" fill="#d40090"/><circle cx="951.3" cy="928.7" r="8.4" fill="#8b3bbf"/><circle cx="881.6" cy="1790.3" r="8.4" fill="#0070ed"/><circle cx="963.8" cy="2421.1" r="8.4" fill="#c3009b"/><circle cx="874.0" cy="2535.0" r="8.4" fill="#007af4"/><circle cx="1045.6" cy="1164.0" r="8.4" fill="#f20072"/><circle cx="1029.0" cy="524.0" r="8.4" fill="#ff0051"/><circle cx="974.9" cy="915.0" r="8.4" fill="#9e21ac"/><circle cx="902.8" cy="539.5" r="8.4" fill="#962db4"/><circle cx="859.9" cy="912.1" r="8.4" fill="#0080f7"/><circle cx="889.5" cy="543.3" r="8.4" fill="#8a3dc0"/><circle cx="914.9" cy="931.3" r="8.4" fill="#7052d4"/><circle cx="961.0" cy="897.4" r="8.4" fill="#9232b8"/><circle cx="880.4" cy="1162.4" r="8.4" fill="#007ef6"/><circle cx="1055.7" cy="1038.8" r="8.4" fill="#f30070"/><circle cx="1137.4" cy="920.5" r="8.4" fill="#ff0051"/><circle cx="941.3" cy="542.2" r="8.4" fill="#c60099"/><circle cx="886.9" cy="1803.3" r="8.4" fill="#2a6bea"/><circle cx="889.0" cy="2525.2" r="8.4" fill="#076fec"/><circle cx="834.0" cy="1805.1" r="8.4" fill="#0081f7"/><circle cx="1000.1" cy="913.1" r="8.4" fill="#b30ba3"/><circle cx="867.9" cy="542.2" r="8.4" fill="#7151d3"/><circle cx="1005.6" cy="1770.5" r="8.4" fill="#ca0097"/><circle cx="864.3" cy="542.0" r="8.4" fill="#6c54d6"/><circle cx="967.8" cy="1165.1" r="8.4" fill="#9c23ad"/><circle cx="816.1" cy="905.6" r="8.4" fill="#0088fa"/><circle cx="1075.0" cy="1161.1" r="8.4" fill="#ff0052"/><circle cx="1046.2" cy="909.6" r="8.4" fill="#e6007f"/><circle cx="1041.6" cy="1774.4" r="8.4" fill="#eb007a"/><circle cx="863.8" cy="888.0" r="8.4" fill="#007cf5"/><circle cx="1023.1" cy="1159.1" r="8.4" fill="#e00086"/><circle cx="993.5" cy="2531.5" r="8.4" fill="#cd0094"/><circle cx="932.4" cy="1757.6" r="8.4" fill="#7a4bcd"/><circle cx="908.5" cy="1165.6" r="8.4" fill="#4b63e3"/><circle cx="898.4" cy="2506.7" r="8.4" fill="#565fe0"/><circle cx="1078.6" cy="919.1" r="8.4" fill="#fb0063"/><circle cx="860.2" cy="2420.6" r="8.4" fill="#595ede"/><circle cx="1867.4" cy="914.7" r="8.4" fill="#ff0051"/><circle cx="949.0" cy="2523.1" r="8.4" fill="#972bb2"/><circle cx="977.1" cy="1790.0" r="8.4" fill="#aa17a7"/><circle cx="896.4" cy="2410.3" r="8.4" fill="#7f47c9"/><circle cx="946.9" cy="1795.4" r="8.4" fill="#8740c3"/><circle cx="1019.4" cy="1789.9" r="8.4" fill="#db008a"/><circle cx="986.4" cy="918.1" r="8.4" fill="#ab15a7"/><circle cx="871.7" cy="540.9" r="8.4" fill="#794cce"/><circle cx="1019.6" cy="2519.0" r="8.4" fill="#eb007a"/><circle cx="947.8" cy="544.4" r="8.4" fill="#d00093"/><circle cx="852.3" cy="1784.2" r="8.4" fill="#0083f8"/><circle cx="1067.7" cy="1039.2" r="8.4" fill="#fb0062"/><circle cx="1036.2" cy="913.1" r="8.4" fill="#d6008e"/><circle cx="953.5" cy="2388.9" r="8.4" fill="#bb00a0"/><circle cx="1045.0" cy="1793.8" r="8.4" fill="#ec0079"/><circle cx="935.6" cy="1747.7" r="8.4" fill="#8046c9"/><circle cx="916.8" cy="1799.8" r="8.4" fill="#6459da"/><circle cx="1001.6" cy="1790.0" r="8.4" fill="#c70098"/><circle cx="945.4" cy="2557.4" r="8.4" fill="#9332b7"/><circle cx="1066.0" cy="2397.0" r="8.4" fill="#ff0051"/><circle cx="1022.4" cy="1778.6" r="8.4" fill="#dc0089"/><circle cx="940.7" cy="1162.5" r="8.4" fill="#8047c9"/><circle cx="997.1" cy="533.5" r="8.4" fill="#fa0065"/><circle cx="795.6" cy="916.8" r="8.4" fill="#0086fa"/><circle cx="1081.5" cy="2402.4" r="8.4" fill="#ff0051"/><circle cx="784.0" cy="2523.9" r="8.4" fill="#0087fa"/><circle cx="1031.6" cy="530.2" r="8.4" fill="#ff0051"/><circle cx="855.4" cy="885.8" r="8.4" fill="#0081f8"/><circle cx="922.0" cy="1792.6" r="8.4" fill="#7350d2"/><circle cx="954.3" cy="2545.5" r="8.4" fill="#9e21ac"/><circle cx="835.7" cy="913.1" r="8.4" fill="#0083f8"/><circle cx="815.9" cy="927.6" r="8.4" fill="#0086fa"/><circle cx="997.2" cy="552.0" r="8.4" fill="#fa0064"/><circle cx="870.0" cy="2397.1" r="8.4" fill="#6d54d5"/><circle cx="1013.5" cy="2397.6" r="8.4" fill="#ee0076"/><circle cx="973.7" cy="1038.9" r="8.4" fill="#952fb5"/><circle cx="903.9" cy="1160.7" r="8.4" fill="#3868e7"/><circle cx="830.0" cy="913.3" r="8.4" fill="#0085f9"/><circle cx="851.2" cy="905.1" r="8.4" fill="#007ff7"/><circle cx="889.3" cy="2510.9" r="8.4" fill="#1c6deb"/><circle cx="946.9" cy="1772.8" r="8.4" fill="#8d39bd"/><circle cx="1039.5" cy="541.7" r="8.4" fill="#ff0054"/><circle cx="1013.9" cy="2515.8" r="8.4" fill="#e6007f"/><circle cx="821.8" cy="1781.8" r="8.4" fill="#0086f9"/><circle cx="1039.5" cy="542.5" r="8.4" fill="#ff0051"/><circle cx="941.7" cy="1038.4" r="8.4" fill="#6f52d4"/><circle cx="864.0" cy="2516.5" r="8.4" fill="#0081f7"/><circle cx="893.8" cy="901.8" r="8.4" fill="#4066e6"/><circle cx="1055.3" cy="910.9" r="8.4" fill="#eb007a"/><circle cx="976.5" cy="1780.1" r="8.4" fill="#a71aa8"/><circle cx="977.7" cy="1039.1" r="8.4" fill="#972bb2"/><circle cx="871.0" cy="888.5" r="8.4" fill="#007af4"/><circle cx="921.2" cy="877.5" r="8.4" fill="#6d53d5"/><circle cx="944.0" cy="2541.3" r="8.4" fill="#9232b8"/><circle cx="923.8" cy="2526.3" r="8.4" fill="#8046c9"/><circle cx="975.8" cy="923.8" r="8.4" fill="#9e21ac"/><circle cx="847.6" cy="1779.7" r="8.4" fill="#0085f9"/><circle cx="948.3" cy="2518.2" r="8.4" fill="#9926af"/><circle cx="988.0" cy="2409.8" r="8.4" fill="#d8008c"/><circle cx="851.0" cy="915.0" r="8.4" fill="#0080f7"/><circle cx="928.9" cy="2557.0" r="8.4" fill="#8541c5"/><circle cx="978.5" cy="2511.1" r="8.4" fill="#ba00a0"/><circle cx="1018.7" cy="545.2" r="8.4" fill="#ff0051"/><circle cx="1008.5" cy="2523.4" r="8.4" fill="#df0086"/><circle cx="829.8" cy="544.9" r="8.4" fill="#0073f0"/><circle cx="1029.5" cy="528.3" r="8.4" fill="#ff0051"/><circle cx="904.2" cy="2519.6" r="8.4" fill="#5360e0"/><circle cx="939.9" cy="914.4" r="8.4" fill="#8145c8"/><circle cx="884.4" cy="2555.4" r="8.4" fill="#0077f2"/><circle cx="876.2" cy="1765.0" r="8.4" fill="#0079f3"/><circle cx="936.8" cy="1789.4" r="8.4" fill="#8047c9"/><circle cx="960.5" cy="920.7" r="8.4" fill="#9430b6"/><circle cx="1051.3" cy="1163.9" r="8.4" fill="#f80068"/><circle cx="1073.6" cy="2526.4" r="8.4" fill="#ff0057"/><circle cx="1007.1" cy="888.0" r="8.4" fill="#be009d"/><circle cx="1022.1" cy="906.5" r="8.4" fill="#c80098"/><circle cx="1091.2" cy="1163.2" r="8.4" fill="#ff0051"/><circle cx="904.1" cy="2524.5" r="8.4" fill="#615adb"/><circle cx="1035.9" cy="548.9" r="8.4" fill="#ff0051"/><circle cx="1005.2" cy="891.4" r="8.4" fill="#bb009f"/><circle cx="924.7" cy="2531.2" r="8.4" fill="#7e48ca"/><circle cx="991.1" cy="536.6" r="8.4" fill="#f7006a"/><circle cx="1029.9" cy="2514.5" r="8.4" fill="#f00074"/><circle cx="975.9" cy="1165.8" r="8.4" fill="#ab16a7"/><circle cx="869.0" cy="2531.8" r="8.4" fill="#007ff6"/><circle cx="1061.7" cy="1039.4" r="8.4" fill="#f70069"/><circle cx="902.8" cy="549.4" r="8.4" fill="#952eb5"/><circle cx="1092.4" cy="1782.2" r="8.4" fill="#ff0056"/><circle cx="975.6" cy="928.2" r="8.4" fill="#9b23ad"/><circle cx="969.0" cy="2559.5" r="8.4" fill="#ba00a0"/><circle cx="896.4" cy="922.3" r="8.4" fill="#4665e4"/><circle cx="994.5" cy="2526.6" r="8.4" fill="#cf0093"/><circle cx="799.9" cy="908.8" r="8.4" fill="#0089fa"/><circle cx="1074.4" cy="2529.4" r="8.4" fill="#ff0051"/><circle cx="1007.2" cy="536.7" r="8.4" fill="#fd005f"/><circle cx="963.7" cy="2409.4" r="8.4" fill="#c3009b"/><circle cx="931.6" cy="2414.4" r="8.4" fill="#9c22ad"/><circle cx="896.0" cy="904.7" r="8.4" fill="#4764e4"/><circle cx="813.3" cy="1786.4" r="8.4" fill="#0087fa"/><circle cx="928.6" cy="2547.3" r="8.4" fill="#8344c7"/><circle cx="856.9" cy="2506.2" r="8.4" fill="#0087fa"/><circle cx="842.8" cy="544.8" r="8.4" fill="#4066e6"/><circle cx="928.9" cy="884.6" r="8.4" fill="#784cce"/><circle cx="1089.5" cy="2529.9" r="8.4" fill="#ff0051"/><circle cx="930.1" cy="2485.5" r="8.4" fill="#8542c5"/><circle cx="806.2" cy="909.1" r="8.4" fill="#008afb"/><circle cx="837.3" cy="1797.7" r="8.4" fill="#0085f9"/><circle cx="920.1" cy="1158.9" r="8.4" fill="#605bdc"/><circle cx="895.3" cy="543.9" r="8.4" fill="#9134b9"/><circle cx="988.4" cy="2395.4" r="8.4" fill="#d8008d"/><circle cx="846.2" cy="910.6" r="8.4" fill="#0082f8"/><circle cx="1056.4" cy="916.1" r="8.4" fill="#e9007c"/><circle cx="1097.2" cy="1786.7" r="8.4" fill="#ff0051"/></g>
<g font-family="'Liberation Sans', Arial, sans-serif" fill="#262626"><text x="319.5" y="190.5" font-size="54.17" text-anchor="end">feature_190</text><text x="319.5" y="314.5" font-size="54.17" text-anchor="end">feature_3</text><text x="319.5" y="438.5" font-size="54.17" text-anchor="end">feature_177</text><text x="319.5" y="562.5" font-size="54.17" text-anchor="end">feature_6</text><text x="319.5" y="686.5" font-size="54.17" text-anchor="end">feature_162</text><text x="319.5" y="810.5" font-size="54.17" text-anchor="end">feature_222</text><text x="319.5" y="934.5" font-size="54.17" text-anchor="end">feature_40</text><text x="319.5" y="1058.5" font-size="54.17" text-anchor="end">feature_13</text><text x="319.5" y="1182.5" font-size="54.17" text-anchor="end">feature_8</text><text x="319.5" y="1306.5" font-size="54.17" text-anchor="end">feature_78</text><text x="319.5" y="1430.5" font-size="54.17" text-anchor="end">feature_4</text><text x="319.5" y="1554.5" font-size="54.17" text-anchor="end">feature_25</text><text x="319.5" y="1678.5" font-size="54.17" text-anchor="end">feature_207</text><text x="319.5" y="1802.5" font-size="54.17" text-anchor="end">feature_15</text><text x="319.5" y="1926.5" font-size="54.17" text-anchor="end">feature_186</text><text x="319.5" y="2050.5" font-size="54.17" text-anchor="end">feature_174</text><text x="319.5" y="2174.5" font-size="54.17" text-anchor="end">feature_16</text><text x="319.5" y="2298.5" font-size="54.17" text-anchor="end">feature_106</text><text x="319.5" y="2422.5" font-size="54.17" text-anchor="end">feature_26</text><text x="319.5" y="2546.5" font-size="54.17" text-anchor="end">feature_36</text><text x="679" y="2715" font-size="45.83" text-anchor="middle">−2000</text><text x="938" y="2715" font-size="45.83" text-anchor="middle">0</text><text x="1197" y="2715" font-size="45.83" text-anchor="middle">2000</text><text x="1456" y="2715" font-size="45.83" text-anchor="middle">4000</text><text x="1715" y="2715" font-size="45.83" text-anchor="middle">6000</text><text x="1195" y="2779" font-size="54.17" text-anchor="middle">SHAP value (impact on model output)</text><text x="2116" y="65" font-size="45.83">High</text><text x="2115" y="2668.7" font-size="45.83">Low</text><text transform="translate(2245 1349) rotate(-90)" font-size="50" text-anchor="middle">Feature value</text></g>
</svg></body></html>
